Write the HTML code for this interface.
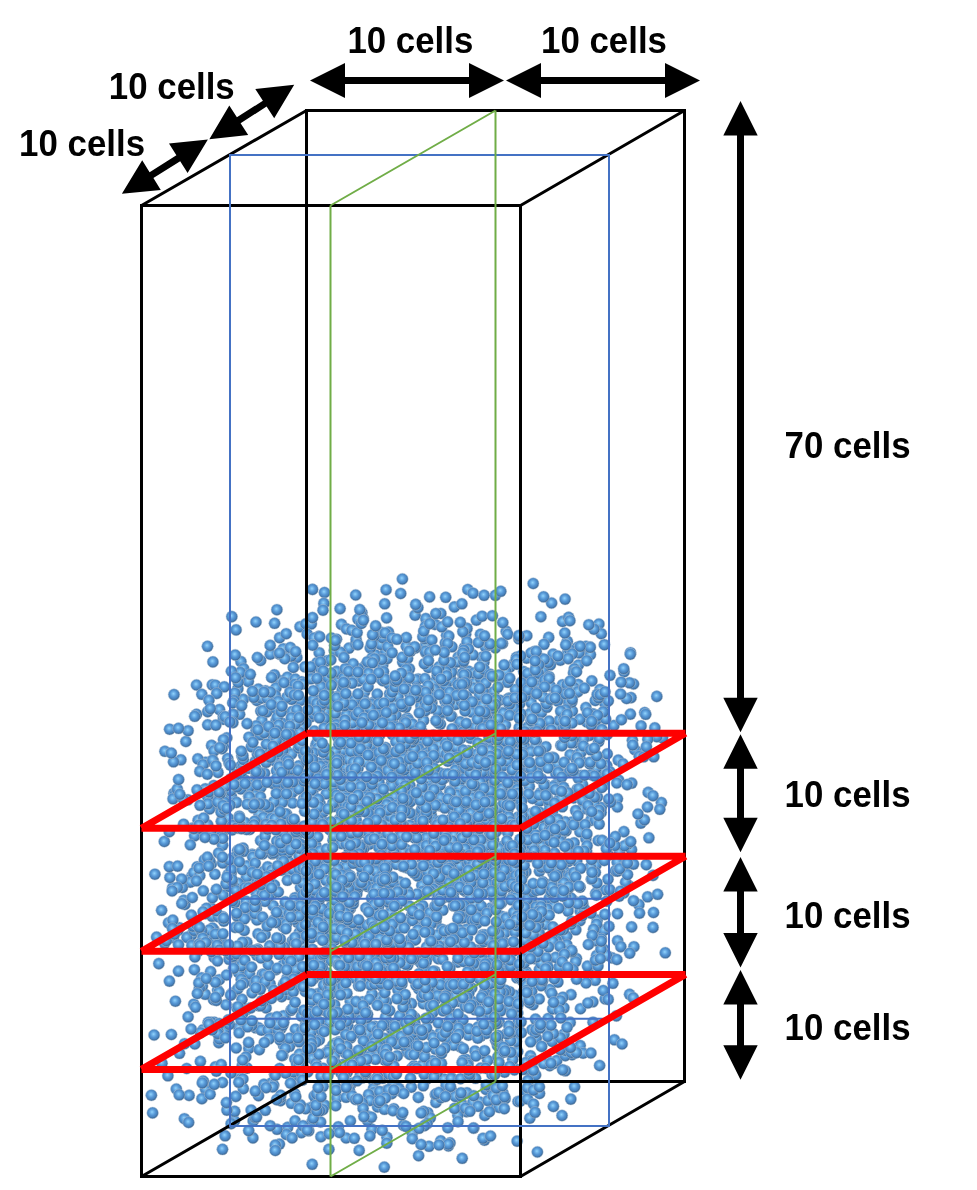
<!DOCTYPE html>
<html><head><meta charset="utf-8"><style>
html,body{margin:0;padding:0;background:#fff;width:977px;height:1190px;overflow:hidden}
svg{display:block}
text{font-family:"Liberation Sans",sans-serif;font-weight:bold;font-size:37px;fill:#000}
.tx{will-change:transform;opacity:0.999}
</style></head><body>
<svg width="977" height="1190" viewBox="0 0 977 1190">
<defs>
<radialGradient id="g" cx="0.47" cy="0.45" r="0.62" fx="0.45" fy="0.42">
<stop offset="0" stop-color="#92d5fb"/>
<stop offset="0.22" stop-color="#72b4ea"/>
<stop offset="0.45" stop-color="#5596d4"/>
<stop offset="0.66" stop-color="#4a84bf"/>
<stop offset="0.8" stop-color="#3d6c9c"/>
<stop offset="0.92" stop-color="#2f4f70"/>
<stop offset="1" stop-color="#2a4560"/>
</radialGradient>
</defs>
<g fill="url(#g)" stroke="#b0c6da" stroke-width="0.5">
<circle cx="330.2" cy="1006.5" r="5.8"/>
<circle cx="359.7" cy="1015.6" r="5.8"/>
<circle cx="362.1" cy="1016.3" r="5.8"/>
<circle cx="386.5" cy="1002.0" r="5.8"/>
<circle cx="360.4" cy="1063.2" r="5.8"/>
<circle cx="346.7" cy="944.3" r="5.8"/>
<circle cx="391.6" cy="920.0" r="5.8"/>
<circle cx="364.9" cy="1023.4" r="5.8"/>
<circle cx="309.9" cy="793.0" r="5.8"/>
<circle cx="367.5" cy="886.4" r="5.8"/>
<circle cx="310.8" cy="898.7" r="5.8"/>
<circle cx="354.2" cy="1053.5" r="5.8"/>
<circle cx="384.8" cy="1060.1" r="5.8"/>
<circle cx="302.2" cy="1070.4" r="5.8"/>
<circle cx="335.8" cy="906.7" r="5.8"/>
<circle cx="384.6" cy="875.5" r="5.8"/>
<circle cx="374.6" cy="914.7" r="5.8"/>
<circle cx="419.8" cy="975.8" r="5.8"/>
<circle cx="317.6" cy="993.7" r="5.8"/>
<circle cx="340.6" cy="1072.3" r="5.8"/>
<circle cx="323.5" cy="976.3" r="5.8"/>
<circle cx="307.1" cy="796.1" r="5.8"/>
<circle cx="372.8" cy="838.2" r="5.8"/>
<circle cx="333.3" cy="878.2" r="5.8"/>
<circle cx="323.4" cy="916.4" r="5.8"/>
<circle cx="410.6" cy="939.0" r="5.8"/>
<circle cx="351.5" cy="1083.3" r="5.8"/>
<circle cx="395.1" cy="850.8" r="5.8"/>
<circle cx="338.9" cy="914.2" r="5.8"/>
<circle cx="296.6" cy="845.5" r="5.8"/>
<circle cx="330.2" cy="858.8" r="5.8"/>
<circle cx="434.5" cy="915.3" r="5.8"/>
<circle cx="313.1" cy="1013.3" r="5.8"/>
<circle cx="347.7" cy="1025.7" r="5.8"/>
<circle cx="295.8" cy="942.8" r="5.8"/>
<circle cx="313.3" cy="782.1" r="5.8"/>
<circle cx="422.7" cy="927.7" r="5.8"/>
<circle cx="517.7" cy="1051.6" r="5.8"/>
<circle cx="283.0" cy="952.1" r="5.8"/>
<circle cx="300.6" cy="975.5" r="5.8"/>
<circle cx="314.9" cy="800.2" r="5.8"/>
<circle cx="424.8" cy="1056.1" r="5.8"/>
<circle cx="299.3" cy="932.6" r="5.8"/>
<circle cx="347.6" cy="789.4" r="5.8"/>
<circle cx="298.7" cy="765.9" r="5.8"/>
<circle cx="413.7" cy="940.4" r="5.8"/>
<circle cx="333.9" cy="806.5" r="5.8"/>
<circle cx="373.9" cy="918.9" r="5.8"/>
<circle cx="396.9" cy="941.9" r="5.8"/>
<circle cx="461.1" cy="917.3" r="5.8"/>
<circle cx="313.4" cy="972.0" r="5.8"/>
<circle cx="433.2" cy="858.4" r="5.8"/>
<circle cx="283.6" cy="1045.5" r="5.8"/>
<circle cx="301.4" cy="945.3" r="5.8"/>
<circle cx="380.4" cy="896.9" r="5.8"/>
<circle cx="300.6" cy="700.3" r="5.8"/>
<circle cx="384.9" cy="861.7" r="5.8"/>
<circle cx="347.6" cy="818.6" r="5.8"/>
<circle cx="303.0" cy="977.4" r="5.8"/>
<circle cx="373.8" cy="1033.8" r="5.8"/>
<circle cx="279.9" cy="1039.8" r="5.8"/>
<circle cx="304.0" cy="862.6" r="5.8"/>
<circle cx="335.1" cy="839.8" r="5.8"/>
<circle cx="309.4" cy="892.2" r="5.8"/>
<circle cx="380.6" cy="869.9" r="5.8"/>
<circle cx="330.4" cy="704.8" r="5.8"/>
<circle cx="430.8" cy="881.9" r="5.8"/>
<circle cx="313.5" cy="923.9" r="5.8"/>
<circle cx="424.8" cy="995.3" r="5.8"/>
<circle cx="397.2" cy="818.4" r="5.8"/>
<circle cx="270.1" cy="983.8" r="5.8"/>
<circle cx="436.0" cy="917.6" r="5.8"/>
<circle cx="273.8" cy="990.3" r="5.8"/>
<circle cx="416.3" cy="850.8" r="5.8"/>
<circle cx="450.1" cy="877.7" r="5.8"/>
<circle cx="349.1" cy="882.3" r="5.8"/>
<circle cx="468.4" cy="859.1" r="5.8"/>
<circle cx="290.4" cy="874.2" r="5.8"/>
<circle cx="401.9" cy="794.6" r="5.8"/>
<circle cx="375.1" cy="810.6" r="5.8"/>
<circle cx="362.9" cy="973.9" r="5.8"/>
<circle cx="358.2" cy="938.2" r="5.8"/>
<circle cx="370.8" cy="883.2" r="5.8"/>
<circle cx="342.3" cy="960.2" r="5.8"/>
<circle cx="289.4" cy="994.5" r="5.8"/>
<circle cx="376.1" cy="729.1" r="5.8"/>
<circle cx="391.5" cy="888.0" r="5.8"/>
<circle cx="321.3" cy="819.0" r="5.8"/>
<circle cx="516.3" cy="1041.4" r="5.8"/>
<circle cx="276.0" cy="969.6" r="5.8"/>
<circle cx="393.0" cy="1083.4" r="5.8"/>
<circle cx="375.5" cy="825.2" r="5.8"/>
<circle cx="297.9" cy="776.3" r="5.8"/>
<circle cx="335.5" cy="825.0" r="5.8"/>
<circle cx="288.4" cy="904.3" r="5.8"/>
<circle cx="549.8" cy="989.5" r="5.8"/>
<circle cx="442.9" cy="910.1" r="5.8"/>
<circle cx="355.7" cy="786.8" r="5.8"/>
<circle cx="326.7" cy="759.7" r="5.8"/>
<circle cx="492.1" cy="891.9" r="5.8"/>
<circle cx="459.0" cy="869.8" r="5.8"/>
<circle cx="341.2" cy="1048.8" r="5.8"/>
<circle cx="501.1" cy="891.7" r="5.8"/>
<circle cx="317.9" cy="817.8" r="5.8"/>
<circle cx="339.2" cy="770.8" r="5.8"/>
<circle cx="458.7" cy="918.9" r="5.8"/>
<circle cx="306.0" cy="1022.2" r="5.8"/>
<circle cx="482.0" cy="1018.4" r="5.8"/>
<circle cx="324.0" cy="924.7" r="5.8"/>
<circle cx="435.9" cy="921.4" r="5.8"/>
<circle cx="456.6" cy="995.6" r="5.8"/>
<circle cx="297.5" cy="922.3" r="5.8"/>
<circle cx="357.8" cy="889.2" r="5.8"/>
<circle cx="356.7" cy="894.1" r="5.8"/>
<circle cx="405.1" cy="1035.3" r="5.8"/>
<circle cx="345.2" cy="833.7" r="5.8"/>
<circle cx="484.4" cy="891.0" r="5.8"/>
<circle cx="330.0" cy="954.9" r="5.8"/>
<circle cx="465.5" cy="891.5" r="5.8"/>
<circle cx="504.6" cy="933.0" r="5.8"/>
<circle cx="333.3" cy="766.8" r="5.8"/>
<circle cx="378.9" cy="865.3" r="5.8"/>
<circle cx="339.8" cy="778.1" r="5.8"/>
<circle cx="437.4" cy="899.4" r="5.8"/>
<circle cx="347.8" cy="791.8" r="5.8"/>
<circle cx="407.3" cy="718.0" r="5.8"/>
<circle cx="526.2" cy="971.7" r="5.8"/>
<circle cx="450.4" cy="848.6" r="5.8"/>
<circle cx="337.7" cy="737.3" r="5.8"/>
<circle cx="303.9" cy="946.1" r="5.8"/>
<circle cx="434.1" cy="830.2" r="5.8"/>
<circle cx="292.6" cy="869.3" r="5.8"/>
<circle cx="432.8" cy="842.0" r="5.8"/>
<circle cx="465.3" cy="929.9" r="5.8"/>
<circle cx="436.4" cy="757.6" r="5.8"/>
<circle cx="378.9" cy="1098.7" r="5.8"/>
<circle cx="292.3" cy="941.0" r="5.8"/>
<circle cx="372.2" cy="745.1" r="5.8"/>
<circle cx="289.8" cy="773.0" r="5.8"/>
<circle cx="305.3" cy="1017.0" r="5.8"/>
<circle cx="379.7" cy="1027.6" r="5.8"/>
<circle cx="309.0" cy="867.2" r="5.8"/>
<circle cx="464.8" cy="940.8" r="5.8"/>
<circle cx="451.4" cy="1077.8" r="5.8"/>
<circle cx="369.3" cy="844.2" r="5.8"/>
<circle cx="338.9" cy="679.5" r="5.8"/>
<circle cx="345.9" cy="927.5" r="5.8"/>
<circle cx="324.9" cy="1105.4" r="5.8"/>
<circle cx="358.1" cy="850.2" r="5.8"/>
<circle cx="405.8" cy="811.0" r="5.8"/>
<circle cx="422.1" cy="739.9" r="5.8"/>
<circle cx="347.3" cy="1072.2" r="5.8"/>
<circle cx="273.1" cy="905.7" r="5.8"/>
<circle cx="397.3" cy="939.1" r="5.8"/>
<circle cx="473.9" cy="812.1" r="5.8"/>
<circle cx="290.2" cy="846.0" r="5.8"/>
<circle cx="465.9" cy="785.0" r="5.8"/>
<circle cx="410.1" cy="825.2" r="5.8"/>
<circle cx="393.1" cy="723.4" r="5.8"/>
<circle cx="445.7" cy="739.2" r="5.8"/>
<circle cx="285.6" cy="749.4" r="5.8"/>
<circle cx="411.3" cy="916.4" r="5.8"/>
<circle cx="379.9" cy="997.8" r="5.8"/>
<circle cx="343.7" cy="904.6" r="5.8"/>
<circle cx="372.7" cy="1099.9" r="5.8"/>
<circle cx="311.9" cy="872.7" r="5.8"/>
<circle cx="541.5" cy="918.3" r="5.8"/>
<circle cx="364.7" cy="799.5" r="5.8"/>
<circle cx="460.8" cy="904.8" r="5.8"/>
<circle cx="428.0" cy="930.4" r="5.8"/>
<circle cx="281.5" cy="920.1" r="5.8"/>
<circle cx="503.2" cy="956.0" r="5.8"/>
<circle cx="303.7" cy="755.2" r="5.8"/>
<circle cx="380.4" cy="820.9" r="5.8"/>
<circle cx="413.1" cy="814.5" r="5.8"/>
<circle cx="379.9" cy="955.9" r="5.8"/>
<circle cx="477.9" cy="798.5" r="5.8"/>
<circle cx="397.0" cy="1022.0" r="5.8"/>
<circle cx="471.9" cy="836.8" r="5.8"/>
<circle cx="276.7" cy="792.1" r="5.8"/>
<circle cx="398.6" cy="861.6" r="5.8"/>
<circle cx="408.8" cy="754.4" r="5.8"/>
<circle cx="285.9" cy="796.8" r="5.8"/>
<circle cx="287.0" cy="739.3" r="5.8"/>
<circle cx="373.6" cy="1081.3" r="5.8"/>
<circle cx="342.8" cy="721.6" r="5.8"/>
<circle cx="386.4" cy="726.2" r="5.8"/>
<circle cx="353.2" cy="776.6" r="5.8"/>
<circle cx="439.3" cy="745.0" r="5.8"/>
<circle cx="328.6" cy="782.4" r="5.8"/>
<circle cx="490.8" cy="1020.8" r="5.8"/>
<circle cx="349.5" cy="706.8" r="5.8"/>
<circle cx="399.7" cy="919.5" r="5.8"/>
<circle cx="339.3" cy="795.9" r="5.8"/>
<circle cx="490.9" cy="973.4" r="5.8"/>
<circle cx="554.7" cy="997.9" r="5.8"/>
<circle cx="417.5" cy="735.1" r="5.8"/>
<circle cx="519.1" cy="931.4" r="5.8"/>
<circle cx="378.9" cy="847.5" r="5.8"/>
<circle cx="313.7" cy="1053.3" r="5.8"/>
<circle cx="387.8" cy="767.2" r="5.8"/>
<circle cx="310.4" cy="773.5" r="5.8"/>
<circle cx="497.5" cy="962.1" r="5.8"/>
<circle cx="396.0" cy="751.9" r="5.8"/>
<circle cx="525.7" cy="914.3" r="5.8"/>
<circle cx="274.9" cy="848.6" r="5.8"/>
<circle cx="444.0" cy="1079.0" r="5.8"/>
<circle cx="550.1" cy="936.3" r="5.8"/>
<circle cx="531.6" cy="835.4" r="5.8"/>
<circle cx="421.6" cy="809.4" r="5.8"/>
<circle cx="486.0" cy="1089.4" r="5.8"/>
<circle cx="419.1" cy="930.2" r="5.8"/>
<circle cx="428.4" cy="667.5" r="5.8"/>
<circle cx="384.6" cy="761.8" r="5.8"/>
<circle cx="517.1" cy="921.0" r="5.8"/>
<circle cx="512.6" cy="896.8" r="5.8"/>
<circle cx="398.0" cy="732.3" r="5.8"/>
<circle cx="380.4" cy="773.9" r="5.8"/>
<circle cx="248.8" cy="1048.4" r="5.8"/>
<circle cx="349.8" cy="890.0" r="5.8"/>
<circle cx="375.8" cy="1036.3" r="5.8"/>
<circle cx="372.0" cy="993.9" r="5.8"/>
<circle cx="473.9" cy="810.0" r="5.8"/>
<circle cx="264.8" cy="849.3" r="5.8"/>
<circle cx="492.1" cy="752.1" r="5.8"/>
<circle cx="476.4" cy="768.3" r="5.8"/>
<circle cx="515.3" cy="918.4" r="5.8"/>
<circle cx="280.6" cy="943.6" r="5.8"/>
<circle cx="549.4" cy="941.5" r="5.8"/>
<circle cx="331.4" cy="932.8" r="5.8"/>
<circle cx="313.6" cy="841.9" r="5.8"/>
<circle cx="535.5" cy="958.8" r="5.8"/>
<circle cx="431.3" cy="815.5" r="5.8"/>
<circle cx="283.0" cy="926.4" r="5.8"/>
<circle cx="455.2" cy="777.2" r="5.8"/>
<circle cx="461.6" cy="775.7" r="5.8"/>
<circle cx="443.3" cy="941.7" r="5.8"/>
<circle cx="319.2" cy="680.3" r="5.8"/>
<circle cx="425.0" cy="861.3" r="5.8"/>
<circle cx="467.7" cy="848.9" r="5.8"/>
<circle cx="406.3" cy="680.8" r="5.8"/>
<circle cx="400.3" cy="689.8" r="5.8"/>
<circle cx="449.8" cy="750.1" r="5.8"/>
<circle cx="427.1" cy="752.5" r="5.8"/>
<circle cx="376.1" cy="628.3" r="5.8"/>
<circle cx="367.1" cy="713.1" r="5.8"/>
<circle cx="454.1" cy="771.9" r="5.8"/>
<circle cx="362.5" cy="1077.9" r="5.8"/>
<circle cx="289.1" cy="957.5" r="5.8"/>
<circle cx="456.6" cy="703.8" r="5.8"/>
<circle cx="424.9" cy="894.1" r="5.8"/>
<circle cx="401.9" cy="811.8" r="5.8"/>
<circle cx="292.3" cy="970.8" r="5.8"/>
<circle cx="494.2" cy="852.5" r="5.8"/>
<circle cx="426.9" cy="841.5" r="5.8"/>
<circle cx="478.9" cy="870.0" r="5.8"/>
<circle cx="375.3" cy="837.0" r="5.8"/>
<circle cx="423.4" cy="1003.6" r="5.8"/>
<circle cx="399.5" cy="835.3" r="5.8"/>
<circle cx="536.3" cy="1038.0" r="5.8"/>
<circle cx="408.4" cy="786.0" r="5.8"/>
<circle cx="549.3" cy="898.2" r="5.8"/>
<circle cx="279.3" cy="756.3" r="5.8"/>
<circle cx="278.3" cy="796.1" r="5.8"/>
<circle cx="535.5" cy="956.9" r="5.8"/>
<circle cx="510.5" cy="1040.7" r="5.8"/>
<circle cx="473.8" cy="813.0" r="5.8"/>
<circle cx="423.1" cy="756.2" r="5.8"/>
<circle cx="469.9" cy="804.6" r="5.8"/>
<circle cx="447.8" cy="761.2" r="5.8"/>
<circle cx="463.6" cy="939.6" r="5.8"/>
<circle cx="378.2" cy="964.9" r="5.8"/>
<circle cx="234.5" cy="1120.8" r="5.8"/>
<circle cx="406.8" cy="949.8" r="5.8"/>
<circle cx="367.5" cy="1033.5" r="5.8"/>
<circle cx="307.1" cy="949.5" r="5.8"/>
<circle cx="342.4" cy="794.8" r="5.8"/>
<circle cx="315.8" cy="745.4" r="5.8"/>
<circle cx="596.5" cy="929.5" r="5.8"/>
<circle cx="340.8" cy="802.1" r="5.8"/>
<circle cx="362.4" cy="873.4" r="5.8"/>
<circle cx="307.2" cy="934.4" r="5.8"/>
<circle cx="339.3" cy="819.2" r="5.8"/>
<circle cx="498.6" cy="731.7" r="5.8"/>
<circle cx="435.5" cy="821.8" r="5.8"/>
<circle cx="471.9" cy="1001.4" r="5.8"/>
<circle cx="360.6" cy="794.3" r="5.8"/>
<circle cx="476.1" cy="950.4" r="5.8"/>
<circle cx="416.1" cy="829.8" r="5.8"/>
<circle cx="501.7" cy="828.5" r="5.8"/>
<circle cx="310.7" cy="996.1" r="5.8"/>
<circle cx="438.2" cy="718.4" r="5.8"/>
<circle cx="548.1" cy="1018.5" r="5.8"/>
<circle cx="350.2" cy="1017.6" r="5.8"/>
<circle cx="317.8" cy="861.6" r="5.8"/>
<circle cx="617.6" cy="940.7" r="5.8"/>
<circle cx="258.0" cy="933.8" r="5.8"/>
<circle cx="475.4" cy="682.5" r="5.8"/>
<circle cx="435.2" cy="751.1" r="5.8"/>
<circle cx="482.1" cy="979.5" r="5.8"/>
<circle cx="514.5" cy="1068.4" r="5.8"/>
<circle cx="335.1" cy="1043.5" r="5.8"/>
<circle cx="518.9" cy="970.2" r="5.8"/>
<circle cx="280.4" cy="1071.4" r="5.8"/>
<circle cx="262.3" cy="974.4" r="5.8"/>
<circle cx="504.6" cy="804.5" r="5.8"/>
<circle cx="438.1" cy="952.0" r="5.8"/>
<circle cx="304.2" cy="912.4" r="5.8"/>
<circle cx="517.6" cy="924.9" r="5.8"/>
<circle cx="341.3" cy="898.0" r="5.8"/>
<circle cx="342.1" cy="829.1" r="5.8"/>
<circle cx="458.5" cy="805.5" r="5.8"/>
<circle cx="442.8" cy="977.7" r="5.8"/>
<circle cx="557.9" cy="982.1" r="5.8"/>
<circle cx="375.2" cy="817.3" r="5.8"/>
<circle cx="279.6" cy="847.6" r="5.8"/>
<circle cx="472.2" cy="805.4" r="5.8"/>
<circle cx="323.7" cy="811.6" r="5.8"/>
<circle cx="434.5" cy="990.9" r="5.8"/>
<circle cx="334.3" cy="1056.1" r="5.8"/>
<circle cx="280.6" cy="1100.6" r="5.8"/>
<circle cx="273.7" cy="920.0" r="5.8"/>
<circle cx="467.2" cy="981.4" r="5.8"/>
<circle cx="445.7" cy="743.5" r="5.8"/>
<circle cx="539.4" cy="969.5" r="5.8"/>
<circle cx="316.9" cy="1099.1" r="5.8"/>
<circle cx="568.4" cy="861.4" r="5.8"/>
<circle cx="498.6" cy="807.8" r="5.8"/>
<circle cx="280.1" cy="680.6" r="5.8"/>
<circle cx="446.2" cy="822.0" r="5.8"/>
<circle cx="482.1" cy="801.7" r="5.8"/>
<circle cx="432.8" cy="986.8" r="5.8"/>
<circle cx="352.9" cy="708.6" r="5.8"/>
<circle cx="327.0" cy="862.9" r="5.8"/>
<circle cx="399.1" cy="769.1" r="5.8"/>
<circle cx="282.2" cy="841.7" r="5.8"/>
<circle cx="430.6" cy="990.1" r="5.8"/>
<circle cx="374.1" cy="883.3" r="5.8"/>
<circle cx="414.1" cy="729.3" r="5.8"/>
<circle cx="412.6" cy="796.8" r="5.8"/>
<circle cx="345.0" cy="724.6" r="5.8"/>
<circle cx="387.3" cy="944.8" r="5.8"/>
<circle cx="422.7" cy="804.9" r="5.8"/>
<circle cx="423.3" cy="822.2" r="5.8"/>
<circle cx="342.5" cy="719.9" r="5.8"/>
<circle cx="261.2" cy="852.0" r="5.8"/>
<circle cx="461.5" cy="659.6" r="5.8"/>
<circle cx="291.7" cy="1072.4" r="5.8"/>
<circle cx="506.6" cy="759.0" r="5.8"/>
<circle cx="434.3" cy="998.1" r="5.8"/>
<circle cx="338.8" cy="773.1" r="5.8"/>
<circle cx="559.5" cy="798.9" r="5.8"/>
<circle cx="551.9" cy="826.4" r="5.8"/>
<circle cx="482.0" cy="958.1" r="5.8"/>
<circle cx="266.1" cy="1007.9" r="5.8"/>
<circle cx="426.3" cy="1079.3" r="5.8"/>
<circle cx="283.7" cy="783.4" r="5.8"/>
<circle cx="471.1" cy="874.8" r="5.8"/>
<circle cx="511.9" cy="765.6" r="5.8"/>
<circle cx="419.5" cy="895.3" r="5.8"/>
<circle cx="416.6" cy="920.8" r="5.8"/>
<circle cx="317.3" cy="865.0" r="5.8"/>
<circle cx="462.3" cy="793.4" r="5.8"/>
<circle cx="519.2" cy="727.7" r="5.8"/>
<circle cx="540.6" cy="842.0" r="5.8"/>
<circle cx="576.4" cy="958.5" r="5.8"/>
<circle cx="503.6" cy="969.0" r="5.8"/>
<circle cx="347.1" cy="798.0" r="5.8"/>
<circle cx="345.0" cy="865.0" r="5.8"/>
<circle cx="421.8" cy="885.3" r="5.8"/>
<circle cx="532.9" cy="922.4" r="5.8"/>
<circle cx="264.4" cy="974.1" r="5.8"/>
<circle cx="493.7" cy="897.1" r="5.8"/>
<circle cx="489.0" cy="769.9" r="5.8"/>
<circle cx="322.6" cy="990.9" r="5.8"/>
<circle cx="304.5" cy="846.8" r="5.8"/>
<circle cx="330.7" cy="943.5" r="5.8"/>
<circle cx="612.1" cy="957.9" r="5.8"/>
<circle cx="339.3" cy="834.2" r="5.8"/>
<circle cx="522.1" cy="747.9" r="5.8"/>
<circle cx="400.6" cy="702.9" r="5.8"/>
<circle cx="246.9" cy="1009.3" r="5.8"/>
<circle cx="350.3" cy="908.5" r="5.8"/>
<circle cx="450.9" cy="679.4" r="5.8"/>
<circle cx="386.0" cy="797.4" r="5.8"/>
<circle cx="580.2" cy="1045.6" r="5.8"/>
<circle cx="387.9" cy="971.9" r="5.8"/>
<circle cx="378.6" cy="906.4" r="5.8"/>
<circle cx="373.5" cy="1088.5" r="5.8"/>
<circle cx="461.7" cy="1021.1" r="5.8"/>
<circle cx="431.3" cy="844.7" r="5.8"/>
<circle cx="315.4" cy="1103.9" r="5.8"/>
<circle cx="484.2" cy="821.6" r="5.8"/>
<circle cx="493.5" cy="785.2" r="5.8"/>
<circle cx="481.2" cy="804.3" r="5.8"/>
<circle cx="430.2" cy="941.3" r="5.8"/>
<circle cx="274.8" cy="921.5" r="5.8"/>
<circle cx="563.9" cy="1007.8" r="5.8"/>
<circle cx="325.7" cy="711.7" r="5.8"/>
<circle cx="443.0" cy="712.8" r="5.8"/>
<circle cx="526.6" cy="852.8" r="5.8"/>
<circle cx="450.2" cy="663.2" r="5.8"/>
<circle cx="380.0" cy="972.3" r="5.8"/>
<circle cx="539.5" cy="871.2" r="5.8"/>
<circle cx="358.6" cy="1054.9" r="5.8"/>
<circle cx="318.0" cy="1024.1" r="5.8"/>
<circle cx="502.2" cy="681.9" r="5.8"/>
<circle cx="509.2" cy="790.3" r="5.8"/>
<circle cx="441.4" cy="851.5" r="5.8"/>
<circle cx="348.9" cy="817.8" r="5.8"/>
<circle cx="312.2" cy="905.0" r="5.8"/>
<circle cx="504.6" cy="1072.1" r="5.8"/>
<circle cx="461.9" cy="814.8" r="5.8"/>
<circle cx="294.4" cy="790.6" r="5.8"/>
<circle cx="541.1" cy="985.7" r="5.8"/>
<circle cx="317.0" cy="662.7" r="5.8"/>
<circle cx="552.9" cy="927.6" r="5.8"/>
<circle cx="244.2" cy="930.5" r="5.8"/>
<circle cx="573.7" cy="798.0" r="5.8"/>
<circle cx="564.0" cy="1034.1" r="5.8"/>
<circle cx="464.4" cy="647.6" r="5.8"/>
<circle cx="382.8" cy="987.0" r="5.8"/>
<circle cx="392.4" cy="1031.4" r="5.8"/>
<circle cx="468.8" cy="671.3" r="5.8"/>
<circle cx="575.6" cy="961.7" r="5.8"/>
<circle cx="460.1" cy="701.4" r="5.8"/>
<circle cx="407.1" cy="1051.8" r="5.8"/>
<circle cx="502.1" cy="916.5" r="5.8"/>
<circle cx="363.9" cy="848.3" r="5.8"/>
<circle cx="291.5" cy="754.0" r="5.8"/>
<circle cx="431.9" cy="1013.6" r="5.8"/>
<circle cx="331.4" cy="906.3" r="5.8"/>
<circle cx="372.6" cy="796.6" r="5.8"/>
<circle cx="417.7" cy="957.9" r="5.8"/>
<circle cx="525.8" cy="871.7" r="5.8"/>
<circle cx="312.0" cy="1058.5" r="5.8"/>
<circle cx="298.2" cy="896.8" r="5.8"/>
<circle cx="484.6" cy="842.5" r="5.8"/>
<circle cx="521.5" cy="682.2" r="5.8"/>
<circle cx="501.4" cy="903.0" r="5.8"/>
<circle cx="485.8" cy="821.1" r="5.8"/>
<circle cx="303.2" cy="1012.4" r="5.8"/>
<circle cx="260.0" cy="893.8" r="5.8"/>
<circle cx="536.2" cy="741.3" r="5.8"/>
<circle cx="395.4" cy="896.5" r="5.8"/>
<circle cx="340.1" cy="608.6" r="5.8"/>
<circle cx="287.4" cy="677.2" r="5.8"/>
<circle cx="311.0" cy="716.6" r="5.8"/>
<circle cx="598.2" cy="890.0" r="5.8"/>
<circle cx="290.4" cy="690.4" r="5.8"/>
<circle cx="489.9" cy="759.0" r="5.8"/>
<circle cx="473.7" cy="688.1" r="5.8"/>
<circle cx="375.9" cy="713.4" r="5.8"/>
<circle cx="388.9" cy="884.0" r="5.8"/>
<circle cx="502.4" cy="712.5" r="5.8"/>
<circle cx="539.4" cy="801.1" r="5.8"/>
<circle cx="523.9" cy="843.3" r="5.8"/>
<circle cx="348.9" cy="848.3" r="5.8"/>
<circle cx="437.4" cy="883.7" r="5.8"/>
<circle cx="346.4" cy="714.6" r="5.8"/>
<circle cx="633.9" cy="946.7" r="5.8"/>
<circle cx="352.5" cy="731.8" r="5.8"/>
<circle cx="400.8" cy="923.2" r="5.8"/>
<circle cx="338.2" cy="768.9" r="5.8"/>
<circle cx="345.8" cy="839.7" r="5.8"/>
<circle cx="464.5" cy="915.4" r="5.8"/>
<circle cx="530.9" cy="925.9" r="5.8"/>
<circle cx="617.2" cy="862.2" r="5.8"/>
<circle cx="647.6" cy="896.8" r="5.8"/>
<circle cx="392.8" cy="1030.8" r="5.8"/>
<circle cx="266.7" cy="810.9" r="5.8"/>
<circle cx="354.7" cy="703.3" r="5.8"/>
<circle cx="249.4" cy="973.8" r="5.8"/>
<circle cx="401.6" cy="762.5" r="5.8"/>
<circle cx="366.6" cy="744.6" r="5.8"/>
<circle cx="350.8" cy="950.9" r="5.8"/>
<circle cx="457.8" cy="962.1" r="5.8"/>
<circle cx="523.8" cy="746.0" r="5.8"/>
<circle cx="428.6" cy="843.1" r="5.8"/>
<circle cx="314.2" cy="1096.1" r="5.8"/>
<circle cx="418.7" cy="989.0" r="5.8"/>
<circle cx="356.2" cy="820.0" r="5.8"/>
<circle cx="449.0" cy="840.4" r="5.8"/>
<circle cx="543.3" cy="851.3" r="5.8"/>
<circle cx="603.9" cy="857.7" r="5.8"/>
<circle cx="445.7" cy="646.6" r="5.8"/>
<circle cx="398.3" cy="704.5" r="5.8"/>
<circle cx="486.2" cy="804.0" r="5.8"/>
<circle cx="553.0" cy="873.1" r="5.8"/>
<circle cx="581.5" cy="809.4" r="5.8"/>
<circle cx="401.8" cy="753.0" r="5.8"/>
<circle cx="377.1" cy="772.0" r="5.8"/>
<circle cx="479.8" cy="1036.4" r="5.8"/>
<circle cx="505.1" cy="1098.7" r="5.8"/>
<circle cx="449.3" cy="969.6" r="5.8"/>
<circle cx="520.8" cy="732.4" r="5.8"/>
<circle cx="349.0" cy="909.6" r="5.8"/>
<circle cx="499.2" cy="1021.9" r="5.8"/>
<circle cx="496.6" cy="715.8" r="5.8"/>
<circle cx="559.4" cy="884.1" r="5.8"/>
<circle cx="262.2" cy="890.4" r="5.8"/>
<circle cx="480.0" cy="967.0" r="5.8"/>
<circle cx="552.4" cy="811.8" r="5.8"/>
<circle cx="532.5" cy="798.4" r="5.8"/>
<circle cx="397.2" cy="729.8" r="5.8"/>
<circle cx="473.6" cy="786.9" r="5.8"/>
<circle cx="444.3" cy="758.1" r="5.8"/>
<circle cx="508.2" cy="852.0" r="5.8"/>
<circle cx="331.7" cy="921.3" r="5.8"/>
<circle cx="599.8" cy="955.6" r="5.8"/>
<circle cx="294.4" cy="952.2" r="5.8"/>
<circle cx="400.2" cy="1091.0" r="5.8"/>
<circle cx="266.3" cy="952.8" r="5.8"/>
<circle cx="256.3" cy="908.5" r="5.8"/>
<circle cx="253.9" cy="983.3" r="5.8"/>
<circle cx="472.2" cy="833.1" r="5.8"/>
<circle cx="414.3" cy="956.2" r="5.8"/>
<circle cx="310.5" cy="1107.7" r="5.8"/>
<circle cx="296.2" cy="962.5" r="5.8"/>
<circle cx="510.5" cy="712.8" r="5.8"/>
<circle cx="317.9" cy="808.0" r="5.8"/>
<circle cx="404.5" cy="719.7" r="5.8"/>
<circle cx="513.7" cy="663.9" r="5.8"/>
<circle cx="252.0" cy="903.7" r="5.8"/>
<circle cx="346.3" cy="767.6" r="5.8"/>
<circle cx="484.0" cy="843.7" r="5.8"/>
<circle cx="429.2" cy="956.0" r="5.8"/>
<circle cx="470.9" cy="768.5" r="5.8"/>
<circle cx="431.4" cy="1073.8" r="5.8"/>
<circle cx="301.5" cy="1070.0" r="5.8"/>
<circle cx="435.0" cy="985.1" r="5.8"/>
<circle cx="462.5" cy="680.3" r="5.8"/>
<circle cx="549.2" cy="803.6" r="5.8"/>
<circle cx="560.5" cy="837.5" r="5.8"/>
<circle cx="595.8" cy="972.5" r="5.8"/>
<circle cx="598.2" cy="840.5" r="5.8"/>
<circle cx="360.9" cy="866.8" r="5.8"/>
<circle cx="375.8" cy="763.0" r="5.8"/>
<circle cx="492.6" cy="946.3" r="5.8"/>
<circle cx="384.1" cy="820.0" r="5.8"/>
<circle cx="582.5" cy="784.6" r="5.8"/>
<circle cx="525.0" cy="954.5" r="5.8"/>
<circle cx="267.9" cy="754.9" r="5.8"/>
<circle cx="511.2" cy="999.2" r="5.8"/>
<circle cx="466.7" cy="801.0" r="5.8"/>
<circle cx="347.1" cy="1064.6" r="5.8"/>
<circle cx="424.8" cy="922.0" r="5.8"/>
<circle cx="300.2" cy="876.9" r="5.8"/>
<circle cx="353.7" cy="1015.8" r="5.8"/>
<circle cx="438.5" cy="945.6" r="5.8"/>
<circle cx="566.7" cy="936.2" r="5.8"/>
<circle cx="264.5" cy="773.2" r="5.8"/>
<circle cx="385.6" cy="1017.2" r="5.8"/>
<circle cx="562.5" cy="684.8" r="5.8"/>
<circle cx="511.8" cy="880.4" r="5.8"/>
<circle cx="527.3" cy="1069.9" r="5.8"/>
<circle cx="282.0" cy="856.2" r="5.8"/>
<circle cx="362.9" cy="845.4" r="5.8"/>
<circle cx="323.7" cy="985.1" r="5.8"/>
<circle cx="543.1" cy="924.8" r="5.8"/>
<circle cx="455.2" cy="704.4" r="5.8"/>
<circle cx="478.7" cy="809.7" r="5.8"/>
<circle cx="315.8" cy="845.7" r="5.8"/>
<circle cx="564.5" cy="871.5" r="5.8"/>
<circle cx="291.4" cy="1103.3" r="5.8"/>
<circle cx="382.1" cy="718.4" r="5.8"/>
<circle cx="653.0" cy="875.4" r="5.8"/>
<circle cx="467.0" cy="929.3" r="5.8"/>
<circle cx="626.4" cy="863.1" r="5.8"/>
<circle cx="316.7" cy="743.3" r="5.8"/>
<circle cx="361.3" cy="1049.9" r="5.8"/>
<circle cx="465.7" cy="763.7" r="5.8"/>
<circle cx="399.8" cy="861.8" r="5.8"/>
<circle cx="375.8" cy="834.1" r="5.8"/>
<circle cx="573.7" cy="900.8" r="5.8"/>
<circle cx="287.4" cy="880.3" r="5.8"/>
<circle cx="554.1" cy="906.4" r="5.8"/>
<circle cx="310.1" cy="704.8" r="5.8"/>
<circle cx="327.5" cy="922.5" r="5.8"/>
<circle cx="517.8" cy="695.6" r="5.8"/>
<circle cx="541.4" cy="672.9" r="5.8"/>
<circle cx="472.9" cy="736.7" r="5.8"/>
<circle cx="374.9" cy="1026.4" r="5.8"/>
<circle cx="327.6" cy="731.7" r="5.8"/>
<circle cx="603.4" cy="949.0" r="5.8"/>
<circle cx="300.1" cy="714.7" r="5.8"/>
<circle cx="312.5" cy="949.4" r="5.8"/>
<circle cx="629.6" cy="994.3" r="5.8"/>
<circle cx="368.6" cy="1116.4" r="5.8"/>
<circle cx="493.5" cy="831.9" r="5.8"/>
<circle cx="490.1" cy="698.1" r="5.8"/>
<circle cx="559.0" cy="801.9" r="5.8"/>
<circle cx="352.3" cy="768.8" r="5.8"/>
<circle cx="407.6" cy="965.2" r="5.8"/>
<circle cx="379.4" cy="735.5" r="5.8"/>
<circle cx="382.7" cy="1078.3" r="5.8"/>
<circle cx="488.8" cy="874.8" r="5.8"/>
<circle cx="283.4" cy="909.4" r="5.8"/>
<circle cx="317.7" cy="836.9" r="5.8"/>
<circle cx="286.6" cy="814.1" r="5.8"/>
<circle cx="488.9" cy="741.8" r="5.8"/>
<circle cx="308.1" cy="917.3" r="5.8"/>
<circle cx="377.1" cy="919.3" r="5.8"/>
<circle cx="510.0" cy="667.0" r="5.8"/>
<circle cx="305.3" cy="991.4" r="5.8"/>
<circle cx="331.6" cy="1023.5" r="5.8"/>
<circle cx="454.9" cy="782.6" r="5.8"/>
<circle cx="281.7" cy="705.9" r="5.8"/>
<circle cx="340.5" cy="819.9" r="5.8"/>
<circle cx="616.4" cy="1015.9" r="5.8"/>
<circle cx="439.8" cy="828.9" r="5.8"/>
<circle cx="326.2" cy="894.6" r="5.8"/>
<circle cx="270.4" cy="1036.4" r="5.8"/>
<circle cx="242.6" cy="1013.5" r="5.8"/>
<circle cx="523.4" cy="991.9" r="5.8"/>
<circle cx="471.4" cy="831.7" r="5.8"/>
<circle cx="340.7" cy="674.2" r="5.8"/>
<circle cx="467.5" cy="704.6" r="5.8"/>
<circle cx="325.2" cy="936.9" r="5.8"/>
<circle cx="349.0" cy="648.1" r="5.8"/>
<circle cx="289.5" cy="1046.3" r="5.8"/>
<circle cx="324.0" cy="1010.1" r="5.8"/>
<circle cx="266.5" cy="709.4" r="5.8"/>
<circle cx="354.6" cy="707.0" r="5.8"/>
<circle cx="257.0" cy="880.1" r="5.8"/>
<circle cx="527.9" cy="900.6" r="5.8"/>
<circle cx="425.8" cy="618.6" r="5.8"/>
<circle cx="350.7" cy="1037.8" r="5.8"/>
<circle cx="484.8" cy="992.9" r="5.8"/>
<circle cx="384.1" cy="1038.4" r="5.8"/>
<circle cx="375.4" cy="1079.0" r="5.8"/>
<circle cx="404.9" cy="781.1" r="5.8"/>
<circle cx="563.9" cy="860.4" r="5.8"/>
<circle cx="453.5" cy="864.4" r="5.8"/>
<circle cx="274.1" cy="760.5" r="5.8"/>
<circle cx="382.0" cy="678.4" r="5.8"/>
<circle cx="470.8" cy="950.9" r="5.8"/>
<circle cx="318.0" cy="779.3" r="5.8"/>
<circle cx="556.2" cy="784.3" r="5.8"/>
<circle cx="327.9" cy="675.5" r="5.8"/>
<circle cx="489.3" cy="733.6" r="5.8"/>
<circle cx="375.7" cy="655.0" r="5.8"/>
<circle cx="310.9" cy="896.6" r="5.8"/>
<circle cx="440.8" cy="683.0" r="5.8"/>
<circle cx="375.3" cy="861.8" r="5.8"/>
<circle cx="435.9" cy="1102.4" r="5.8"/>
<circle cx="334.1" cy="934.7" r="5.8"/>
<circle cx="638.9" cy="904.6" r="5.8"/>
<circle cx="602.1" cy="840.4" r="5.8"/>
<circle cx="445.1" cy="701.2" r="5.8"/>
<circle cx="508.0" cy="796.1" r="5.8"/>
<circle cx="464.5" cy="903.8" r="5.8"/>
<circle cx="458.5" cy="1025.4" r="5.8"/>
<circle cx="428.8" cy="983.0" r="5.8"/>
<circle cx="405.8" cy="964.3" r="5.8"/>
<circle cx="406.2" cy="954.9" r="5.8"/>
<circle cx="439.8" cy="865.4" r="5.8"/>
<circle cx="412.9" cy="832.7" r="5.8"/>
<circle cx="339.8" cy="819.6" r="5.8"/>
<circle cx="358.9" cy="929.2" r="5.8"/>
<circle cx="301.6" cy="1016.2" r="5.8"/>
<circle cx="588.8" cy="973.9" r="5.8"/>
<circle cx="312.8" cy="700.7" r="5.8"/>
<circle cx="418.2" cy="679.0" r="5.8"/>
<circle cx="467.3" cy="995.4" r="5.8"/>
<circle cx="265.8" cy="832.3" r="5.8"/>
<circle cx="449.7" cy="791.3" r="5.8"/>
<circle cx="338.9" cy="884.2" r="5.8"/>
<circle cx="507.0" cy="886.8" r="5.8"/>
<circle cx="572.1" cy="1054.7" r="5.8"/>
<circle cx="255.1" cy="802.7" r="5.8"/>
<circle cx="540.7" cy="792.7" r="5.8"/>
<circle cx="532.2" cy="938.6" r="5.8"/>
<circle cx="438.3" cy="958.7" r="5.8"/>
<circle cx="547.8" cy="1060.6" r="5.8"/>
<circle cx="262.7" cy="727.8" r="5.8"/>
<circle cx="447.7" cy="662.7" r="5.8"/>
<circle cx="371.0" cy="858.0" r="5.8"/>
<circle cx="458.7" cy="724.8" r="5.8"/>
<circle cx="498.2" cy="1045.1" r="5.8"/>
<circle cx="476.4" cy="620.1" r="5.8"/>
<circle cx="423.3" cy="1085.8" r="5.8"/>
<circle cx="542.9" cy="726.0" r="5.8"/>
<circle cx="272.3" cy="853.8" r="5.8"/>
<circle cx="434.9" cy="971.3" r="5.8"/>
<circle cx="513.8" cy="792.1" r="5.8"/>
<circle cx="384.6" cy="850.6" r="5.8"/>
<circle cx="492.2" cy="1020.1" r="5.8"/>
<circle cx="392.1" cy="1029.0" r="5.8"/>
<circle cx="582.9" cy="825.9" r="5.8"/>
<circle cx="514.6" cy="995.3" r="5.8"/>
<circle cx="389.6" cy="693.8" r="5.8"/>
<circle cx="421.9" cy="997.1" r="5.8"/>
<circle cx="287.1" cy="978.1" r="5.8"/>
<circle cx="243.3" cy="1088.6" r="5.8"/>
<circle cx="585.9" cy="838.7" r="5.8"/>
<circle cx="482.0" cy="636.8" r="5.8"/>
<circle cx="314.2" cy="902.4" r="5.8"/>
<circle cx="233.2" cy="959.1" r="5.8"/>
<circle cx="290.1" cy="917.3" r="5.8"/>
<circle cx="404.9" cy="896.1" r="5.8"/>
<circle cx="304.1" cy="860.9" r="5.8"/>
<circle cx="348.5" cy="966.8" r="5.8"/>
<circle cx="604.0" cy="953.1" r="5.8"/>
<circle cx="603.8" cy="930.4" r="5.8"/>
<circle cx="572.9" cy="969.4" r="5.8"/>
<circle cx="307.3" cy="864.2" r="5.8"/>
<circle cx="333.3" cy="722.6" r="5.8"/>
<circle cx="449.8" cy="935.2" r="5.8"/>
<circle cx="306.1" cy="722.8" r="5.8"/>
<circle cx="351.0" cy="704.6" r="5.8"/>
<circle cx="406.3" cy="646.3" r="5.8"/>
<circle cx="537.0" cy="925.6" r="5.8"/>
<circle cx="475.7" cy="801.6" r="5.8"/>
<circle cx="591.4" cy="879.2" r="5.8"/>
<circle cx="342.2" cy="690.0" r="5.8"/>
<circle cx="634.8" cy="749.7" r="5.8"/>
<circle cx="530.9" cy="820.9" r="5.8"/>
<circle cx="361.8" cy="925.6" r="5.8"/>
<circle cx="570.2" cy="754.7" r="5.8"/>
<circle cx="281.7" cy="996.6" r="5.8"/>
<circle cx="409.0" cy="790.8" r="5.8"/>
<circle cx="305.6" cy="1108.7" r="5.8"/>
<circle cx="542.9" cy="670.4" r="5.8"/>
<circle cx="500.3" cy="827.3" r="5.8"/>
<circle cx="416.5" cy="1035.4" r="5.8"/>
<circle cx="247.9" cy="914.0" r="5.8"/>
<circle cx="311.2" cy="869.5" r="5.8"/>
<circle cx="264.9" cy="693.7" r="5.8"/>
<circle cx="399.8" cy="922.4" r="5.8"/>
<circle cx="665.3" cy="952.8" r="5.8"/>
<circle cx="370.1" cy="880.6" r="5.8"/>
<circle cx="460.1" cy="1046.7" r="5.8"/>
<circle cx="430.5" cy="864.0" r="5.8"/>
<circle cx="495.4" cy="647.8" r="5.8"/>
<circle cx="397.2" cy="1055.9" r="5.8"/>
<circle cx="349.4" cy="772.6" r="5.8"/>
<circle cx="357.3" cy="1051.6" r="5.8"/>
<circle cx="284.9" cy="1017.1" r="5.8"/>
<circle cx="653.0" cy="927.4" r="5.8"/>
<circle cx="547.7" cy="959.8" r="5.8"/>
<circle cx="509.4" cy="991.7" r="5.8"/>
<circle cx="606.7" cy="765.6" r="5.8"/>
<circle cx="525.5" cy="816.3" r="5.8"/>
<circle cx="350.3" cy="1001.2" r="5.8"/>
<circle cx="425.6" cy="645.3" r="5.8"/>
<circle cx="504.2" cy="942.7" r="5.8"/>
<circle cx="596.6" cy="955.6" r="5.8"/>
<circle cx="343.9" cy="774.6" r="5.8"/>
<circle cx="459.0" cy="692.6" r="5.8"/>
<circle cx="290.5" cy="970.6" r="5.8"/>
<circle cx="317.1" cy="785.9" r="5.8"/>
<circle cx="370.4" cy="937.3" r="5.8"/>
<circle cx="466.6" cy="1111.6" r="5.8"/>
<circle cx="369.1" cy="884.5" r="5.8"/>
<circle cx="422.3" cy="891.5" r="5.8"/>
<circle cx="453.5" cy="905.8" r="5.8"/>
<circle cx="561.4" cy="712.9" r="5.8"/>
<circle cx="243.3" cy="1022.0" r="5.8"/>
<circle cx="541.6" cy="756.1" r="5.8"/>
<circle cx="581.2" cy="775.6" r="5.8"/>
<circle cx="523.1" cy="875.1" r="5.8"/>
<circle cx="529.3" cy="786.4" r="5.8"/>
<circle cx="531.6" cy="991.4" r="5.8"/>
<circle cx="512.6" cy="1031.8" r="5.8"/>
<circle cx="381.9" cy="756.3" r="5.8"/>
<circle cx="436.9" cy="855.0" r="5.8"/>
<circle cx="363.2" cy="975.8" r="5.8"/>
<circle cx="551.6" cy="603.0" r="5.8"/>
<circle cx="560.5" cy="873.5" r="5.8"/>
<circle cx="631.5" cy="849.7" r="5.8"/>
<circle cx="447.9" cy="834.6" r="5.8"/>
<circle cx="606.6" cy="955.3" r="5.8"/>
<circle cx="449.8" cy="673.9" r="5.8"/>
<circle cx="284.8" cy="789.6" r="5.8"/>
<circle cx="601.3" cy="807.6" r="5.8"/>
<circle cx="620.8" cy="946.6" r="5.8"/>
<circle cx="512.7" cy="1059.5" r="5.8"/>
<circle cx="564.8" cy="953.7" r="5.8"/>
<circle cx="399.4" cy="881.7" r="5.8"/>
<circle cx="567.6" cy="652.7" r="5.8"/>
<circle cx="486.4" cy="789.0" r="5.8"/>
<circle cx="447.9" cy="977.6" r="5.8"/>
<circle cx="436.8" cy="835.1" r="5.8"/>
<circle cx="598.6" cy="741.7" r="5.8"/>
<circle cx="256.9" cy="700.5" r="5.8"/>
<circle cx="571.0" cy="994.6" r="5.8"/>
<circle cx="467.2" cy="909.3" r="5.8"/>
<circle cx="406.9" cy="745.4" r="5.8"/>
<circle cx="370.1" cy="968.4" r="5.8"/>
<circle cx="585.9" cy="707.5" r="5.8"/>
<circle cx="385.1" cy="774.3" r="5.8"/>
<circle cx="524.5" cy="848.8" r="5.8"/>
<circle cx="411.4" cy="1003.6" r="5.8"/>
<circle cx="550.4" cy="857.7" r="5.8"/>
<circle cx="391.7" cy="779.8" r="5.8"/>
<circle cx="292.5" cy="845.1" r="5.8"/>
<circle cx="414.8" cy="916.8" r="5.8"/>
<circle cx="599.6" cy="1065.5" r="5.8"/>
<circle cx="370.3" cy="648.0" r="5.8"/>
<circle cx="312.9" cy="899.7" r="5.8"/>
<circle cx="546.2" cy="829.0" r="5.8"/>
<circle cx="335.2" cy="940.0" r="5.8"/>
<circle cx="469.1" cy="893.1" r="5.8"/>
<circle cx="382.9" cy="822.2" r="5.8"/>
<circle cx="272.9" cy="893.2" r="5.8"/>
<circle cx="427.5" cy="708.8" r="5.8"/>
<circle cx="336.7" cy="671.4" r="5.8"/>
<circle cx="397.9" cy="989.8" r="5.8"/>
<circle cx="419.8" cy="820.5" r="5.8"/>
<circle cx="384.0" cy="1074.3" r="5.8"/>
<circle cx="285.3" cy="1048.5" r="5.8"/>
<circle cx="368.8" cy="824.0" r="5.8"/>
<circle cx="499.7" cy="998.1" r="5.8"/>
<circle cx="281.7" cy="857.6" r="5.8"/>
<circle cx="238.8" cy="1027.6" r="5.8"/>
<circle cx="457.4" cy="994.6" r="5.8"/>
<circle cx="303.6" cy="885.9" r="5.8"/>
<circle cx="373.4" cy="720.5" r="5.8"/>
<circle cx="415.1" cy="615.2" r="5.8"/>
<circle cx="390.3" cy="683.9" r="5.8"/>
<circle cx="382.7" cy="665.1" r="5.8"/>
<circle cx="517.9" cy="782.5" r="5.8"/>
<circle cx="540.2" cy="690.7" r="5.8"/>
<circle cx="292.9" cy="979.7" r="5.8"/>
<circle cx="451.5" cy="669.3" r="5.8"/>
<circle cx="318.8" cy="1093.1" r="5.8"/>
<circle cx="379.7" cy="879.8" r="5.8"/>
<circle cx="323.8" cy="764.3" r="5.8"/>
<circle cx="615.4" cy="870.8" r="5.8"/>
<circle cx="600.9" cy="949.2" r="5.8"/>
<circle cx="255.1" cy="761.6" r="5.8"/>
<circle cx="229.7" cy="954.6" r="5.8"/>
<circle cx="365.8" cy="665.0" r="5.8"/>
<circle cx="440.8" cy="841.0" r="5.8"/>
<circle cx="440.5" cy="1032.4" r="5.8"/>
<circle cx="427.9" cy="798.3" r="5.8"/>
<circle cx="312.6" cy="791.8" r="5.8"/>
<circle cx="400.1" cy="845.6" r="5.8"/>
<circle cx="539.5" cy="778.7" r="5.8"/>
<circle cx="453.5" cy="729.8" r="5.8"/>
<circle cx="361.7" cy="958.3" r="5.8"/>
<circle cx="458.1" cy="780.2" r="5.8"/>
<circle cx="554.5" cy="897.5" r="5.8"/>
<circle cx="551.2" cy="892.6" r="5.8"/>
<circle cx="467.5" cy="727.3" r="5.8"/>
<circle cx="539.6" cy="934.2" r="5.8"/>
<circle cx="505.5" cy="990.4" r="5.8"/>
<circle cx="339.6" cy="980.8" r="5.8"/>
<circle cx="557.4" cy="764.0" r="5.8"/>
<circle cx="526.7" cy="1091.7" r="5.8"/>
<circle cx="437.3" cy="1072.2" r="5.8"/>
<circle cx="422.4" cy="827.9" r="5.8"/>
<circle cx="353.7" cy="761.2" r="5.8"/>
<circle cx="535.8" cy="886.2" r="5.8"/>
<circle cx="539.0" cy="932.9" r="5.8"/>
<circle cx="541.1" cy="903.6" r="5.8"/>
<circle cx="315.9" cy="1063.5" r="5.8"/>
<circle cx="591.8" cy="680.9" r="5.8"/>
<circle cx="505.7" cy="864.1" r="5.8"/>
<circle cx="420.1" cy="927.2" r="5.8"/>
<circle cx="549.7" cy="1065.6" r="5.8"/>
<circle cx="372.5" cy="702.9" r="5.8"/>
<circle cx="619.4" cy="852.3" r="5.8"/>
<circle cx="283.0" cy="745.4" r="5.8"/>
<circle cx="557.6" cy="823.8" r="5.8"/>
<circle cx="579.9" cy="831.8" r="5.8"/>
<circle cx="279.7" cy="803.6" r="5.8"/>
<circle cx="274.4" cy="674.9" r="5.8"/>
<circle cx="328.5" cy="982.7" r="5.8"/>
<circle cx="274.6" cy="693.9" r="5.8"/>
<circle cx="370.2" cy="906.0" r="5.8"/>
<circle cx="443.3" cy="947.0" r="5.8"/>
<circle cx="387.3" cy="1023.6" r="5.8"/>
<circle cx="476.2" cy="950.4" r="5.8"/>
<circle cx="485.5" cy="772.2" r="5.8"/>
<circle cx="319.4" cy="784.9" r="5.8"/>
<circle cx="252.1" cy="854.3" r="5.8"/>
<circle cx="324.1" cy="766.2" r="5.8"/>
<circle cx="459.6" cy="989.3" r="5.8"/>
<circle cx="480.6" cy="746.5" r="5.8"/>
<circle cx="639.5" cy="913.1" r="5.8"/>
<circle cx="470.6" cy="754.6" r="5.8"/>
<circle cx="271.1" cy="1018.2" r="5.8"/>
<circle cx="381.0" cy="793.3" r="5.8"/>
<circle cx="438.3" cy="1022.8" r="5.8"/>
<circle cx="560.3" cy="841.7" r="5.8"/>
<circle cx="444.0" cy="930.4" r="5.8"/>
<circle cx="517.0" cy="851.0" r="5.8"/>
<circle cx="581.9" cy="799.9" r="5.8"/>
<circle cx="627.9" cy="843.9" r="5.8"/>
<circle cx="485.4" cy="646.8" r="5.8"/>
<circle cx="482.1" cy="616.2" r="5.8"/>
<circle cx="574.6" cy="742.7" r="5.8"/>
<circle cx="383.5" cy="865.5" r="5.8"/>
<circle cx="245.8" cy="1057.0" r="5.8"/>
<circle cx="280.3" cy="825.9" r="5.8"/>
<circle cx="436.9" cy="890.5" r="5.8"/>
<circle cx="337.3" cy="720.6" r="5.8"/>
<circle cx="323.0" cy="1022.9" r="5.8"/>
<circle cx="342.8" cy="843.5" r="5.8"/>
<circle cx="252.5" cy="1022.3" r="5.8"/>
<circle cx="371.6" cy="764.0" r="5.8"/>
<circle cx="325.4" cy="922.5" r="5.8"/>
<circle cx="365.2" cy="933.9" r="5.8"/>
<circle cx="272.9" cy="783.5" r="5.8"/>
<circle cx="546.6" cy="794.8" r="5.8"/>
<circle cx="541.7" cy="845.8" r="5.8"/>
<circle cx="559.1" cy="857.7" r="5.8"/>
<circle cx="474.4" cy="790.3" r="5.8"/>
<circle cx="351.4" cy="756.4" r="5.8"/>
<circle cx="326.9" cy="775.7" r="5.8"/>
<circle cx="393.6" cy="899.1" r="5.8"/>
<circle cx="434.0" cy="784.7" r="5.8"/>
<circle cx="260.8" cy="711.1" r="5.8"/>
<circle cx="393.4" cy="917.2" r="5.8"/>
<circle cx="474.5" cy="1009.7" r="5.8"/>
<circle cx="310.9" cy="933.9" r="5.8"/>
<circle cx="370.6" cy="985.0" r="5.8"/>
<circle cx="631.6" cy="926.9" r="5.8"/>
<circle cx="521.9" cy="863.9" r="5.8"/>
<circle cx="345.6" cy="915.2" r="5.8"/>
<circle cx="403.4" cy="1045.1" r="5.8"/>
<circle cx="331.2" cy="960.7" r="5.8"/>
<circle cx="466.2" cy="878.5" r="5.8"/>
<circle cx="538.8" cy="794.9" r="5.8"/>
<circle cx="601.4" cy="939.0" r="5.8"/>
<circle cx="259.3" cy="1049.6" r="5.8"/>
<circle cx="489.0" cy="737.4" r="5.8"/>
<circle cx="320.7" cy="706.8" r="5.8"/>
<circle cx="424.1" cy="1074.1" r="5.8"/>
<circle cx="295.5" cy="1029.2" r="5.8"/>
<circle cx="249.3" cy="973.6" r="5.8"/>
<circle cx="361.9" cy="1008.0" r="5.8"/>
<circle cx="522.2" cy="683.5" r="5.8"/>
<circle cx="312.1" cy="1121.7" r="5.8"/>
<circle cx="630.4" cy="714.1" r="5.8"/>
<circle cx="518.0" cy="1022.6" r="5.8"/>
<circle cx="318.2" cy="913.6" r="5.8"/>
<circle cx="304.9" cy="666.8" r="5.8"/>
<circle cx="479.4" cy="821.6" r="5.8"/>
<circle cx="485.3" cy="941.0" r="5.8"/>
<circle cx="458.2" cy="657.1" r="5.8"/>
<circle cx="600.6" cy="729.4" r="5.8"/>
<circle cx="437.6" cy="892.1" r="5.8"/>
<circle cx="477.8" cy="901.7" r="5.8"/>
<circle cx="291.6" cy="793.1" r="5.8"/>
<circle cx="563.6" cy="797.5" r="5.8"/>
<circle cx="298.5" cy="748.0" r="5.8"/>
<circle cx="297.1" cy="910.1" r="5.8"/>
<circle cx="441.8" cy="929.4" r="5.8"/>
<circle cx="452.7" cy="879.0" r="5.8"/>
<circle cx="446.4" cy="707.0" r="5.8"/>
<circle cx="449.2" cy="1011.8" r="5.8"/>
<circle cx="277.1" cy="782.8" r="5.8"/>
<circle cx="549.2" cy="676.7" r="5.8"/>
<circle cx="443.0" cy="854.3" r="5.8"/>
<circle cx="378.7" cy="922.5" r="5.8"/>
<circle cx="335.5" cy="960.5" r="5.8"/>
<circle cx="613.8" cy="725.6" r="5.8"/>
<circle cx="424.9" cy="638.6" r="5.8"/>
<circle cx="653.5" cy="912.5" r="5.8"/>
<circle cx="341.3" cy="823.8" r="5.8"/>
<circle cx="252.4" cy="855.1" r="5.8"/>
<circle cx="482.9" cy="781.9" r="5.8"/>
<circle cx="517.3" cy="944.7" r="5.8"/>
<circle cx="315.6" cy="699.7" r="5.8"/>
<circle cx="278.9" cy="793.8" r="5.8"/>
<circle cx="644.7" cy="712.6" r="5.8"/>
<circle cx="484.4" cy="776.9" r="5.8"/>
<circle cx="388.8" cy="683.8" r="5.8"/>
<circle cx="633.5" cy="684.0" r="5.8"/>
<circle cx="439.7" cy="772.9" r="5.8"/>
<circle cx="371.9" cy="737.6" r="5.8"/>
<circle cx="336.9" cy="1098.0" r="5.8"/>
<circle cx="341.5" cy="624.4" r="5.8"/>
<circle cx="530.0" cy="813.8" r="5.8"/>
<circle cx="281.1" cy="1017.3" r="5.8"/>
<circle cx="454.6" cy="833.7" r="5.8"/>
<circle cx="508.9" cy="1025.8" r="5.8"/>
<circle cx="537.3" cy="678.6" r="5.8"/>
<circle cx="342.3" cy="1069.5" r="5.8"/>
<circle cx="300.0" cy="626.7" r="5.8"/>
<circle cx="364.5" cy="691.9" r="5.8"/>
<circle cx="362.5" cy="1019.2" r="5.8"/>
<circle cx="556.3" cy="940.3" r="5.8"/>
<circle cx="246.5" cy="877.3" r="5.8"/>
<circle cx="407.3" cy="689.0" r="5.8"/>
<circle cx="350.7" cy="1018.2" r="5.8"/>
<circle cx="633.5" cy="864.1" r="5.8"/>
<circle cx="329.7" cy="829.6" r="5.8"/>
<circle cx="428.1" cy="842.5" r="5.8"/>
<circle cx="514.4" cy="1069.9" r="5.8"/>
<circle cx="379.3" cy="952.1" r="5.8"/>
<circle cx="383.6" cy="999.8" r="5.8"/>
<circle cx="618.6" cy="780.0" r="5.8"/>
<circle cx="346.9" cy="698.9" r="5.8"/>
<circle cx="592.5" cy="723.0" r="5.8"/>
<circle cx="496.5" cy="825.2" r="5.8"/>
<circle cx="271.6" cy="1082.9" r="5.8"/>
<circle cx="499.0" cy="775.2" r="5.8"/>
<circle cx="333.6" cy="929.7" r="5.8"/>
<circle cx="255.6" cy="1027.8" r="5.8"/>
<circle cx="662.5" cy="737.8" r="5.8"/>
<circle cx="458.4" cy="906.3" r="5.8"/>
<circle cx="385.5" cy="747.6" r="5.8"/>
<circle cx="294.8" cy="897.8" r="5.8"/>
<circle cx="654.8" cy="727.8" r="5.8"/>
<circle cx="427.7" cy="1065.8" r="5.8"/>
<circle cx="374.9" cy="952.6" r="5.8"/>
<circle cx="519.8" cy="703.6" r="5.8"/>
<circle cx="414.9" cy="1017.7" r="5.8"/>
<circle cx="523.7" cy="671.6" r="5.8"/>
<circle cx="280.3" cy="1097.5" r="5.8"/>
<circle cx="586.0" cy="646.3" r="5.8"/>
<circle cx="644.9" cy="750.8" r="5.8"/>
<circle cx="242.0" cy="999.3" r="5.8"/>
<circle cx="391.5" cy="908.0" r="5.8"/>
<circle cx="330.9" cy="879.9" r="5.8"/>
<circle cx="657.6" cy="894.3" r="5.8"/>
<circle cx="385.6" cy="965.3" r="5.8"/>
<circle cx="327.3" cy="972.9" r="5.8"/>
<circle cx="243.1" cy="959.5" r="5.8"/>
<circle cx="570.2" cy="1022.4" r="5.8"/>
<circle cx="301.4" cy="1132.6" r="5.8"/>
<circle cx="562.6" cy="621.4" r="5.8"/>
<circle cx="347.1" cy="938.2" r="5.8"/>
<circle cx="607.2" cy="753.9" r="5.8"/>
<circle cx="259.0" cy="814.1" r="5.8"/>
<circle cx="449.7" cy="819.8" r="5.8"/>
<circle cx="355.4" cy="934.4" r="5.8"/>
<circle cx="482.5" cy="893.7" r="5.8"/>
<circle cx="541.7" cy="757.1" r="5.8"/>
<circle cx="375.5" cy="858.0" r="5.8"/>
<circle cx="397.5" cy="983.3" r="5.8"/>
<circle cx="476.5" cy="843.2" r="5.8"/>
<circle cx="372.8" cy="872.7" r="5.8"/>
<circle cx="422.8" cy="636.7" r="5.8"/>
<circle cx="387.8" cy="965.5" r="5.8"/>
<circle cx="299.4" cy="745.6" r="5.8"/>
<circle cx="589.6" cy="735.4" r="5.8"/>
<circle cx="545.9" cy="746.7" r="5.8"/>
<circle cx="253.2" cy="1120.9" r="5.8"/>
<circle cx="661.4" cy="802.6" r="5.8"/>
<circle cx="408.4" cy="734.3" r="5.8"/>
<circle cx="369.7" cy="973.6" r="5.8"/>
<circle cx="325.8" cy="1052.8" r="5.8"/>
<circle cx="248.0" cy="679.7" r="5.8"/>
<circle cx="310.4" cy="1012.2" r="5.8"/>
<circle cx="548.7" cy="637.4" r="5.8"/>
<circle cx="378.5" cy="1054.2" r="5.8"/>
<circle cx="659.8" cy="809.3" r="5.8"/>
<circle cx="457.8" cy="1115.3" r="5.8"/>
<circle cx="381.0" cy="974.1" r="5.8"/>
<circle cx="376.7" cy="699.5" r="5.8"/>
<circle cx="487.4" cy="973.1" r="5.8"/>
<circle cx="286.4" cy="794.2" r="5.8"/>
<circle cx="365.9" cy="728.5" r="5.8"/>
<circle cx="319.3" cy="1039.9" r="5.8"/>
<circle cx="294.6" cy="983.2" r="5.8"/>
<circle cx="288.1" cy="825.6" r="5.8"/>
<circle cx="537.8" cy="768.1" r="5.8"/>
<circle cx="570.9" cy="885.4" r="5.8"/>
<circle cx="439.4" cy="821.1" r="5.8"/>
<circle cx="381.4" cy="760.6" r="5.8"/>
<circle cx="294.1" cy="900.3" r="5.8"/>
<circle cx="629.7" cy="953.2" r="5.8"/>
<circle cx="316.2" cy="896.6" r="5.8"/>
<circle cx="628.7" cy="885.6" r="5.8"/>
<circle cx="555.3" cy="1008.1" r="5.8"/>
<circle cx="567.4" cy="740.3" r="5.8"/>
<circle cx="243.0" cy="848.1" r="5.8"/>
<circle cx="577.6" cy="647.2" r="5.8"/>
<circle cx="231.1" cy="1123.6" r="5.8"/>
<circle cx="468.5" cy="1035.2" r="5.8"/>
<circle cx="361.4" cy="779.8" r="5.8"/>
<circle cx="415.5" cy="939.7" r="5.8"/>
<circle cx="466.2" cy="1059.5" r="5.8"/>
<circle cx="617.4" cy="798.8" r="5.8"/>
<circle cx="336.6" cy="937.3" r="5.8"/>
<circle cx="389.0" cy="859.8" r="5.8"/>
<circle cx="358.5" cy="1029.4" r="5.8"/>
<circle cx="441.4" cy="1063.4" r="5.8"/>
<circle cx="335.2" cy="713.1" r="5.8"/>
<circle cx="554.4" cy="978.7" r="5.8"/>
<circle cx="514.9" cy="741.7" r="5.8"/>
<circle cx="293.7" cy="727.2" r="5.8"/>
<circle cx="552.4" cy="757.2" r="5.8"/>
<circle cx="306.3" cy="1070.9" r="5.8"/>
<circle cx="555.5" cy="727.1" r="5.8"/>
<circle cx="423.9" cy="993.9" r="5.8"/>
<circle cx="385.7" cy="651.6" r="5.8"/>
<circle cx="646.3" cy="864.7" r="5.8"/>
<circle cx="268.1" cy="976.4" r="5.8"/>
<circle cx="474.1" cy="820.0" r="5.8"/>
<circle cx="499.3" cy="1068.8" r="5.8"/>
<circle cx="297.1" cy="835.1" r="5.8"/>
<circle cx="489.8" cy="767.8" r="5.8"/>
<circle cx="605.2" cy="998.9" r="5.8"/>
<circle cx="609.2" cy="800.9" r="5.8"/>
<circle cx="560.3" cy="660.2" r="5.8"/>
<circle cx="251.5" cy="887.0" r="5.8"/>
<circle cx="222.7" cy="916.7" r="5.8"/>
<circle cx="515.9" cy="700.0" r="5.8"/>
<circle cx="575.6" cy="692.6" r="5.8"/>
<circle cx="633.5" cy="900.7" r="5.8"/>
<circle cx="376.2" cy="908.5" r="5.8"/>
<circle cx="326.3" cy="793.8" r="5.8"/>
<circle cx="464.4" cy="853.7" r="5.8"/>
<circle cx="246.8" cy="942.4" r="5.8"/>
<circle cx="286.8" cy="912.0" r="5.8"/>
<circle cx="229.0" cy="959.3" r="5.8"/>
<circle cx="419.2" cy="697.3" r="5.8"/>
<circle cx="534.9" cy="949.8" r="5.8"/>
<circle cx="356.3" cy="796.9" r="5.8"/>
<circle cx="483.7" cy="694.0" r="5.8"/>
<circle cx="405.8" cy="849.4" r="5.8"/>
<circle cx="205.6" cy="1089.3" r="5.8"/>
<circle cx="241.0" cy="766.0" r="5.8"/>
<circle cx="556.6" cy="875.3" r="5.8"/>
<circle cx="535.5" cy="1085.4" r="5.8"/>
<circle cx="458.4" cy="1001.2" r="5.8"/>
<circle cx="223.0" cy="895.1" r="5.8"/>
<circle cx="304.6" cy="1071.0" r="5.8"/>
<circle cx="388.6" cy="753.3" r="5.8"/>
<circle cx="452.4" cy="1028.9" r="5.8"/>
<circle cx="203.4" cy="1082.0" r="5.8"/>
<circle cx="337.2" cy="875.0" r="5.8"/>
<circle cx="344.3" cy="885.5" r="5.8"/>
<circle cx="456.0" cy="692.3" r="5.8"/>
<circle cx="524.3" cy="981.7" r="5.8"/>
<circle cx="218.8" cy="1042.6" r="5.8"/>
<circle cx="482.5" cy="818.1" r="5.8"/>
<circle cx="468.3" cy="750.9" r="5.8"/>
<circle cx="455.5" cy="876.0" r="5.8"/>
<circle cx="403.2" cy="852.1" r="5.8"/>
<circle cx="582.6" cy="800.1" r="5.8"/>
<circle cx="641.1" cy="725.9" r="5.8"/>
<circle cx="538.0" cy="906.3" r="5.8"/>
<circle cx="509.3" cy="1007.1" r="5.8"/>
<circle cx="405.4" cy="867.4" r="5.8"/>
<circle cx="448.5" cy="987.7" r="5.8"/>
<circle cx="554.3" cy="931.6" r="5.8"/>
<circle cx="301.1" cy="911.1" r="5.8"/>
<circle cx="567.1" cy="1027.2" r="5.8"/>
<circle cx="374.3" cy="897.5" r="5.8"/>
<circle cx="412.6" cy="1032.6" r="5.8"/>
<circle cx="214.2" cy="957.5" r="5.8"/>
<circle cx="493.9" cy="691.7" r="5.8"/>
<circle cx="398.8" cy="1088.4" r="5.8"/>
<circle cx="454.4" cy="792.9" r="5.8"/>
<circle cx="320.2" cy="850.8" r="5.8"/>
<circle cx="640.9" cy="823.1" r="5.8"/>
<circle cx="645.7" cy="714.3" r="5.8"/>
<circle cx="431.5" cy="976.7" r="5.8"/>
<circle cx="300.3" cy="1104.8" r="5.8"/>
<circle cx="438.8" cy="946.0" r="5.8"/>
<circle cx="257.4" cy="754.1" r="5.8"/>
<circle cx="534.2" cy="651.6" r="5.8"/>
<circle cx="409.8" cy="813.0" r="5.8"/>
<circle cx="338.6" cy="751.5" r="5.8"/>
<circle cx="456.4" cy="930.3" r="5.8"/>
<circle cx="421.7" cy="916.3" r="5.8"/>
<circle cx="648.2" cy="792.4" r="5.8"/>
<circle cx="514.9" cy="932.0" r="5.8"/>
<circle cx="389.3" cy="851.5" r="5.8"/>
<circle cx="284.3" cy="947.5" r="5.8"/>
<circle cx="453.0" cy="1014.9" r="5.8"/>
<circle cx="446.8" cy="881.8" r="5.8"/>
<circle cx="565.3" cy="1070.8" r="5.8"/>
<circle cx="546.2" cy="1027.3" r="5.8"/>
<circle cx="369.8" cy="953.6" r="5.8"/>
<circle cx="551.6" cy="993.2" r="5.8"/>
<circle cx="349.6" cy="673.8" r="5.8"/>
<circle cx="388.9" cy="767.6" r="5.8"/>
<circle cx="324.6" cy="937.8" r="5.8"/>
<circle cx="398.3" cy="976.0" r="5.8"/>
<circle cx="343.9" cy="1029.5" r="5.8"/>
<circle cx="373.8" cy="1092.6" r="5.8"/>
<circle cx="478.7" cy="968.5" r="5.8"/>
<circle cx="509.7" cy="805.2" r="5.8"/>
<circle cx="391.7" cy="1093.6" r="5.8"/>
<circle cx="632.4" cy="740.3" r="5.8"/>
<circle cx="516.1" cy="773.5" r="5.8"/>
<circle cx="390.9" cy="785.0" r="5.8"/>
<circle cx="462.6" cy="663.0" r="5.8"/>
<circle cx="402.7" cy="662.1" r="5.8"/>
<circle cx="370.4" cy="763.4" r="5.8"/>
<circle cx="377.2" cy="764.3" r="5.8"/>
<circle cx="237.5" cy="850.8" r="5.8"/>
<circle cx="214.4" cy="1022.3" r="5.8"/>
<circle cx="280.1" cy="945.8" r="5.8"/>
<circle cx="335.8" cy="879.4" r="5.8"/>
<circle cx="317.2" cy="762.5" r="5.8"/>
<circle cx="219.4" cy="1039.0" r="5.8"/>
<circle cx="487.4" cy="965.8" r="5.8"/>
<circle cx="318.1" cy="919.4" r="5.8"/>
<circle cx="459.0" cy="929.6" r="5.8"/>
<circle cx="380.7" cy="644.4" r="5.8"/>
<circle cx="578.4" cy="665.0" r="5.8"/>
<circle cx="323.0" cy="1068.2" r="5.8"/>
<circle cx="580.2" cy="911.1" r="5.8"/>
<circle cx="481.4" cy="892.4" r="5.8"/>
<circle cx="371.9" cy="1129.3" r="5.8"/>
<circle cx="617.4" cy="807.0" r="5.8"/>
<circle cx="370.4" cy="718.6" r="5.8"/>
<circle cx="575.7" cy="810.6" r="5.8"/>
<circle cx="605.9" cy="890.0" r="5.8"/>
<circle cx="457.4" cy="986.2" r="5.8"/>
<circle cx="309.2" cy="857.1" r="5.8"/>
<circle cx="647.5" cy="807.0" r="5.8"/>
<circle cx="201.9" cy="1098.7" r="5.8"/>
<circle cx="365.7" cy="1068.5" r="5.8"/>
<circle cx="590.6" cy="811.6" r="5.8"/>
<circle cx="478.0" cy="1027.1" r="5.8"/>
<circle cx="446.1" cy="1085.4" r="5.8"/>
<circle cx="656.8" cy="736.7" r="5.8"/>
<circle cx="462.5" cy="673.3" r="5.8"/>
<circle cx="625.6" cy="882.2" r="5.8"/>
<circle cx="412.6" cy="743.5" r="5.8"/>
<circle cx="276.6" cy="770.8" r="5.8"/>
<circle cx="487.1" cy="842.7" r="5.8"/>
<circle cx="239.0" cy="824.2" r="5.8"/>
<circle cx="339.7" cy="759.9" r="5.8"/>
<circle cx="273.8" cy="852.8" r="5.8"/>
<circle cx="543.6" cy="596.8" r="5.8"/>
<circle cx="311.2" cy="757.8" r="5.8"/>
<circle cx="483.2" cy="690.8" r="5.8"/>
<circle cx="488.1" cy="884.0" r="5.8"/>
<circle cx="532.0" cy="1029.7" r="5.8"/>
<circle cx="401.7" cy="749.2" r="5.8"/>
<circle cx="328.4" cy="1022.7" r="5.8"/>
<circle cx="590.8" cy="820.4" r="5.8"/>
<circle cx="329.8" cy="704.2" r="5.8"/>
<circle cx="238.3" cy="972.3" r="5.8"/>
<circle cx="370.9" cy="880.1" r="5.8"/>
<circle cx="373.8" cy="1038.7" r="5.8"/>
<circle cx="476.6" cy="845.8" r="5.8"/>
<circle cx="217.5" cy="960.9" r="5.8"/>
<circle cx="432.1" cy="762.3" r="5.8"/>
<circle cx="399.2" cy="772.5" r="5.8"/>
<circle cx="352.9" cy="787.8" r="5.8"/>
<circle cx="392.8" cy="881.8" r="5.8"/>
<circle cx="459.8" cy="787.8" r="5.8"/>
<circle cx="351.0" cy="877.7" r="5.8"/>
<circle cx="326.2" cy="894.0" r="5.8"/>
<circle cx="463.4" cy="1060.2" r="5.8"/>
<circle cx="466.6" cy="871.8" r="5.8"/>
<circle cx="349.4" cy="1090.4" r="5.8"/>
<circle cx="506.0" cy="671.7" r="5.8"/>
<circle cx="550.4" cy="664.8" r="5.8"/>
<circle cx="498.8" cy="864.1" r="5.8"/>
<circle cx="430.7" cy="786.9" r="5.8"/>
<circle cx="344.1" cy="1013.4" r="5.8"/>
<circle cx="321.8" cy="716.4" r="5.8"/>
<circle cx="571.0" cy="898.0" r="5.8"/>
<circle cx="298.9" cy="788.9" r="5.8"/>
<circle cx="559.1" cy="967.0" r="5.8"/>
<circle cx="350.6" cy="835.1" r="5.8"/>
<circle cx="593.0" cy="1022.2" r="5.8"/>
<circle cx="363.3" cy="618.7" r="5.8"/>
<circle cx="538.4" cy="836.2" r="5.8"/>
<circle cx="501.9" cy="720.2" r="5.8"/>
<circle cx="553.1" cy="654.1" r="5.8"/>
<circle cx="340.3" cy="826.9" r="5.8"/>
<circle cx="260.0" cy="918.7" r="5.8"/>
<circle cx="396.0" cy="707.1" r="5.8"/>
<circle cx="326.0" cy="680.4" r="5.8"/>
<circle cx="389.8" cy="766.1" r="5.8"/>
<circle cx="512.2" cy="759.6" r="5.8"/>
<circle cx="518.9" cy="638.8" r="5.8"/>
<circle cx="510.7" cy="1052.2" r="5.8"/>
<circle cx="242.4" cy="963.3" r="5.8"/>
<circle cx="395.8" cy="714.8" r="5.8"/>
<circle cx="481.5" cy="685.9" r="5.8"/>
<circle cx="570.8" cy="1099.1" r="5.8"/>
<circle cx="307.5" cy="825.1" r="5.8"/>
<circle cx="498.2" cy="740.8" r="5.8"/>
<circle cx="442.4" cy="826.8" r="5.8"/>
<circle cx="339.5" cy="736.4" r="5.8"/>
<circle cx="495.2" cy="785.9" r="5.8"/>
<circle cx="361.9" cy="849.1" r="5.8"/>
<circle cx="524.7" cy="766.4" r="5.8"/>
<circle cx="480.7" cy="821.4" r="5.8"/>
<circle cx="551.3" cy="698.1" r="5.8"/>
<circle cx="291.7" cy="699.3" r="5.8"/>
<circle cx="653.0" cy="795.7" r="5.8"/>
<circle cx="385.9" cy="1090.7" r="5.8"/>
<circle cx="553.8" cy="757.8" r="5.8"/>
<circle cx="403.7" cy="825.8" r="5.8"/>
<circle cx="223.7" cy="1031.5" r="5.8"/>
<circle cx="282.3" cy="723.3" r="5.8"/>
<circle cx="465.0" cy="771.9" r="5.8"/>
<circle cx="451.3" cy="843.6" r="5.8"/>
<circle cx="536.8" cy="819.1" r="5.8"/>
<circle cx="446.3" cy="707.5" r="5.8"/>
<circle cx="322.2" cy="923.6" r="5.8"/>
<circle cx="581.1" cy="760.9" r="5.8"/>
<circle cx="388.0" cy="770.6" r="5.8"/>
<circle cx="584.4" cy="908.9" r="5.8"/>
<circle cx="345.8" cy="942.7" r="5.8"/>
<circle cx="555.7" cy="957.4" r="5.8"/>
<circle cx="395.8" cy="730.7" r="5.8"/>
<circle cx="348.3" cy="806.3" r="5.8"/>
<circle cx="434.9" cy="624.4" r="5.8"/>
<circle cx="446.5" cy="861.4" r="5.8"/>
<circle cx="554.5" cy="853.0" r="5.8"/>
<circle cx="524.4" cy="746.3" r="5.8"/>
<circle cx="568.2" cy="734.1" r="5.8"/>
<circle cx="572.0" cy="822.1" r="5.8"/>
<circle cx="590.2" cy="647.0" r="5.8"/>
<circle cx="574.1" cy="842.8" r="5.8"/>
<circle cx="484.5" cy="870.5" r="5.8"/>
<circle cx="550.1" cy="685.9" r="5.8"/>
<circle cx="268.4" cy="964.5" r="5.8"/>
<circle cx="552.3" cy="804.7" r="5.8"/>
<circle cx="544.7" cy="784.4" r="5.8"/>
<circle cx="264.1" cy="871.2" r="5.8"/>
<circle cx="391.3" cy="711.5" r="5.8"/>
<circle cx="427.7" cy="1112.7" r="5.8"/>
<circle cx="485.7" cy="706.5" r="5.8"/>
<circle cx="267.6" cy="866.9" r="5.8"/>
<circle cx="279.6" cy="1068.5" r="5.8"/>
<circle cx="400.7" cy="683.5" r="5.8"/>
<circle cx="531.5" cy="898.3" r="5.8"/>
<circle cx="239.1" cy="1032.8" r="5.8"/>
<circle cx="371.9" cy="1026.8" r="5.8"/>
<circle cx="417.1" cy="894.0" r="5.8"/>
<circle cx="352.8" cy="668.1" r="5.8"/>
<circle cx="251.4" cy="746.7" r="5.8"/>
<circle cx="338.3" cy="1126.8" r="5.8"/>
<circle cx="358.1" cy="668.5" r="5.8"/>
<circle cx="385.0" cy="712.9" r="5.8"/>
<circle cx="435.4" cy="1094.5" r="5.8"/>
<circle cx="425.1" cy="1064.3" r="5.8"/>
<circle cx="357.4" cy="887.5" r="5.8"/>
<circle cx="653.8" cy="756.8" r="5.8"/>
<circle cx="288.2" cy="987.5" r="5.8"/>
<circle cx="480.5" cy="952.1" r="5.8"/>
<circle cx="336.7" cy="927.8" r="5.8"/>
<circle cx="408.2" cy="1045.8" r="5.8"/>
<circle cx="501.6" cy="967.5" r="5.8"/>
<circle cx="518.1" cy="817.1" r="5.8"/>
<circle cx="261.8" cy="720.5" r="5.8"/>
<circle cx="258.6" cy="1027.8" r="5.8"/>
<circle cx="489.4" cy="772.6" r="5.8"/>
<circle cx="430.3" cy="1117.8" r="5.8"/>
<circle cx="250.7" cy="1007.9" r="5.8"/>
<circle cx="508.5" cy="698.4" r="5.8"/>
<circle cx="595.2" cy="980.3" r="5.8"/>
<circle cx="299.5" cy="1054.1" r="5.8"/>
<circle cx="479.7" cy="795.2" r="5.8"/>
<circle cx="531.2" cy="929.4" r="5.8"/>
<circle cx="423.6" cy="1111.4" r="5.8"/>
<circle cx="487.1" cy="969.9" r="5.8"/>
<circle cx="468.9" cy="1028.8" r="5.8"/>
<circle cx="590.4" cy="654.7" r="5.8"/>
<circle cx="557.4" cy="801.1" r="5.8"/>
<circle cx="361.2" cy="739.5" r="5.8"/>
<circle cx="304.0" cy="830.4" r="5.8"/>
<circle cx="486.7" cy="718.3" r="5.8"/>
<circle cx="478.7" cy="785.6" r="5.8"/>
<circle cx="603.7" cy="785.2" r="5.8"/>
<circle cx="424.4" cy="663.7" r="5.8"/>
<circle cx="287.6" cy="1127.4" r="5.8"/>
<circle cx="466.6" cy="1006.3" r="5.8"/>
<circle cx="498.6" cy="731.0" r="5.8"/>
<circle cx="389.6" cy="1010.6" r="5.8"/>
<circle cx="467.4" cy="937.4" r="5.8"/>
<circle cx="418.7" cy="853.3" r="5.8"/>
<circle cx="237.9" cy="688.7" r="5.8"/>
<circle cx="265.1" cy="934.5" r="5.8"/>
<circle cx="463.5" cy="704.3" r="5.8"/>
<circle cx="252.2" cy="914.8" r="5.8"/>
<circle cx="467.0" cy="1092.8" r="5.8"/>
<circle cx="349.5" cy="907.5" r="5.8"/>
<circle cx="311.4" cy="937.8" r="5.8"/>
<circle cx="357.1" cy="712.5" r="5.8"/>
<circle cx="256.6" cy="890.1" r="5.8"/>
<circle cx="482.8" cy="934.7" r="5.8"/>
<circle cx="312.5" cy="929.7" r="5.8"/>
<circle cx="387.5" cy="821.9" r="5.8"/>
<circle cx="285.5" cy="923.7" r="5.8"/>
<circle cx="256.9" cy="920.0" r="5.8"/>
<circle cx="406.5" cy="1007.2" r="5.8"/>
<circle cx="354.6" cy="679.1" r="5.8"/>
<circle cx="452.7" cy="665.1" r="5.8"/>
<circle cx="235.8" cy="1096.4" r="5.8"/>
<circle cx="566.8" cy="944.7" r="5.8"/>
<circle cx="342.9" cy="730.0" r="5.8"/>
<circle cx="435.3" cy="999.6" r="5.8"/>
<circle cx="479.7" cy="1102.0" r="5.8"/>
<circle cx="256.3" cy="980.8" r="5.8"/>
<circle cx="254.1" cy="909.6" r="5.8"/>
<circle cx="356.9" cy="1001.8" r="5.8"/>
<circle cx="627.5" cy="874.5" r="5.8"/>
<circle cx="633.3" cy="997.8" r="5.8"/>
<circle cx="515.5" cy="689.5" r="5.8"/>
<circle cx="330.4" cy="754.6" r="5.8"/>
<circle cx="499.2" cy="902.0" r="5.8"/>
<circle cx="552.7" cy="1008.9" r="5.8"/>
<circle cx="648.9" cy="837.8" r="5.8"/>
<circle cx="515.2" cy="898.3" r="5.8"/>
<circle cx="283.6" cy="1015.8" r="5.8"/>
<circle cx="320.6" cy="1122.0" r="5.8"/>
<circle cx="500.0" cy="874.9" r="5.8"/>
<circle cx="501.6" cy="924.3" r="5.8"/>
<circle cx="392.1" cy="942.9" r="5.8"/>
<circle cx="514.2" cy="708.1" r="5.8"/>
<circle cx="605.1" cy="703.5" r="5.8"/>
<circle cx="591.8" cy="858.4" r="5.8"/>
<circle cx="295.3" cy="1081.4" r="5.8"/>
<circle cx="367.7" cy="1120.6" r="5.8"/>
<circle cx="334.3" cy="650.6" r="5.8"/>
<circle cx="373.6" cy="732.0" r="5.8"/>
<circle cx="335.2" cy="885.7" r="5.8"/>
<circle cx="453.0" cy="821.4" r="5.8"/>
<circle cx="346.9" cy="1085.7" r="5.8"/>
<circle cx="298.9" cy="732.0" r="5.8"/>
<circle cx="614.4" cy="1039.8" r="5.8"/>
<circle cx="400.4" cy="956.4" r="5.8"/>
<circle cx="336.5" cy="639.2" r="5.8"/>
<circle cx="535.6" cy="1074.9" r="5.8"/>
<circle cx="436.8" cy="793.7" r="5.8"/>
<circle cx="535.6" cy="747.1" r="5.8"/>
<circle cx="426.2" cy="961.4" r="5.8"/>
<circle cx="258.5" cy="751.8" r="5.8"/>
<circle cx="500.9" cy="846.9" r="5.8"/>
<circle cx="517.5" cy="779.7" r="5.8"/>
<circle cx="586.1" cy="983.0" r="5.8"/>
<circle cx="311.6" cy="843.4" r="5.8"/>
<circle cx="497.5" cy="1045.7" r="5.8"/>
<circle cx="571.6" cy="885.3" r="5.8"/>
<circle cx="365.9" cy="833.4" r="5.8"/>
<circle cx="346.6" cy="1046.4" r="5.8"/>
<circle cx="573.0" cy="684.0" r="5.8"/>
<circle cx="562.0" cy="1115.5" r="5.8"/>
<circle cx="506.2" cy="917.5" r="5.8"/>
<circle cx="483.7" cy="941.6" r="5.8"/>
<circle cx="311.0" cy="819.1" r="5.8"/>
<circle cx="390.3" cy="913.2" r="5.8"/>
<circle cx="256.5" cy="820.6" r="5.8"/>
<circle cx="371.0" cy="733.5" r="5.8"/>
<circle cx="416.5" cy="795.4" r="5.8"/>
<circle cx="392.8" cy="877.1" r="5.8"/>
<circle cx="629.5" cy="682.8" r="5.8"/>
<circle cx="262.6" cy="854.0" r="5.8"/>
<circle cx="503.7" cy="992.9" r="5.8"/>
<circle cx="228.5" cy="784.8" r="5.8"/>
<circle cx="265.5" cy="690.8" r="5.8"/>
<circle cx="227.3" cy="880.6" r="5.8"/>
<circle cx="508.8" cy="746.1" r="5.8"/>
<circle cx="372.1" cy="939.2" r="5.8"/>
<circle cx="222.4" cy="1082.5" r="5.8"/>
<circle cx="261.4" cy="1030.1" r="5.8"/>
<circle cx="314.3" cy="857.2" r="5.8"/>
<circle cx="568.6" cy="617.3" r="5.8"/>
<circle cx="524.7" cy="830.5" r="5.8"/>
<circle cx="241.3" cy="965.9" r="5.8"/>
<circle cx="312.4" cy="914.6" r="5.8"/>
<circle cx="302.8" cy="1065.6" r="5.8"/>
<circle cx="326.7" cy="923.6" r="5.8"/>
<circle cx="289.0" cy="862.0" r="5.8"/>
<circle cx="386.2" cy="1025.0" r="5.8"/>
<circle cx="405.7" cy="707.2" r="5.8"/>
<circle cx="406.3" cy="637.5" r="5.8"/>
<circle cx="241.2" cy="979.3" r="5.8"/>
<circle cx="617.5" cy="913.7" r="5.8"/>
<circle cx="520.4" cy="823.4" r="5.8"/>
<circle cx="484.5" cy="805.3" r="5.8"/>
<circle cx="575.6" cy="739.4" r="5.8"/>
<circle cx="256.6" cy="894.3" r="5.8"/>
<circle cx="354.7" cy="733.4" r="5.8"/>
<circle cx="560.6" cy="796.0" r="5.8"/>
<circle cx="282.7" cy="1055.4" r="5.8"/>
<circle cx="409.6" cy="1026.2" r="5.8"/>
<circle cx="402.3" cy="756.3" r="5.8"/>
<circle cx="656.8" cy="696.4" r="5.8"/>
<circle cx="432.0" cy="890.6" r="5.8"/>
<circle cx="597.4" cy="796.9" r="5.8"/>
<circle cx="215.4" cy="1066.8" r="5.8"/>
<circle cx="286.7" cy="760.7" r="5.8"/>
<circle cx="291.0" cy="1010.3" r="5.8"/>
<circle cx="238.5" cy="828.3" r="5.8"/>
<circle cx="631.7" cy="783.1" r="5.8"/>
<circle cx="258.4" cy="689.1" r="5.8"/>
<circle cx="299.0" cy="855.7" r="5.8"/>
<circle cx="315.1" cy="774.8" r="5.8"/>
<circle cx="262.6" cy="804.8" r="5.8"/>
<circle cx="544.0" cy="827.8" r="5.8"/>
<circle cx="570.9" cy="874.0" r="5.8"/>
<circle cx="317.8" cy="748.2" r="5.8"/>
<circle cx="303.1" cy="862.6" r="5.8"/>
<circle cx="243.5" cy="851.3" r="5.8"/>
<circle cx="247.1" cy="865.9" r="5.8"/>
<circle cx="495.4" cy="595.3" r="5.8"/>
<circle cx="266.8" cy="711.9" r="5.8"/>
<circle cx="234.7" cy="1111.3" r="5.8"/>
<circle cx="319.9" cy="925.5" r="5.8"/>
<circle cx="263.2" cy="1001.9" r="5.8"/>
<circle cx="566.0" cy="830.9" r="5.8"/>
<circle cx="485.0" cy="934.9" r="5.8"/>
<circle cx="377.9" cy="722.0" r="5.8"/>
<circle cx="541.0" cy="817.3" r="5.8"/>
<circle cx="477.3" cy="754.0" r="5.8"/>
<circle cx="552.7" cy="941.4" r="5.8"/>
<circle cx="370.3" cy="1056.1" r="5.8"/>
<circle cx="555.8" cy="773.5" r="5.8"/>
<circle cx="349.3" cy="677.4" r="5.8"/>
<circle cx="474.0" cy="672.9" r="5.8"/>
<circle cx="595.3" cy="820.0" r="5.8"/>
<circle cx="342.7" cy="982.8" r="5.8"/>
<circle cx="388.7" cy="976.5" r="5.8"/>
<circle cx="430.5" cy="1034.8" r="5.8"/>
<circle cx="273.3" cy="738.5" r="5.8"/>
<circle cx="380.0" cy="938.7" r="5.8"/>
<circle cx="608.3" cy="700.8" r="5.8"/>
<circle cx="407.5" cy="658.5" r="5.8"/>
<circle cx="477.6" cy="865.8" r="5.8"/>
<circle cx="266.2" cy="762.3" r="5.8"/>
<circle cx="296.5" cy="769.3" r="5.8"/>
<circle cx="418.8" cy="749.1" r="5.8"/>
<circle cx="461.9" cy="1104.3" r="5.8"/>
<circle cx="211.1" cy="1022.2" r="5.8"/>
<circle cx="392.7" cy="956.7" r="5.8"/>
<circle cx="348.5" cy="878.1" r="5.8"/>
<circle cx="475.1" cy="830.9" r="5.8"/>
<circle cx="292.6" cy="769.3" r="5.8"/>
<circle cx="321.9" cy="908.6" r="5.8"/>
<circle cx="211.0" cy="907.9" r="5.8"/>
<circle cx="240.9" cy="661.6" r="5.8"/>
<circle cx="509.2" cy="801.0" r="5.8"/>
<circle cx="322.6" cy="826.4" r="5.8"/>
<circle cx="510.1" cy="698.4" r="5.8"/>
<circle cx="553.8" cy="1063.4" r="5.8"/>
<circle cx="574.3" cy="668.9" r="5.8"/>
<circle cx="617.5" cy="871.1" r="5.8"/>
<circle cx="459.3" cy="771.0" r="5.8"/>
<circle cx="320.2" cy="874.2" r="5.8"/>
<circle cx="233.6" cy="968.3" r="5.8"/>
<circle cx="644.4" cy="819.8" r="5.8"/>
<circle cx="594.8" cy="714.6" r="5.8"/>
<circle cx="632.7" cy="745.0" r="5.8"/>
<circle cx="624.5" cy="845.8" r="5.8"/>
<circle cx="229.2" cy="945.5" r="5.8"/>
<circle cx="523.6" cy="914.4" r="5.8"/>
<circle cx="318.3" cy="819.8" r="5.8"/>
<circle cx="595.1" cy="940.6" r="5.8"/>
<circle cx="316.5" cy="888.4" r="5.8"/>
<circle cx="518.8" cy="768.3" r="5.8"/>
<circle cx="329.9" cy="703.7" r="5.8"/>
<circle cx="647.8" cy="739.2" r="5.8"/>
<circle cx="357.2" cy="786.3" r="5.8"/>
<circle cx="332.5" cy="786.7" r="5.8"/>
<circle cx="459.8" cy="865.5" r="5.8"/>
<circle cx="469.6" cy="918.3" r="5.8"/>
<circle cx="361.7" cy="827.0" r="5.8"/>
<circle cx="423.3" cy="699.9" r="5.8"/>
<circle cx="236.2" cy="1048.0" r="5.8"/>
<circle cx="533.0" cy="1004.6" r="5.8"/>
<circle cx="461.5" cy="701.4" r="5.8"/>
<circle cx="281.2" cy="1028.1" r="5.8"/>
<circle cx="270.3" cy="654.2" r="5.8"/>
<circle cx="476.0" cy="705.2" r="5.8"/>
<circle cx="261.3" cy="698.2" r="5.8"/>
<circle cx="601.1" cy="812.5" r="5.8"/>
<circle cx="408.9" cy="1040.7" r="5.8"/>
<circle cx="623.8" cy="892.9" r="5.8"/>
<circle cx="212.4" cy="897.7" r="5.8"/>
<circle cx="570.4" cy="1051.6" r="5.8"/>
<circle cx="495.6" cy="1040.3" r="5.8"/>
<circle cx="583.1" cy="1053.2" r="5.8"/>
<circle cx="455.7" cy="858.7" r="5.8"/>
<circle cx="305.1" cy="1038.0" r="5.8"/>
<circle cx="421.2" cy="1112.9" r="5.8"/>
<circle cx="341.8" cy="1022.7" r="5.8"/>
<circle cx="500.8" cy="591.3" r="5.8"/>
<circle cx="609.0" cy="926.4" r="5.8"/>
<circle cx="395.3" cy="684.5" r="5.8"/>
<circle cx="357.2" cy="812.1" r="5.8"/>
<circle cx="425.8" cy="652.6" r="5.8"/>
<circle cx="384.5" cy="749.0" r="5.8"/>
<circle cx="280.0" cy="765.1" r="5.8"/>
<circle cx="458.6" cy="981.9" r="5.8"/>
<circle cx="286.3" cy="1134.4" r="5.8"/>
<circle cx="502.4" cy="972.7" r="5.8"/>
<circle cx="311.5" cy="774.8" r="5.8"/>
<circle cx="433.3" cy="889.1" r="5.8"/>
<circle cx="449.7" cy="1020.4" r="5.8"/>
<circle cx="521.2" cy="740.6" r="5.8"/>
<circle cx="319.9" cy="999.7" r="5.8"/>
<circle cx="549.7" cy="829.2" r="5.8"/>
<circle cx="397.1" cy="788.4" r="5.8"/>
<circle cx="520.0" cy="804.3" r="5.8"/>
<circle cx="553.2" cy="786.6" r="5.8"/>
<circle cx="601.2" cy="941.1" r="5.8"/>
<circle cx="294.8" cy="1059.0" r="5.8"/>
<circle cx="446.6" cy="635.2" r="5.8"/>
<circle cx="563.4" cy="1047.6" r="5.8"/>
<circle cx="435.9" cy="918.7" r="5.8"/>
<circle cx="305.8" cy="623.9" r="5.8"/>
<circle cx="359.8" cy="923.1" r="5.8"/>
<circle cx="288.0" cy="769.6" r="5.8"/>
<circle cx="540.3" cy="761.3" r="5.8"/>
<circle cx="560.8" cy="745.3" r="5.8"/>
<circle cx="546.3" cy="703.2" r="5.8"/>
<circle cx="283.2" cy="648.8" r="5.8"/>
<circle cx="232.8" cy="956.3" r="5.8"/>
<circle cx="541.1" cy="963.4" r="5.8"/>
<circle cx="186.7" cy="1068.5" r="5.8"/>
<circle cx="496.6" cy="787.8" r="5.8"/>
<circle cx="279.4" cy="1144.1" r="5.8"/>
<circle cx="411.3" cy="1087.2" r="5.8"/>
<circle cx="426.1" cy="753.2" r="5.8"/>
<circle cx="578.3" cy="684.5" r="5.8"/>
<circle cx="624.1" cy="671.7" r="5.8"/>
<circle cx="223.3" cy="746.3" r="5.8"/>
<circle cx="466.6" cy="674.2" r="5.8"/>
<circle cx="432.8" cy="1012.2" r="5.8"/>
<circle cx="619.2" cy="896.2" r="5.8"/>
<circle cx="335.5" cy="1086.7" r="5.8"/>
<circle cx="466.4" cy="683.1" r="5.8"/>
<circle cx="357.9" cy="885.3" r="5.8"/>
<circle cx="259.0" cy="799.4" r="5.8"/>
<circle cx="446.1" cy="747.9" r="5.8"/>
<circle cx="517.5" cy="946.6" r="5.8"/>
<circle cx="422.3" cy="874.5" r="5.8"/>
<circle cx="539.2" cy="999.0" r="5.8"/>
<circle cx="329.8" cy="1005.4" r="5.8"/>
<circle cx="326.0" cy="1008.9" r="5.8"/>
<circle cx="238.4" cy="883.4" r="5.8"/>
<circle cx="526.6" cy="658.1" r="5.8"/>
<circle cx="261.0" cy="787.2" r="5.8"/>
<circle cx="457.7" cy="765.0" r="5.8"/>
<circle cx="426.5" cy="837.7" r="5.8"/>
<circle cx="348.2" cy="668.0" r="5.8"/>
<circle cx="444.5" cy="778.0" r="5.8"/>
<circle cx="203.3" cy="890.8" r="5.8"/>
<circle cx="333.5" cy="891.9" r="5.8"/>
<circle cx="210.1" cy="1094.2" r="5.8"/>
<circle cx="478.3" cy="863.2" r="5.8"/>
<circle cx="275.1" cy="824.2" r="5.8"/>
<circle cx="292.6" cy="803.0" r="5.8"/>
<circle cx="437.2" cy="935.0" r="5.8"/>
<circle cx="279.6" cy="654.2" r="5.8"/>
<circle cx="425.2" cy="797.0" r="5.8"/>
<circle cx="340.4" cy="652.3" r="5.8"/>
<circle cx="446.4" cy="1038.6" r="5.8"/>
<circle cx="255.0" cy="913.4" r="5.8"/>
<circle cx="528.3" cy="726.6" r="5.8"/>
<circle cx="361.9" cy="612.6" r="5.8"/>
<circle cx="276.0" cy="687.9" r="5.8"/>
<circle cx="502.9" cy="959.4" r="5.8"/>
<circle cx="487.5" cy="991.6" r="5.8"/>
<circle cx="445.9" cy="996.1" r="5.8"/>
<circle cx="382.8" cy="976.9" r="5.8"/>
<circle cx="236.1" cy="629.9" r="5.8"/>
<circle cx="361.1" cy="614.4" r="5.8"/>
<circle cx="230.1" cy="954.7" r="5.8"/>
<circle cx="457.8" cy="951.3" r="5.8"/>
<circle cx="487.7" cy="1060.5" r="5.8"/>
<circle cx="417.4" cy="875.9" r="5.8"/>
<circle cx="501.9" cy="788.9" r="5.8"/>
<circle cx="539.0" cy="861.4" r="5.8"/>
<circle cx="336.0" cy="1090.3" r="5.8"/>
<circle cx="276.0" cy="720.8" r="5.8"/>
<circle cx="387.9" cy="901.9" r="5.8"/>
<circle cx="293.8" cy="941.4" r="5.8"/>
<circle cx="408.7" cy="868.5" r="5.8"/>
<circle cx="481.9" cy="657.4" r="5.8"/>
<circle cx="230.7" cy="885.3" r="5.8"/>
<circle cx="409.9" cy="1054.4" r="5.8"/>
<circle cx="305.3" cy="854.0" r="5.8"/>
<circle cx="345.3" cy="1052.9" r="5.8"/>
<circle cx="271.8" cy="870.2" r="5.8"/>
<circle cx="508.3" cy="1033.5" r="5.8"/>
<circle cx="471.7" cy="988.0" r="5.8"/>
<circle cx="353.3" cy="903.8" r="5.8"/>
<circle cx="467.3" cy="821.3" r="5.8"/>
<circle cx="446.3" cy="841.0" r="5.8"/>
<circle cx="275.1" cy="1028.7" r="5.8"/>
<circle cx="275.6" cy="739.6" r="5.8"/>
<circle cx="286.9" cy="697.4" r="5.8"/>
<circle cx="544.0" cy="867.3" r="5.8"/>
<circle cx="248.0" cy="785.6" r="5.8"/>
<circle cx="422.2" cy="859.0" r="5.8"/>
<circle cx="232.2" cy="993.0" r="5.8"/>
<circle cx="429.3" cy="1018.1" r="5.8"/>
<circle cx="289.6" cy="828.0" r="5.8"/>
<circle cx="273.4" cy="815.3" r="5.8"/>
<circle cx="582.7" cy="903.8" r="5.8"/>
<circle cx="371.6" cy="898.2" r="5.8"/>
<circle cx="592.8" cy="713.9" r="5.8"/>
<circle cx="267.2" cy="698.1" r="5.8"/>
<circle cx="371.8" cy="875.5" r="5.8"/>
<circle cx="608.4" cy="855.1" r="5.8"/>
<circle cx="225.5" cy="950.6" r="5.8"/>
<circle cx="291.9" cy="918.1" r="5.8"/>
<circle cx="403.7" cy="1093.5" r="5.8"/>
<circle cx="630.5" cy="652.7" r="5.8"/>
<circle cx="436.8" cy="988.4" r="5.8"/>
<circle cx="552.1" cy="1041.4" r="5.8"/>
<circle cx="410.4" cy="1016.8" r="5.8"/>
<circle cx="465.6" cy="634.2" r="5.8"/>
<circle cx="342.8" cy="750.2" r="5.8"/>
<circle cx="360.6" cy="1033.6" r="5.8"/>
<circle cx="270.4" cy="1018.5" r="5.8"/>
<circle cx="278.3" cy="749.5" r="5.8"/>
<circle cx="391.1" cy="968.9" r="5.8"/>
<circle cx="256.8" cy="955.3" r="5.8"/>
<circle cx="622.1" cy="1044.0" r="5.8"/>
<circle cx="390.1" cy="960.2" r="5.8"/>
<circle cx="211.3" cy="951.7" r="5.8"/>
<circle cx="456.3" cy="1018.8" r="5.8"/>
<circle cx="336.4" cy="724.6" r="5.8"/>
<circle cx="559.4" cy="720.3" r="5.8"/>
<circle cx="484.8" cy="1115.4" r="5.8"/>
<circle cx="357.8" cy="978.2" r="5.8"/>
<circle cx="428.6" cy="695.0" r="5.8"/>
<circle cx="308.7" cy="1130.8" r="5.8"/>
<circle cx="545.0" cy="850.4" r="5.8"/>
<circle cx="580.1" cy="887.2" r="5.8"/>
<circle cx="399.7" cy="1015.9" r="5.8"/>
<circle cx="432.5" cy="1060.7" r="5.8"/>
<circle cx="531.0" cy="720.6" r="5.8"/>
<circle cx="639.2" cy="756.3" r="5.8"/>
<circle cx="526.5" cy="924.4" r="5.8"/>
<circle cx="257.9" cy="949.1" r="5.8"/>
<circle cx="513.2" cy="795.8" r="5.8"/>
<circle cx="529.8" cy="944.4" r="5.8"/>
<circle cx="583.5" cy="739.0" r="5.8"/>
<circle cx="500.7" cy="1011.0" r="5.8"/>
<circle cx="493.4" cy="959.7" r="5.8"/>
<circle cx="472.4" cy="762.9" r="5.8"/>
<circle cx="540.9" cy="616.7" r="5.8"/>
<circle cx="329.4" cy="1049.3" r="5.8"/>
<circle cx="254.5" cy="794.9" r="5.8"/>
<circle cx="346.2" cy="866.8" r="5.8"/>
<circle cx="446.3" cy="863.7" r="5.8"/>
<circle cx="437.9" cy="680.1" r="5.8"/>
<circle cx="255.1" cy="1117.5" r="5.8"/>
<circle cx="282.4" cy="802.1" r="5.8"/>
<circle cx="596.0" cy="864.9" r="5.8"/>
<circle cx="403.6" cy="1125.4" r="5.8"/>
<circle cx="472.9" cy="1102.3" r="5.8"/>
<circle cx="235.0" cy="827.6" r="5.8"/>
<circle cx="580.0" cy="920.7" r="5.8"/>
<circle cx="391.9" cy="785.8" r="5.8"/>
<circle cx="362.5" cy="1001.8" r="5.8"/>
<circle cx="587.5" cy="966.1" r="5.8"/>
<circle cx="299.3" cy="1108.5" r="5.8"/>
<circle cx="295.3" cy="679.1" r="5.8"/>
<circle cx="447.8" cy="1127.7" r="5.8"/>
<circle cx="340.5" cy="760.1" r="5.8"/>
<circle cx="256.1" cy="730.3" r="5.8"/>
<circle cx="516.8" cy="977.8" r="5.8"/>
<circle cx="396.2" cy="706.5" r="5.8"/>
<circle cx="387.1" cy="658.6" r="5.8"/>
<circle cx="317.2" cy="931.8" r="5.8"/>
<circle cx="298.6" cy="937.2" r="5.8"/>
<circle cx="301.3" cy="831.5" r="5.8"/>
<circle cx="489.3" cy="726.9" r="5.8"/>
<circle cx="465.6" cy="954.1" r="5.8"/>
<circle cx="368.7" cy="673.3" r="5.8"/>
<circle cx="214.2" cy="930.4" r="5.8"/>
<circle cx="369.9" cy="840.0" r="5.8"/>
<circle cx="330.6" cy="775.7" r="5.8"/>
<circle cx="543.0" cy="861.5" r="5.8"/>
<circle cx="411.9" cy="1068.0" r="5.8"/>
<circle cx="432.9" cy="683.1" r="5.8"/>
<circle cx="316.0" cy="770.5" r="5.8"/>
<circle cx="264.9" cy="981.7" r="5.8"/>
<circle cx="283.6" cy="868.0" r="5.8"/>
<circle cx="266.5" cy="744.1" r="5.8"/>
<circle cx="375.7" cy="834.5" r="5.8"/>
<circle cx="368.7" cy="958.0" r="5.8"/>
<circle cx="353.7" cy="945.9" r="5.8"/>
<circle cx="339.0" cy="1041.9" r="5.8"/>
<circle cx="395.5" cy="1033.7" r="5.8"/>
<circle cx="263.4" cy="817.5" r="5.8"/>
<circle cx="306.6" cy="899.2" r="5.8"/>
<circle cx="439.5" cy="805.7" r="5.8"/>
<circle cx="408.4" cy="856.6" r="5.8"/>
<circle cx="429.3" cy="807.9" r="5.8"/>
<circle cx="441.9" cy="751.4" r="5.8"/>
<circle cx="225.1" cy="1135.8" r="5.8"/>
<circle cx="231.8" cy="616.6" r="5.8"/>
<circle cx="619.6" cy="868.7" r="5.8"/>
<circle cx="429.0" cy="917.0" r="5.8"/>
<circle cx="531.0" cy="653.0" r="5.8"/>
<circle cx="380.1" cy="677.9" r="5.8"/>
<circle cx="471.1" cy="736.0" r="5.8"/>
<circle cx="292.5" cy="1008.6" r="5.8"/>
<circle cx="258.5" cy="1095.7" r="5.8"/>
<circle cx="209.6" cy="809.0" r="5.8"/>
<circle cx="441.7" cy="626.8" r="5.8"/>
<circle cx="521.9" cy="893.8" r="5.8"/>
<circle cx="592.8" cy="1001.8" r="5.8"/>
<circle cx="287.3" cy="819.2" r="5.8"/>
<circle cx="594.0" cy="803.8" r="5.8"/>
<circle cx="528.5" cy="794.0" r="5.8"/>
<circle cx="311.8" cy="1000.6" r="5.8"/>
<circle cx="365.4" cy="884.7" r="5.8"/>
<circle cx="408.5" cy="947.4" r="5.8"/>
<circle cx="398.6" cy="820.5" r="5.8"/>
<circle cx="497.8" cy="1056.9" r="5.8"/>
<circle cx="358.5" cy="811.5" r="5.8"/>
<circle cx="401.9" cy="984.1" r="5.8"/>
<circle cx="467.8" cy="589.5" r="5.8"/>
<circle cx="260.3" cy="989.3" r="5.8"/>
<circle cx="420.9" cy="705.8" r="5.8"/>
<circle cx="499.6" cy="848.5" r="5.8"/>
<circle cx="600.0" cy="689.5" r="5.8"/>
<circle cx="218.8" cy="797.4" r="5.8"/>
<circle cx="299.5" cy="1076.4" r="5.8"/>
<circle cx="276.9" cy="736.9" r="5.8"/>
<circle cx="433.9" cy="980.5" r="5.8"/>
<circle cx="294.8" cy="1093.7" r="5.8"/>
<circle cx="337.7" cy="868.8" r="5.8"/>
<circle cx="277.0" cy="1129.3" r="5.8"/>
<circle cx="243.1" cy="766.5" r="5.8"/>
<circle cx="485.8" cy="845.4" r="5.8"/>
<circle cx="303.5" cy="804.5" r="5.8"/>
<circle cx="451.4" cy="991.5" r="5.8"/>
<circle cx="427.9" cy="755.3" r="5.8"/>
<circle cx="208.8" cy="831.8" r="5.8"/>
<circle cx="385.8" cy="1009.2" r="5.8"/>
<circle cx="312.5" cy="589.4" r="5.8"/>
<circle cx="320.1" cy="803.6" r="5.8"/>
<circle cx="597.2" cy="920.1" r="5.8"/>
<circle cx="214.2" cy="1084.4" r="5.8"/>
<circle cx="565.8" cy="896.9" r="5.8"/>
<circle cx="456.3" cy="997.0" r="5.8"/>
<circle cx="321.2" cy="1004.8" r="5.8"/>
<circle cx="243.7" cy="983.1" r="5.8"/>
<circle cx="414.5" cy="748.9" r="5.8"/>
<circle cx="553.4" cy="1106.4" r="5.8"/>
<circle cx="499.3" cy="737.0" r="5.8"/>
<circle cx="463.9" cy="674.9" r="5.8"/>
<circle cx="234.6" cy="887.7" r="5.8"/>
<circle cx="243.2" cy="699.4" r="5.8"/>
<circle cx="277.6" cy="1033.7" r="5.8"/>
<circle cx="276.4" cy="740.1" r="5.8"/>
<circle cx="394.6" cy="796.7" r="5.8"/>
<circle cx="245.1" cy="780.2" r="5.8"/>
<circle cx="522.5" cy="980.9" r="5.8"/>
<circle cx="283.9" cy="835.4" r="5.8"/>
<circle cx="235.1" cy="927.4" r="5.8"/>
<circle cx="245.9" cy="783.3" r="5.8"/>
<circle cx="248.3" cy="681.5" r="5.8"/>
<circle cx="355.7" cy="837.5" r="5.8"/>
<circle cx="412.1" cy="1015.3" r="5.8"/>
<circle cx="394.2" cy="917.6" r="5.8"/>
<circle cx="292.7" cy="781.9" r="5.8"/>
<circle cx="260.1" cy="734.8" r="5.8"/>
<circle cx="365.2" cy="1009.9" r="5.8"/>
<circle cx="457.3" cy="661.8" r="5.8"/>
<circle cx="423.0" cy="958.0" r="5.8"/>
<circle cx="507.3" cy="960.1" r="5.8"/>
<circle cx="387.1" cy="941.6" r="5.8"/>
<circle cx="188.1" cy="1016.8" r="5.8"/>
<circle cx="343.6" cy="930.0" r="5.8"/>
<circle cx="300.5" cy="887.6" r="5.8"/>
<circle cx="547.5" cy="835.9" r="5.8"/>
<circle cx="431.8" cy="640.0" r="5.8"/>
<circle cx="342.2" cy="842.6" r="5.8"/>
<circle cx="196.8" cy="949.9" r="5.8"/>
<circle cx="336.1" cy="696.9" r="5.8"/>
<circle cx="414.5" cy="837.9" r="5.8"/>
<circle cx="358.1" cy="768.0" r="5.8"/>
<circle cx="407.1" cy="801.3" r="5.8"/>
<circle cx="252.9" cy="1137.9" r="5.8"/>
<circle cx="283.6" cy="984.3" r="5.8"/>
<circle cx="519.3" cy="775.9" r="5.8"/>
<circle cx="301.8" cy="1030.4" r="5.8"/>
<circle cx="612.9" cy="983.3" r="5.8"/>
<circle cx="412.3" cy="1133.1" r="5.8"/>
<circle cx="383.3" cy="677.0" r="5.8"/>
<circle cx="219.5" cy="709.6" r="5.8"/>
<circle cx="468.0" cy="1063.4" r="5.8"/>
<circle cx="618.3" cy="760.1" r="5.8"/>
<circle cx="213.3" cy="913.8" r="5.8"/>
<circle cx="398.8" cy="677.7" r="5.8"/>
<circle cx="212.0" cy="978.8" r="5.8"/>
<circle cx="328.5" cy="752.3" r="5.8"/>
<circle cx="285.2" cy="849.4" r="5.8"/>
<circle cx="352.6" cy="776.6" r="5.8"/>
<circle cx="489.5" cy="793.8" r="5.8"/>
<circle cx="222.0" cy="834.5" r="5.8"/>
<circle cx="354.9" cy="728.2" r="5.8"/>
<circle cx="374.2" cy="945.1" r="5.8"/>
<circle cx="563.2" cy="728.4" r="5.8"/>
<circle cx="573.8" cy="687.5" r="5.8"/>
<circle cx="391.2" cy="895.4" r="5.8"/>
<circle cx="226.1" cy="1004.7" r="5.8"/>
<circle cx="643.7" cy="756.8" r="5.8"/>
<circle cx="446.5" cy="753.8" r="5.8"/>
<circle cx="496.7" cy="1106.5" r="5.8"/>
<circle cx="291.1" cy="832.3" r="5.8"/>
<circle cx="381.1" cy="1102.0" r="5.8"/>
<circle cx="448.3" cy="644.6" r="5.8"/>
<circle cx="599.2" cy="824.1" r="5.8"/>
<circle cx="221.0" cy="939.1" r="5.8"/>
<circle cx="217.6" cy="990.1" r="5.8"/>
<circle cx="237.8" cy="1072.8" r="5.8"/>
<circle cx="520.1" cy="860.1" r="5.8"/>
<circle cx="418.5" cy="848.1" r="5.8"/>
<circle cx="334.6" cy="645.4" r="5.8"/>
<circle cx="422.7" cy="928.2" r="5.8"/>
<circle cx="606.8" cy="901.1" r="5.8"/>
<circle cx="372.0" cy="657.8" r="5.8"/>
<circle cx="240.6" cy="916.5" r="5.8"/>
<circle cx="396.8" cy="1044.0" r="5.8"/>
<circle cx="274.6" cy="1074.2" r="5.8"/>
<circle cx="526.8" cy="635.7" r="5.8"/>
<circle cx="488.8" cy="1010.9" r="5.8"/>
<circle cx="450.8" cy="680.3" r="5.8"/>
<circle cx="447.9" cy="673.3" r="5.8"/>
<circle cx="646.4" cy="746.7" r="5.8"/>
<circle cx="254.1" cy="784.2" r="5.8"/>
<circle cx="493.7" cy="957.3" r="5.8"/>
<circle cx="346.1" cy="1138.0" r="5.8"/>
<circle cx="476.1" cy="1006.4" r="5.8"/>
<circle cx="313.1" cy="892.9" r="5.8"/>
<circle cx="395.0" cy="857.1" r="5.8"/>
<circle cx="638.0" cy="814.0" r="5.8"/>
<circle cx="518.0" cy="1101.5" r="5.8"/>
<circle cx="377.0" cy="900.2" r="5.8"/>
<circle cx="496.9" cy="1023.6" r="5.8"/>
<circle cx="422.2" cy="732.4" r="5.8"/>
<circle cx="603.9" cy="770.3" r="5.8"/>
<circle cx="519.2" cy="735.5" r="5.8"/>
<circle cx="222.8" cy="918.5" r="5.8"/>
<circle cx="339.0" cy="989.2" r="5.8"/>
<circle cx="547.3" cy="729.7" r="5.8"/>
<circle cx="326.9" cy="660.9" r="5.8"/>
<circle cx="497.6" cy="713.9" r="5.8"/>
<circle cx="206.4" cy="908.3" r="5.8"/>
<circle cx="353.5" cy="799.2" r="5.8"/>
<circle cx="425.9" cy="923.2" r="5.8"/>
<circle cx="314.2" cy="797.2" r="5.8"/>
<circle cx="391.1" cy="717.9" r="5.8"/>
<circle cx="455.4" cy="770.3" r="5.8"/>
<circle cx="335.1" cy="1029.7" r="5.8"/>
<circle cx="240.4" cy="850.0" r="5.8"/>
<circle cx="225.4" cy="828.4" r="5.8"/>
<circle cx="434.8" cy="1038.2" r="5.8"/>
<circle cx="509.4" cy="704.4" r="5.8"/>
<circle cx="301.6" cy="727.1" r="5.8"/>
<circle cx="313.6" cy="700.2" r="5.8"/>
<circle cx="522.4" cy="748.3" r="5.8"/>
<circle cx="351.0" cy="784.5" r="5.8"/>
<circle cx="306.2" cy="774.3" r="5.8"/>
<circle cx="285.9" cy="784.6" r="5.8"/>
<circle cx="234.9" cy="693.1" r="5.8"/>
<circle cx="291.3" cy="918.3" r="5.8"/>
<circle cx="586.5" cy="850.9" r="5.8"/>
<circle cx="433.0" cy="1037.5" r="5.8"/>
<circle cx="560.0" cy="946.4" r="5.8"/>
<circle cx="541.7" cy="658.5" r="5.8"/>
<circle cx="556.9" cy="822.3" r="5.8"/>
<circle cx="480.8" cy="1068.0" r="5.8"/>
<circle cx="191.6" cy="934.9" r="5.8"/>
<circle cx="538.0" cy="686.4" r="5.8"/>
<circle cx="215.8" cy="838.4" r="5.8"/>
<circle cx="308.0" cy="876.1" r="5.8"/>
<circle cx="295.5" cy="977.4" r="5.8"/>
<circle cx="529.4" cy="1002.7" r="5.8"/>
<circle cx="464.6" cy="917.0" r="5.8"/>
<circle cx="440.1" cy="879.5" r="5.8"/>
<circle cx="609.6" cy="889.5" r="5.8"/>
<circle cx="490.7" cy="983.4" r="5.8"/>
<circle cx="575.8" cy="929.8" r="5.8"/>
<circle cx="480.3" cy="757.5" r="5.8"/>
<circle cx="579.1" cy="652.9" r="5.8"/>
<circle cx="450.8" cy="1018.5" r="5.8"/>
<circle cx="493.2" cy="769.0" r="5.8"/>
<circle cx="571.8" cy="951.8" r="5.8"/>
<circle cx="378.0" cy="758.3" r="5.8"/>
<circle cx="493.0" cy="942.6" r="5.8"/>
<circle cx="216.8" cy="938.7" r="5.8"/>
<circle cx="322.8" cy="1109.6" r="5.8"/>
<circle cx="573.2" cy="739.2" r="5.8"/>
<circle cx="212.0" cy="916.3" r="5.8"/>
<circle cx="203.2" cy="1081.0" r="5.8"/>
<circle cx="314.4" cy="731.1" r="5.8"/>
<circle cx="332.8" cy="1045.2" r="5.8"/>
<circle cx="516.4" cy="657.4" r="5.8"/>
<circle cx="369.9" cy="1135.9" r="5.8"/>
<circle cx="578.3" cy="778.1" r="5.8"/>
<circle cx="511.5" cy="738.6" r="5.8"/>
<circle cx="513.7" cy="897.8" r="5.8"/>
<circle cx="231.2" cy="872.8" r="5.8"/>
<circle cx="562.9" cy="997.2" r="5.8"/>
<circle cx="299.6" cy="939.7" r="5.8"/>
<circle cx="437.6" cy="995.6" r="5.8"/>
<circle cx="241.9" cy="755.6" r="5.8"/>
<circle cx="319.7" cy="705.7" r="5.8"/>
<circle cx="623.7" cy="668.7" r="5.8"/>
<circle cx="377.1" cy="772.3" r="5.8"/>
<circle cx="427.7" cy="781.6" r="5.8"/>
<circle cx="264.1" cy="732.7" r="5.8"/>
<circle cx="282.5" cy="912.4" r="5.8"/>
<circle cx="630.7" cy="841.6" r="5.8"/>
<circle cx="434.5" cy="689.5" r="5.8"/>
<circle cx="482.9" cy="705.3" r="5.8"/>
<circle cx="430.9" cy="923.8" r="5.8"/>
<circle cx="568.1" cy="888.6" r="5.8"/>
<circle cx="370.8" cy="974.6" r="5.8"/>
<circle cx="477.6" cy="1037.0" r="5.8"/>
<circle cx="338.4" cy="798.5" r="5.8"/>
<circle cx="520.6" cy="655.9" r="5.8"/>
<circle cx="431.9" cy="702.9" r="5.8"/>
<circle cx="306.9" cy="801.8" r="5.8"/>
<circle cx="491.2" cy="801.0" r="5.8"/>
<circle cx="299.1" cy="868.9" r="5.8"/>
<circle cx="299.7" cy="732.3" r="5.8"/>
<circle cx="241.9" cy="771.4" r="5.8"/>
<circle cx="353.1" cy="663.8" r="5.8"/>
<circle cx="556.7" cy="1060.6" r="5.8"/>
<circle cx="530.0" cy="734.6" r="5.8"/>
<circle cx="308.4" cy="863.9" r="5.8"/>
<circle cx="301.5" cy="844.5" r="5.8"/>
<circle cx="414.0" cy="1065.9" r="5.8"/>
<circle cx="231.5" cy="994.3" r="5.8"/>
<circle cx="186.9" cy="937.4" r="5.8"/>
<circle cx="442.1" cy="1036.2" r="5.8"/>
<circle cx="445.6" cy="978.3" r="5.8"/>
<circle cx="449.5" cy="670.9" r="5.8"/>
<circle cx="287.7" cy="853.0" r="5.8"/>
<circle cx="311.3" cy="623.9" r="5.8"/>
<circle cx="399.9" cy="962.6" r="5.8"/>
<circle cx="395.5" cy="923.1" r="5.8"/>
<circle cx="377.6" cy="1107.0" r="5.8"/>
<circle cx="341.2" cy="917.5" r="5.8"/>
<circle cx="240.1" cy="1079.3" r="5.8"/>
<circle cx="616.8" cy="959.5" r="5.8"/>
<circle cx="409.4" cy="668.8" r="5.8"/>
<circle cx="526.4" cy="696.5" r="5.8"/>
<circle cx="255.3" cy="1091.1" r="5.8"/>
<circle cx="295.0" cy="1120.9" r="5.8"/>
<circle cx="348.5" cy="759.2" r="5.8"/>
<circle cx="482.3" cy="771.9" r="5.8"/>
<circle cx="371.9" cy="804.9" r="5.8"/>
<circle cx="595.3" cy="872.4" r="5.8"/>
<circle cx="387.0" cy="955.8" r="5.8"/>
<circle cx="563.4" cy="829.7" r="5.8"/>
<circle cx="577.9" cy="691.6" r="5.8"/>
<circle cx="537.2" cy="772.6" r="5.8"/>
<circle cx="253.8" cy="697.4" r="5.8"/>
<circle cx="376.1" cy="871.3" r="5.8"/>
<circle cx="506.2" cy="631.4" r="5.8"/>
<circle cx="610.5" cy="802.1" r="5.8"/>
<circle cx="236.5" cy="953.9" r="5.8"/>
<circle cx="486.5" cy="1001.5" r="5.8"/>
<circle cx="421.8" cy="847.3" r="5.8"/>
<circle cx="205.3" cy="788.8" r="5.8"/>
<circle cx="248.9" cy="737.2" r="5.8"/>
<circle cx="353.3" cy="901.0" r="5.8"/>
<circle cx="567.3" cy="641.4" r="5.8"/>
<circle cx="395.6" cy="704.1" r="5.8"/>
<circle cx="490.8" cy="836.8" r="5.8"/>
<circle cx="351.0" cy="815.2" r="5.8"/>
<circle cx="558.3" cy="869.6" r="5.8"/>
<circle cx="273.7" cy="1085.1" r="5.8"/>
<circle cx="359.9" cy="698.7" r="5.8"/>
<circle cx="451.6" cy="716.2" r="5.8"/>
<circle cx="402.9" cy="975.8" r="5.8"/>
<circle cx="402.2" cy="737.6" r="5.8"/>
<circle cx="252.9" cy="857.2" r="5.8"/>
<circle cx="569.5" cy="876.9" r="5.8"/>
<circle cx="541.4" cy="712.4" r="5.8"/>
<circle cx="212.5" cy="928.0" r="5.8"/>
<circle cx="630.3" cy="654.2" r="5.8"/>
<circle cx="310.1" cy="670.1" r="5.8"/>
<circle cx="395.6" cy="845.9" r="5.8"/>
<circle cx="360.2" cy="1075.4" r="5.8"/>
<circle cx="608.0" cy="879.2" r="5.8"/>
<circle cx="429.1" cy="742.8" r="5.8"/>
<circle cx="408.8" cy="739.6" r="5.8"/>
<circle cx="346.2" cy="732.1" r="5.8"/>
<circle cx="352.3" cy="722.7" r="5.8"/>
<circle cx="596.6" cy="924.2" r="5.8"/>
<circle cx="299.5" cy="843.8" r="5.8"/>
<circle cx="429.9" cy="857.3" r="5.8"/>
<circle cx="319.2" cy="652.7" r="5.8"/>
<circle cx="358.4" cy="680.9" r="5.8"/>
<circle cx="430.1" cy="809.2" r="5.8"/>
<circle cx="431.7" cy="757.5" r="5.8"/>
<circle cx="530.7" cy="751.6" r="5.8"/>
<circle cx="590.2" cy="647.3" r="5.8"/>
<circle cx="591.0" cy="913.1" r="5.8"/>
<circle cx="242.9" cy="1079.0" r="5.8"/>
<circle cx="490.1" cy="1015.1" r="5.8"/>
<circle cx="561.3" cy="798.7" r="5.8"/>
<circle cx="586.7" cy="722.0" r="5.8"/>
<circle cx="446.8" cy="692.5" r="5.8"/>
<circle cx="521.5" cy="777.2" r="5.8"/>
<circle cx="527.2" cy="899.2" r="5.8"/>
<circle cx="355.9" cy="632.2" r="5.8"/>
<circle cx="461.5" cy="778.8" r="5.8"/>
<circle cx="428.6" cy="687.7" r="5.8"/>
<circle cx="371.5" cy="704.3" r="5.8"/>
<circle cx="527.9" cy="1080.5" r="5.8"/>
<circle cx="579.9" cy="719.3" r="5.8"/>
<circle cx="323.8" cy="928.9" r="5.8"/>
<circle cx="365.8" cy="761.7" r="5.8"/>
<circle cx="595.3" cy="700.5" r="5.8"/>
<circle cx="194.1" cy="930.5" r="5.8"/>
<circle cx="405.0" cy="724.2" r="5.8"/>
<circle cx="313.4" cy="858.7" r="5.8"/>
<circle cx="416.8" cy="837.7" r="5.8"/>
<circle cx="470.6" cy="738.2" r="5.8"/>
<circle cx="590.9" cy="1053.0" r="5.8"/>
<circle cx="218.0" cy="1030.8" r="5.8"/>
<circle cx="598.9" cy="810.1" r="5.8"/>
<circle cx="389.3" cy="822.2" r="5.8"/>
<circle cx="593.9" cy="764.2" r="5.8"/>
<circle cx="623.0" cy="763.8" r="5.8"/>
<circle cx="194.6" cy="835.8" r="5.8"/>
<circle cx="627.4" cy="863.1" r="5.8"/>
<circle cx="307.9" cy="1012.2" r="5.8"/>
<circle cx="473.5" cy="963.3" r="5.8"/>
<circle cx="605.1" cy="776.6" r="5.8"/>
<circle cx="505.8" cy="875.5" r="5.8"/>
<circle cx="473.8" cy="1005.7" r="5.8"/>
<circle cx="443.0" cy="824.8" r="5.8"/>
<circle cx="347.2" cy="832.9" r="5.8"/>
<circle cx="229.1" cy="886.5" r="5.8"/>
<circle cx="405.2" cy="802.5" r="5.8"/>
<circle cx="506.2" cy="918.1" r="5.8"/>
<circle cx="530.5" cy="1055.8" r="5.8"/>
<circle cx="378.0" cy="888.3" r="5.8"/>
<circle cx="237.7" cy="988.9" r="5.8"/>
<circle cx="476.4" cy="898.9" r="5.8"/>
<circle cx="595.9" cy="768.3" r="5.8"/>
<circle cx="285.6" cy="825.3" r="5.8"/>
<circle cx="556.8" cy="882.7" r="5.8"/>
<circle cx="252.8" cy="742.3" r="5.8"/>
<circle cx="434.5" cy="860.4" r="5.8"/>
<circle cx="462.7" cy="918.0" r="5.8"/>
<circle cx="360.7" cy="845.4" r="5.8"/>
<circle cx="342.6" cy="1064.6" r="5.8"/>
<circle cx="248.4" cy="887.3" r="5.8"/>
<circle cx="458.0" cy="854.5" r="5.8"/>
<circle cx="478.2" cy="795.7" r="5.8"/>
<circle cx="499.3" cy="1107.4" r="5.8"/>
<circle cx="303.0" cy="1058.6" r="5.8"/>
<circle cx="235.8" cy="890.5" r="5.8"/>
<circle cx="565.3" cy="1055.6" r="5.8"/>
<circle cx="338.6" cy="964.7" r="5.8"/>
<circle cx="376.0" cy="962.6" r="5.8"/>
<circle cx="359.0" cy="962.3" r="5.8"/>
<circle cx="506.7" cy="1033.7" r="5.8"/>
<circle cx="363.4" cy="786.4" r="5.8"/>
<circle cx="213.5" cy="999.6" r="5.8"/>
<circle cx="382.7" cy="637.6" r="5.8"/>
<circle cx="441.3" cy="842.6" r="5.8"/>
<circle cx="184.4" cy="1118.7" r="5.8"/>
<circle cx="450.2" cy="880.7" r="5.8"/>
<circle cx="262.1" cy="894.0" r="5.8"/>
<circle cx="275.2" cy="695.5" r="5.8"/>
<circle cx="431.4" cy="698.7" r="5.8"/>
<circle cx="595.6" cy="893.6" r="5.8"/>
<circle cx="335.1" cy="900.2" r="5.8"/>
<circle cx="468.1" cy="765.1" r="5.8"/>
<circle cx="540.2" cy="939.7" r="5.8"/>
<circle cx="352.5" cy="922.6" r="5.8"/>
<circle cx="357.0" cy="697.0" r="5.8"/>
<circle cx="456.5" cy="730.7" r="5.8"/>
<circle cx="314.9" cy="890.1" r="5.8"/>
<circle cx="191.7" cy="876.4" r="5.8"/>
<circle cx="545.4" cy="924.2" r="5.8"/>
<circle cx="507.7" cy="809.9" r="5.8"/>
<circle cx="451.9" cy="646.8" r="5.8"/>
<circle cx="546.9" cy="707.3" r="5.8"/>
<circle cx="425.3" cy="651.1" r="5.8"/>
<circle cx="492.7" cy="772.5" r="5.8"/>
<circle cx="596.1" cy="719.8" r="5.8"/>
<circle cx="400.2" cy="827.8" r="5.8"/>
<circle cx="409.8" cy="785.3" r="5.8"/>
<circle cx="379.0" cy="782.5" r="5.8"/>
<circle cx="408.6" cy="720.1" r="5.8"/>
<circle cx="367.2" cy="925.3" r="5.8"/>
<circle cx="383.9" cy="1024.3" r="5.8"/>
<circle cx="451.4" cy="672.2" r="5.8"/>
<circle cx="445.4" cy="642.8" r="5.8"/>
<circle cx="229.3" cy="1024.4" r="5.8"/>
<circle cx="620.4" cy="891.2" r="5.8"/>
<circle cx="597.4" cy="756.6" r="5.8"/>
<circle cx="409.7" cy="693.6" r="5.8"/>
<circle cx="451.7" cy="1090.7" r="5.8"/>
<circle cx="211.9" cy="760.7" r="5.8"/>
<circle cx="451.1" cy="1078.4" r="5.8"/>
<circle cx="327.3" cy="922.6" r="5.8"/>
<circle cx="598.9" cy="624.0" r="5.8"/>
<circle cx="356.2" cy="970.1" r="5.8"/>
<circle cx="283.0" cy="965.1" r="5.8"/>
<circle cx="334.6" cy="928.7" r="5.8"/>
<circle cx="571.1" cy="924.2" r="5.8"/>
<circle cx="219.0" cy="992.1" r="5.8"/>
<circle cx="616.8" cy="783.0" r="5.8"/>
<circle cx="474.3" cy="845.6" r="5.8"/>
<circle cx="207.7" cy="796.7" r="5.8"/>
<circle cx="348.5" cy="888.4" r="5.8"/>
<circle cx="593.6" cy="929.3" r="5.8"/>
<circle cx="407.5" cy="891.0" r="5.8"/>
<circle cx="226.0" cy="883.8" r="5.8"/>
<circle cx="564.1" cy="762.3" r="5.8"/>
<circle cx="291.4" cy="768.9" r="5.8"/>
<circle cx="470.8" cy="820.2" r="5.8"/>
<circle cx="503.5" cy="734.0" r="5.8"/>
<circle cx="400.7" cy="593.5" r="5.8"/>
<circle cx="427.1" cy="1123.6" r="5.8"/>
<circle cx="382.4" cy="632.5" r="5.8"/>
<circle cx="435.6" cy="1049.2" r="5.8"/>
<circle cx="541.4" cy="867.2" r="5.8"/>
<circle cx="189.0" cy="880.0" r="5.8"/>
<circle cx="374.3" cy="823.2" r="5.8"/>
<circle cx="493.5" cy="839.4" r="5.8"/>
<circle cx="167.9" cy="1075.8" r="5.8"/>
<circle cx="534.9" cy="739.5" r="5.8"/>
<circle cx="293.3" cy="1071.9" r="5.8"/>
<circle cx="433.8" cy="976.6" r="5.8"/>
<circle cx="303.6" cy="951.3" r="5.8"/>
<circle cx="489.4" cy="824.5" r="5.8"/>
<circle cx="248.6" cy="1042.4" r="5.8"/>
<circle cx="522.9" cy="1069.5" r="5.8"/>
<circle cx="499.6" cy="897.9" r="5.8"/>
<circle cx="631.0" cy="697.6" r="5.8"/>
<circle cx="448.8" cy="636.1" r="5.8"/>
<circle cx="523.8" cy="959.0" r="5.8"/>
<circle cx="504.0" cy="1052.1" r="5.8"/>
<circle cx="560.3" cy="1000.7" r="5.8"/>
<circle cx="435.8" cy="854.2" r="5.8"/>
<circle cx="463.5" cy="765.1" r="5.8"/>
<circle cx="338.8" cy="1043.2" r="5.8"/>
<circle cx="330.9" cy="1011.2" r="5.8"/>
<circle cx="329.5" cy="1071.4" r="5.8"/>
<circle cx="577.9" cy="754.4" r="5.8"/>
<circle cx="407.9" cy="860.1" r="5.8"/>
<circle cx="321.1" cy="1076.1" r="5.8"/>
<circle cx="605.6" cy="719.0" r="5.8"/>
<circle cx="461.1" cy="882.6" r="5.8"/>
<circle cx="280.2" cy="938.9" r="5.8"/>
<circle cx="433.2" cy="748.7" r="5.8"/>
<circle cx="621.1" cy="682.2" r="5.8"/>
<circle cx="504.3" cy="1108.7" r="5.8"/>
<circle cx="564.8" cy="889.8" r="5.8"/>
<circle cx="401.1" cy="1036.3" r="5.8"/>
<circle cx="414.8" cy="1023.5" r="5.8"/>
<circle cx="566.8" cy="655.2" r="5.8"/>
<circle cx="361.0" cy="792.1" r="5.8"/>
<circle cx="280.7" cy="1095.3" r="5.8"/>
<circle cx="484.6" cy="992.3" r="5.8"/>
<circle cx="513.8" cy="737.8" r="5.8"/>
<circle cx="463.0" cy="889.6" r="5.8"/>
<circle cx="495.8" cy="1021.7" r="5.8"/>
<circle cx="471.0" cy="813.2" r="5.8"/>
<circle cx="559.2" cy="1010.2" r="5.8"/>
<circle cx="458.1" cy="684.7" r="5.8"/>
<circle cx="345.7" cy="994.0" r="5.8"/>
<circle cx="411.6" cy="774.9" r="5.8"/>
<circle cx="242.4" cy="942.2" r="5.8"/>
<circle cx="327.7" cy="990.7" r="5.8"/>
<circle cx="337.4" cy="977.0" r="5.8"/>
<circle cx="261.4" cy="937.3" r="5.8"/>
<circle cx="193.8" cy="1004.2" r="5.8"/>
<circle cx="417.1" cy="1029.3" r="5.8"/>
<circle cx="321.1" cy="686.9" r="5.8"/>
<circle cx="591.5" cy="774.7" r="5.8"/>
<circle cx="564.8" cy="633.0" r="5.8"/>
<circle cx="388.7" cy="1073.8" r="5.8"/>
<circle cx="353.6" cy="746.2" r="5.8"/>
<circle cx="442.8" cy="864.0" r="5.8"/>
<circle cx="342.1" cy="832.0" r="5.8"/>
<circle cx="238.0" cy="916.8" r="5.8"/>
<circle cx="260.7" cy="884.0" r="5.8"/>
<circle cx="450.4" cy="662.7" r="5.8"/>
<circle cx="303.4" cy="849.3" r="5.8"/>
<circle cx="296.8" cy="657.4" r="5.8"/>
<circle cx="215.5" cy="939.5" r="5.8"/>
<circle cx="372.4" cy="819.7" r="5.8"/>
<circle cx="563.7" cy="882.8" r="5.8"/>
<circle cx="328.2" cy="677.6" r="5.8"/>
<circle cx="377.4" cy="776.2" r="5.8"/>
<circle cx="603.3" cy="990.5" r="5.8"/>
<circle cx="394.3" cy="900.9" r="5.8"/>
<circle cx="271.1" cy="875.2" r="5.8"/>
<circle cx="368.4" cy="813.7" r="5.8"/>
<circle cx="176.3" cy="1089.0" r="5.8"/>
<circle cx="197.1" cy="866.8" r="5.8"/>
<circle cx="386.1" cy="843.6" r="5.8"/>
<circle cx="277.3" cy="846.4" r="5.8"/>
<circle cx="268.1" cy="1029.9" r="5.8"/>
<circle cx="296.7" cy="710.1" r="5.8"/>
<circle cx="184.8" cy="904.4" r="5.8"/>
<circle cx="480.4" cy="678.1" r="5.8"/>
<circle cx="284.3" cy="770.5" r="5.8"/>
<circle cx="475.5" cy="1078.3" r="5.8"/>
<circle cx="259.4" cy="883.6" r="5.8"/>
<circle cx="281.3" cy="765.3" r="5.8"/>
<circle cx="493.0" cy="751.5" r="5.8"/>
<circle cx="425.4" cy="626.3" r="5.8"/>
<circle cx="479.7" cy="694.7" r="5.8"/>
<circle cx="335.9" cy="1012.9" r="5.8"/>
<circle cx="330.5" cy="755.2" r="5.8"/>
<circle cx="599.4" cy="738.6" r="5.8"/>
<circle cx="333.6" cy="873.1" r="5.8"/>
<circle cx="392.4" cy="734.6" r="5.8"/>
<circle cx="452.8" cy="896.7" r="5.8"/>
<circle cx="560.3" cy="1037.7" r="5.8"/>
<circle cx="539.8" cy="812.4" r="5.8"/>
<circle cx="285.2" cy="813.8" r="5.8"/>
<circle cx="326.0" cy="880.3" r="5.8"/>
<circle cx="442.7" cy="959.4" r="5.8"/>
<circle cx="207.7" cy="824.9" r="5.8"/>
<circle cx="441.5" cy="1053.4" r="5.8"/>
<circle cx="317.0" cy="972.0" r="5.8"/>
<circle cx="205.2" cy="994.3" r="5.8"/>
<circle cx="381.4" cy="876.1" r="5.8"/>
<circle cx="429.7" cy="890.5" r="5.8"/>
<circle cx="384.1" cy="750.5" r="5.8"/>
<circle cx="189.1" cy="1095.4" r="5.8"/>
<circle cx="269.1" cy="1038.8" r="5.8"/>
<circle cx="587.1" cy="845.7" r="5.8"/>
<circle cx="301.5" cy="926.8" r="5.8"/>
<circle cx="535.3" cy="834.7" r="5.8"/>
<circle cx="258.6" cy="1005.6" r="5.8"/>
<circle cx="306.1" cy="833.4" r="5.8"/>
<circle cx="396.0" cy="843.7" r="5.8"/>
<circle cx="315.3" cy="861.1" r="5.8"/>
<circle cx="285.8" cy="989.5" r="5.8"/>
<circle cx="590.4" cy="867.0" r="5.8"/>
<circle cx="313.3" cy="752.8" r="5.8"/>
<circle cx="485.1" cy="855.4" r="5.8"/>
<circle cx="251.7" cy="1025.5" r="5.8"/>
<circle cx="517.7" cy="1012.9" r="5.8"/>
<circle cx="295.0" cy="684.3" r="5.8"/>
<circle cx="256.4" cy="725.8" r="5.8"/>
<circle cx="283.0" cy="750.0" r="5.8"/>
<circle cx="319.6" cy="1110.8" r="5.8"/>
<circle cx="474.8" cy="887.8" r="5.8"/>
<circle cx="453.7" cy="1045.2" r="5.8"/>
<circle cx="420.4" cy="1030.3" r="5.8"/>
<circle cx="305.1" cy="1026.2" r="5.8"/>
<circle cx="301.7" cy="681.8" r="5.8"/>
<circle cx="536.1" cy="666.5" r="5.8"/>
<circle cx="426.5" cy="1027.8" r="5.8"/>
<circle cx="573.5" cy="672.9" r="5.8"/>
<circle cx="382.1" cy="979.4" r="5.8"/>
<circle cx="571.6" cy="950.4" r="5.8"/>
<circle cx="203.2" cy="1029.7" r="5.8"/>
<circle cx="171.4" cy="1034.5" r="5.8"/>
<circle cx="426.1" cy="818.4" r="5.8"/>
<circle cx="232.9" cy="949.6" r="5.8"/>
<circle cx="480.7" cy="1036.1" r="5.8"/>
<circle cx="208.2" cy="1022.3" r="5.8"/>
<circle cx="400.4" cy="782.0" r="5.8"/>
<circle cx="456.5" cy="976.8" r="5.8"/>
<circle cx="585.1" cy="824.6" r="5.8"/>
<circle cx="213.4" cy="761.2" r="5.8"/>
<circle cx="248.8" cy="787.4" r="5.8"/>
<circle cx="563.2" cy="774.3" r="5.8"/>
<circle cx="221.5" cy="821.6" r="5.8"/>
<circle cx="411.2" cy="1014.1" r="5.8"/>
<circle cx="319.7" cy="899.2" r="5.8"/>
<circle cx="422.7" cy="905.8" r="5.8"/>
<circle cx="547.1" cy="909.1" r="5.8"/>
<circle cx="334.6" cy="1004.8" r="5.8"/>
<circle cx="553.3" cy="1033.5" r="5.8"/>
<circle cx="598.5" cy="697.9" r="5.8"/>
<circle cx="329.0" cy="1004.6" r="5.8"/>
<circle cx="580.5" cy="1008.7" r="5.8"/>
<circle cx="499.8" cy="700.2" r="5.8"/>
<circle cx="532.4" cy="853.1" r="5.8"/>
<circle cx="221.2" cy="1064.5" r="5.8"/>
<circle cx="527.6" cy="673.3" r="5.8"/>
<circle cx="273.8" cy="801.7" r="5.8"/>
<circle cx="309.8" cy="980.1" r="5.8"/>
<circle cx="315.9" cy="1041.9" r="5.8"/>
<circle cx="306.8" cy="1017.7" r="5.8"/>
<circle cx="440.1" cy="873.8" r="5.8"/>
<circle cx="377.3" cy="694.0" r="5.8"/>
<circle cx="381.8" cy="659.4" r="5.8"/>
<circle cx="568.0" cy="907.5" r="5.8"/>
<circle cx="463.0" cy="1019.6" r="5.8"/>
<circle cx="268.7" cy="896.3" r="5.8"/>
<circle cx="463.7" cy="661.1" r="5.8"/>
<circle cx="571.2" cy="742.9" r="5.8"/>
<circle cx="444.6" cy="807.9" r="5.8"/>
<circle cx="459.3" cy="915.2" r="5.8"/>
<circle cx="500.5" cy="895.0" r="5.8"/>
<circle cx="388.4" cy="632.0" r="5.8"/>
<circle cx="207.5" cy="935.9" r="5.8"/>
<circle cx="488.2" cy="940.2" r="5.8"/>
<circle cx="198.1" cy="820.3" r="5.8"/>
<circle cx="402.3" cy="706.5" r="5.8"/>
<circle cx="601.9" cy="729.5" r="5.8"/>
<circle cx="565.8" cy="1050.4" r="5.8"/>
<circle cx="294.4" cy="820.9" r="5.8"/>
<circle cx="434.4" cy="768.5" r="5.8"/>
<circle cx="194.4" cy="969.7" r="5.8"/>
<circle cx="340.4" cy="775.3" r="5.8"/>
<circle cx="270.5" cy="825.2" r="5.8"/>
<circle cx="335.6" cy="759.8" r="5.8"/>
<circle cx="535.1" cy="1032.7" r="5.8"/>
<circle cx="455.3" cy="1096.4" r="5.8"/>
<circle cx="437.6" cy="799.7" r="5.8"/>
<circle cx="427.5" cy="891.4" r="5.8"/>
<circle cx="289.5" cy="1038.2" r="5.8"/>
<circle cx="426.0" cy="1018.3" r="5.8"/>
<circle cx="395.0" cy="1026.5" r="5.8"/>
<circle cx="469.3" cy="758.1" r="5.8"/>
<circle cx="467.5" cy="863.7" r="5.8"/>
<circle cx="520.1" cy="1101.2" r="5.8"/>
<circle cx="266.6" cy="954.9" r="5.8"/>
<circle cx="608.2" cy="999.4" r="5.8"/>
<circle cx="416.4" cy="854.0" r="5.8"/>
<circle cx="269.4" cy="976.0" r="5.8"/>
<circle cx="321.8" cy="923.8" r="5.8"/>
<circle cx="378.5" cy="879.8" r="5.8"/>
<circle cx="359.3" cy="802.4" r="5.8"/>
<circle cx="467.0" cy="641.8" r="5.8"/>
<circle cx="459.6" cy="759.7" r="5.8"/>
<circle cx="287.2" cy="961.0" r="5.8"/>
<circle cx="453.3" cy="811.6" r="5.8"/>
<circle cx="413.7" cy="959.2" r="5.8"/>
<circle cx="359.9" cy="846.4" r="5.8"/>
<circle cx="307.9" cy="752.6" r="5.8"/>
<circle cx="265.3" cy="1110.3" r="5.8"/>
<circle cx="254.7" cy="821.2" r="5.8"/>
<circle cx="374.9" cy="984.1" r="5.8"/>
<circle cx="562.6" cy="1069.8" r="5.8"/>
<circle cx="604.9" cy="914.4" r="5.8"/>
<circle cx="371.7" cy="838.9" r="5.8"/>
<circle cx="623.9" cy="831.6" r="5.8"/>
<circle cx="576.7" cy="860.9" r="5.8"/>
<circle cx="228.1" cy="874.5" r="5.8"/>
<circle cx="245.0" cy="822.6" r="5.8"/>
<circle cx="334.9" cy="728.0" r="5.8"/>
<circle cx="240.8" cy="789.0" r="5.8"/>
<circle cx="420.0" cy="961.9" r="5.8"/>
<circle cx="456.8" cy="795.2" r="5.8"/>
<circle cx="440.7" cy="1140.8" r="5.8"/>
<circle cx="384.4" cy="1109.3" r="5.8"/>
<circle cx="598.0" cy="965.9" r="5.8"/>
<circle cx="184.6" cy="1043.7" r="5.8"/>
<circle cx="267.1" cy="825.3" r="5.8"/>
<circle cx="576.5" cy="760.0" r="5.8"/>
<circle cx="207.8" cy="803.8" r="5.8"/>
<circle cx="458.1" cy="1014.0" r="5.8"/>
<circle cx="538.5" cy="924.5" r="5.8"/>
<circle cx="321.3" cy="717.5" r="5.8"/>
<circle cx="179.2" cy="1094.8" r="5.8"/>
<circle cx="393.8" cy="1108.7" r="5.8"/>
<circle cx="228.2" cy="818.0" r="5.8"/>
<circle cx="489.4" cy="644.9" r="5.8"/>
<circle cx="482.9" cy="718.5" r="5.8"/>
<circle cx="440.6" cy="797.8" r="5.8"/>
<circle cx="548.0" cy="768.0" r="5.8"/>
<circle cx="497.6" cy="1041.5" r="5.8"/>
<circle cx="363.6" cy="830.3" r="5.8"/>
<circle cx="627.1" cy="784.6" r="5.8"/>
<circle cx="423.3" cy="709.9" r="5.8"/>
<circle cx="367.1" cy="1017.5" r="5.8"/>
<circle cx="347.5" cy="919.8" r="5.8"/>
<circle cx="205.4" cy="835.1" r="5.8"/>
<circle cx="454.6" cy="1108.4" r="5.8"/>
<circle cx="321.2" cy="896.5" r="5.8"/>
<circle cx="293.2" cy="991.7" r="5.8"/>
<circle cx="373.9" cy="636.2" r="5.8"/>
<circle cx="237.2" cy="915.8" r="5.8"/>
<circle cx="268.8" cy="807.1" r="5.8"/>
<circle cx="201.6" cy="977.8" r="5.8"/>
<circle cx="201.2" cy="931.0" r="5.8"/>
<circle cx="422.8" cy="759.8" r="5.8"/>
<circle cx="211.3" cy="864.0" r="5.8"/>
<circle cx="335.2" cy="751.4" r="5.8"/>
<circle cx="286.4" cy="759.5" r="5.8"/>
<circle cx="601.7" cy="787.5" r="5.8"/>
<circle cx="187.9" cy="799.8" r="5.8"/>
<circle cx="371.2" cy="976.4" r="5.8"/>
<circle cx="592.2" cy="935.3" r="5.8"/>
<circle cx="202.4" cy="986.0" r="5.8"/>
<circle cx="277.0" cy="1016.8" r="5.8"/>
<circle cx="500.2" cy="991.8" r="5.8"/>
<circle cx="519.6" cy="977.7" r="5.8"/>
<circle cx="343.6" cy="800.6" r="5.8"/>
<circle cx="219.3" cy="979.7" r="5.8"/>
<circle cx="368.6" cy="1094.6" r="5.8"/>
<circle cx="353.4" cy="800.5" r="5.8"/>
<circle cx="350.4" cy="1120.9" r="5.8"/>
<circle cx="234.3" cy="858.5" r="5.8"/>
<circle cx="382.7" cy="680.6" r="5.8"/>
<circle cx="247.2" cy="1068.1" r="5.8"/>
<circle cx="477.8" cy="834.6" r="5.8"/>
<circle cx="415.7" cy="679.7" r="5.8"/>
<circle cx="237.6" cy="946.0" r="5.8"/>
<circle cx="587.9" cy="1003.0" r="5.8"/>
<circle cx="329.7" cy="1002.7" r="5.8"/>
<circle cx="452.2" cy="993.8" r="5.8"/>
<circle cx="256.8" cy="951.6" r="5.8"/>
<circle cx="209.3" cy="930.0" r="5.8"/>
<circle cx="596.9" cy="883.0" r="5.8"/>
<circle cx="586.9" cy="833.9" r="5.8"/>
<circle cx="201.5" cy="930.6" r="5.8"/>
<circle cx="471.2" cy="800.5" r="5.8"/>
<circle cx="402.3" cy="824.9" r="5.8"/>
<circle cx="503.7" cy="802.9" r="5.8"/>
<circle cx="384.0" cy="929.0" r="5.8"/>
<circle cx="258.1" cy="951.1" r="5.8"/>
<circle cx="370.6" cy="913.5" r="5.8"/>
<circle cx="291.8" cy="819.8" r="5.8"/>
<circle cx="334.4" cy="889.4" r="5.8"/>
<circle cx="409.3" cy="894.8" r="5.8"/>
<circle cx="609.9" cy="771.7" r="5.8"/>
<circle cx="517.8" cy="791.2" r="5.8"/>
<circle cx="190.4" cy="882.1" r="5.8"/>
<circle cx="406.2" cy="669.6" r="5.8"/>
<circle cx="350.1" cy="819.9" r="5.8"/>
<circle cx="530.1" cy="926.8" r="5.8"/>
<circle cx="243.3" cy="759.5" r="5.8"/>
<circle cx="569.5" cy="649.7" r="5.8"/>
<circle cx="276.4" cy="793.5" r="5.8"/>
<circle cx="318.4" cy="823.7" r="5.8"/>
<circle cx="508.7" cy="816.9" r="5.8"/>
<circle cx="344.6" cy="1073.2" r="5.8"/>
<circle cx="334.0" cy="781.8" r="5.8"/>
<circle cx="594.4" cy="776.0" r="5.8"/>
<circle cx="405.9" cy="1126.4" r="5.8"/>
<circle cx="175.4" cy="1001.2" r="5.8"/>
<circle cx="282.5" cy="850.8" r="5.8"/>
<circle cx="230.6" cy="995.1" r="5.8"/>
<circle cx="448.5" cy="748.2" r="5.8"/>
<circle cx="487.1" cy="810.3" r="5.8"/>
<circle cx="222.5" cy="1149.3" r="5.8"/>
<circle cx="242.3" cy="1065.4" r="5.8"/>
<circle cx="234.1" cy="700.5" r="5.8"/>
<circle cx="334.8" cy="1062.1" r="5.8"/>
<circle cx="476.1" cy="783.1" r="5.8"/>
<circle cx="223.4" cy="716.3" r="5.8"/>
<circle cx="238.2" cy="682.3" r="5.8"/>
<circle cx="480.1" cy="782.3" r="5.8"/>
<circle cx="465.9" cy="777.1" r="5.8"/>
<circle cx="299.3" cy="1041.8" r="5.8"/>
<circle cx="281.1" cy="923.1" r="5.8"/>
<circle cx="379.7" cy="1091.5" r="5.8"/>
<circle cx="231.4" cy="796.5" r="5.8"/>
<circle cx="202.8" cy="938.2" r="5.8"/>
<circle cx="571.4" cy="1052.6" r="5.8"/>
<circle cx="455.9" cy="814.2" r="5.8"/>
<circle cx="440.4" cy="724.1" r="5.8"/>
<circle cx="502.5" cy="643.5" r="5.8"/>
<circle cx="532.9" cy="891.8" r="5.8"/>
<circle cx="307.7" cy="1072.0" r="5.8"/>
<circle cx="469.7" cy="1076.7" r="5.8"/>
<circle cx="537.9" cy="838.4" r="5.8"/>
<circle cx="471.4" cy="712.0" r="5.8"/>
<circle cx="569.9" cy="620.7" r="5.8"/>
<circle cx="375.5" cy="1059.3" r="5.8"/>
<circle cx="261.0" cy="958.0" r="5.8"/>
<circle cx="328.0" cy="1052.2" r="5.8"/>
<circle cx="463.4" cy="1048.6" r="5.8"/>
<circle cx="526.5" cy="985.5" r="5.8"/>
<circle cx="320.0" cy="937.1" r="5.8"/>
<circle cx="219.1" cy="1023.6" r="5.8"/>
<circle cx="608.7" cy="799.0" r="5.8"/>
<circle cx="614.9" cy="845.5" r="5.8"/>
<circle cx="215.4" cy="934.0" r="5.8"/>
<circle cx="405.1" cy="1001.1" r="5.8"/>
<circle cx="293.9" cy="919.3" r="5.8"/>
<circle cx="239.3" cy="816.2" r="5.8"/>
<circle cx="295.7" cy="1096.7" r="5.8"/>
<circle cx="527.5" cy="1087.6" r="5.8"/>
<circle cx="315.2" cy="906.2" r="5.8"/>
<circle cx="283.5" cy="1022.4" r="5.8"/>
<circle cx="405.6" cy="1023.0" r="5.8"/>
<circle cx="572.3" cy="711.0" r="5.8"/>
<circle cx="260.4" cy="796.9" r="5.8"/>
<circle cx="485.7" cy="765.4" r="5.8"/>
<circle cx="196.5" cy="714.3" r="5.8"/>
<circle cx="179.5" cy="1053.3" r="5.8"/>
<circle cx="422.9" cy="825.1" r="5.8"/>
<circle cx="538.6" cy="723.8" r="5.8"/>
<circle cx="218.2" cy="830.3" r="5.8"/>
<circle cx="435.6" cy="841.2" r="5.8"/>
<circle cx="454.7" cy="831.3" r="5.8"/>
<circle cx="296.0" cy="831.7" r="5.8"/>
<circle cx="413.4" cy="1026.7" r="5.8"/>
<circle cx="505.4" cy="725.0" r="5.8"/>
<circle cx="217.9" cy="1033.6" r="5.8"/>
<circle cx="253.1" cy="807.8" r="5.8"/>
<circle cx="409.2" cy="677.5" r="5.8"/>
<circle cx="230.6" cy="859.0" r="5.8"/>
<circle cx="431.1" cy="923.5" r="5.8"/>
<circle cx="289.5" cy="916.4" r="5.8"/>
<circle cx="416.3" cy="688.6" r="5.8"/>
<circle cx="311.2" cy="993.7" r="5.8"/>
<circle cx="491.3" cy="700.2" r="5.8"/>
<circle cx="302.6" cy="883.0" r="5.8"/>
<circle cx="597.2" cy="694.4" r="5.8"/>
<circle cx="357.9" cy="619.1" r="5.8"/>
<circle cx="524.7" cy="972.8" r="5.8"/>
<circle cx="329.3" cy="913.4" r="5.8"/>
<circle cx="566.6" cy="1045.3" r="5.8"/>
<circle cx="525.1" cy="940.1" r="5.8"/>
<circle cx="626.6" cy="698.5" r="5.8"/>
<circle cx="264.9" cy="804.5" r="5.8"/>
<circle cx="356.2" cy="676.7" r="5.8"/>
<circle cx="386.6" cy="879.5" r="5.8"/>
<circle cx="218.3" cy="916.7" r="5.8"/>
<circle cx="553.5" cy="1002.3" r="5.8"/>
<circle cx="265.1" cy="901.3" r="5.8"/>
<circle cx="416.0" cy="985.2" r="5.8"/>
<circle cx="417.9" cy="607.6" r="5.8"/>
<circle cx="381.2" cy="970.8" r="5.8"/>
<circle cx="363.5" cy="679.2" r="5.8"/>
<circle cx="600.8" cy="763.6" r="5.8"/>
<circle cx="182.3" cy="887.5" r="5.8"/>
<circle cx="393.3" cy="1076.5" r="5.8"/>
<circle cx="516.4" cy="893.9" r="5.8"/>
<circle cx="438.2" cy="722.9" r="5.8"/>
<circle cx="595.5" cy="960.1" r="5.8"/>
<circle cx="353.7" cy="946.8" r="5.8"/>
<circle cx="592.0" cy="878.7" r="5.8"/>
<circle cx="355.9" cy="704.5" r="5.8"/>
<circle cx="563.4" cy="929.4" r="5.8"/>
<circle cx="243.6" cy="668.7" r="5.8"/>
<circle cx="498.7" cy="905.0" r="5.8"/>
<circle cx="516.8" cy="908.7" r="5.8"/>
<circle cx="324.5" cy="869.0" r="5.8"/>
<circle cx="429.9" cy="912.7" r="5.8"/>
<circle cx="440.3" cy="828.2" r="5.8"/>
<circle cx="308.7" cy="833.6" r="5.8"/>
<circle cx="517.4" cy="847.0" r="5.8"/>
<circle cx="478.3" cy="909.4" r="5.8"/>
<circle cx="344.0" cy="678.0" r="5.8"/>
<circle cx="388.1" cy="841.1" r="5.8"/>
<circle cx="429.0" cy="1063.6" r="5.8"/>
<circle cx="204.2" cy="831.7" r="5.8"/>
<circle cx="375.9" cy="858.9" r="5.8"/>
<circle cx="426.5" cy="845.5" r="5.8"/>
<circle cx="216.4" cy="1071.2" r="5.8"/>
<circle cx="205.2" cy="913.6" r="5.8"/>
<circle cx="477.8" cy="729.8" r="5.8"/>
<circle cx="316.9" cy="703.4" r="5.8"/>
<circle cx="346.3" cy="744.2" r="5.8"/>
<circle cx="402.2" cy="657.3" r="5.8"/>
<circle cx="502.8" cy="622.6" r="5.8"/>
<circle cx="260.1" cy="772.6" r="5.8"/>
<circle cx="343.4" cy="1077.5" r="5.8"/>
<circle cx="192.9" cy="926.2" r="5.8"/>
<circle cx="522.3" cy="921.8" r="5.8"/>
<circle cx="376.8" cy="713.1" r="5.8"/>
<circle cx="411.6" cy="740.1" r="5.8"/>
<circle cx="472.9" cy="654.8" r="5.8"/>
<circle cx="513.4" cy="848.1" r="5.8"/>
<circle cx="278.0" cy="1030.1" r="5.8"/>
<circle cx="324.5" cy="592.5" r="5.8"/>
<circle cx="200.0" cy="805.3" r="5.8"/>
<circle cx="533.2" cy="583.5" r="5.8"/>
<circle cx="338.9" cy="820.9" r="5.8"/>
<circle cx="345.3" cy="668.7" r="5.8"/>
<circle cx="199.4" cy="828.1" r="5.8"/>
<circle cx="244.7" cy="960.2" r="5.8"/>
<circle cx="514.7" cy="789.9" r="5.8"/>
<circle cx="540.5" cy="761.5" r="5.8"/>
<circle cx="350.8" cy="751.2" r="5.8"/>
<circle cx="264.4" cy="1042.5" r="5.8"/>
<circle cx="571.9" cy="735.6" r="5.8"/>
<circle cx="312.3" cy="822.5" r="5.8"/>
<circle cx="529.6" cy="768.4" r="5.8"/>
<circle cx="571.7" cy="702.1" r="5.8"/>
<circle cx="439.8" cy="804.8" r="5.8"/>
<circle cx="264.5" cy="895.2" r="5.8"/>
<circle cx="374.5" cy="1042.6" r="5.8"/>
<circle cx="360.7" cy="777.0" r="5.8"/>
<circle cx="212.2" cy="1030.0" r="5.8"/>
<circle cx="620.6" cy="694.0" r="5.8"/>
<circle cx="236.8" cy="1007.6" r="5.8"/>
<circle cx="286.5" cy="793.8" r="5.8"/>
<circle cx="392.1" cy="1058.3" r="5.8"/>
<circle cx="601.3" cy="633.7" r="5.8"/>
<circle cx="486.6" cy="820.7" r="5.8"/>
<circle cx="303.6" cy="799.1" r="5.8"/>
<circle cx="312.3" cy="973.9" r="5.8"/>
<circle cx="183.8" cy="900.4" r="5.8"/>
<circle cx="336.4" cy="795.2" r="5.8"/>
<circle cx="492.0" cy="1074.5" r="5.8"/>
<circle cx="292.2" cy="711.5" r="5.8"/>
<circle cx="398.0" cy="696.6" r="5.8"/>
<circle cx="366.9" cy="1059.2" r="5.8"/>
<circle cx="282.3" cy="847.2" r="5.8"/>
<circle cx="193.8" cy="872.7" r="5.8"/>
<circle cx="313.3" cy="1118.1" r="5.8"/>
<circle cx="451.7" cy="754.5" r="5.8"/>
<circle cx="395.8" cy="972.3" r="5.8"/>
<circle cx="406.4" cy="728.1" r="5.8"/>
<circle cx="437.4" cy="951.2" r="5.8"/>
<circle cx="439.2" cy="978.2" r="5.8"/>
<circle cx="252.1" cy="992.7" r="5.8"/>
<circle cx="491.7" cy="698.6" r="5.8"/>
<circle cx="200.5" cy="1032.7" r="5.8"/>
<circle cx="606.4" cy="848.6" r="5.8"/>
<circle cx="200.4" cy="1061.4" r="5.8"/>
<circle cx="172.6" cy="887.8" r="5.8"/>
<circle cx="464.8" cy="828.7" r="5.8"/>
<circle cx="486.3" cy="1033.4" r="5.8"/>
<circle cx="520.5" cy="847.8" r="5.8"/>
<circle cx="344.4" cy="966.6" r="5.8"/>
<circle cx="422.4" cy="1065.0" r="5.8"/>
<circle cx="442.6" cy="898.1" r="5.8"/>
<circle cx="301.5" cy="1073.1" r="5.8"/>
<circle cx="409.0" cy="789.5" r="5.8"/>
<circle cx="331.0" cy="1069.6" r="5.8"/>
<circle cx="329.8" cy="888.7" r="5.8"/>
<circle cx="436.0" cy="785.3" r="5.8"/>
<circle cx="329.0" cy="1022.4" r="5.8"/>
<circle cx="256.5" cy="1117.1" r="5.8"/>
<circle cx="303.2" cy="986.6" r="5.8"/>
<circle cx="449.4" cy="701.6" r="5.8"/>
<circle cx="533.5" cy="824.0" r="5.8"/>
<circle cx="296.8" cy="709.8" r="5.8"/>
<circle cx="453.3" cy="895.0" r="5.8"/>
<circle cx="263.9" cy="1084.4" r="5.8"/>
<circle cx="322.3" cy="967.1" r="5.8"/>
<circle cx="544.0" cy="857.2" r="5.8"/>
<circle cx="261.0" cy="884.6" r="5.8"/>
<circle cx="471.4" cy="798.1" r="5.8"/>
<circle cx="179.5" cy="927.7" r="5.8"/>
<circle cx="473.8" cy="1128.1" r="5.8"/>
<circle cx="474.9" cy="1051.0" r="5.8"/>
<circle cx="419.1" cy="908.6" r="5.8"/>
<circle cx="351.2" cy="768.6" r="5.8"/>
<circle cx="262.6" cy="917.1" r="5.8"/>
<circle cx="290.1" cy="985.2" r="5.8"/>
<circle cx="387.8" cy="646.7" r="5.8"/>
<circle cx="272.7" cy="1087.0" r="5.8"/>
<circle cx="470.5" cy="946.9" r="5.8"/>
<circle cx="318.3" cy="953.6" r="5.8"/>
<circle cx="216.4" cy="1000.4" r="5.8"/>
<circle cx="210.9" cy="831.7" r="5.8"/>
<circle cx="217.2" cy="945.2" r="5.8"/>
<circle cx="286.4" cy="924.1" r="5.8"/>
<circle cx="230.7" cy="790.6" r="5.8"/>
<circle cx="576.5" cy="671.7" r="5.8"/>
<circle cx="615.3" cy="836.6" r="5.8"/>
<circle cx="399.8" cy="942.1" r="5.8"/>
<circle cx="549.7" cy="808.9" r="5.8"/>
<circle cx="404.7" cy="721.6" r="5.8"/>
<circle cx="433.7" cy="852.0" r="5.8"/>
<circle cx="501.7" cy="764.9" r="5.8"/>
<circle cx="558.2" cy="772.4" r="5.8"/>
<circle cx="369.0" cy="775.8" r="5.8"/>
<circle cx="233.9" cy="857.8" r="5.8"/>
<circle cx="514.6" cy="868.5" r="5.8"/>
<circle cx="459.9" cy="801.8" r="5.8"/>
<circle cx="445.8" cy="685.4" r="5.8"/>
<circle cx="373.1" cy="890.2" r="5.8"/>
<circle cx="329.2" cy="755.0" r="5.8"/>
<circle cx="191.8" cy="945.4" r="5.8"/>
<circle cx="393.3" cy="926.0" r="5.8"/>
<circle cx="562.0" cy="745.6" r="5.8"/>
<circle cx="529.8" cy="1118.2" r="5.8"/>
<circle cx="568.5" cy="701.8" r="5.8"/>
<circle cx="268.3" cy="848.7" r="5.8"/>
<circle cx="385.2" cy="633.0" r="5.8"/>
<circle cx="348.6" cy="671.3" r="5.8"/>
<circle cx="272.4" cy="1022.9" r="5.8"/>
<circle cx="399.7" cy="888.7" r="5.8"/>
<circle cx="208.8" cy="791.9" r="5.8"/>
<circle cx="296.6" cy="1063.8" r="5.8"/>
<circle cx="607.4" cy="773.7" r="5.8"/>
<circle cx="247.6" cy="1026.8" r="5.8"/>
<circle cx="316.6" cy="1093.8" r="5.8"/>
<circle cx="310.3" cy="1011.3" r="5.8"/>
<circle cx="512.7" cy="775.9" r="5.8"/>
<circle cx="226.6" cy="975.0" r="5.8"/>
<circle cx="337.6" cy="1019.1" r="5.8"/>
<circle cx="346.9" cy="882.1" r="5.8"/>
<circle cx="567.2" cy="684.5" r="5.8"/>
<circle cx="523.4" cy="823.2" r="5.8"/>
<circle cx="322.8" cy="940.4" r="5.8"/>
<circle cx="621.4" cy="719.7" r="5.8"/>
<circle cx="477.5" cy="838.6" r="5.8"/>
<circle cx="473.7" cy="1095.7" r="5.8"/>
<circle cx="484.5" cy="1140.2" r="5.8"/>
<circle cx="610.0" cy="675.3" r="5.8"/>
<circle cx="346.5" cy="628.9" r="5.8"/>
<circle cx="240.2" cy="672.4" r="5.8"/>
<circle cx="448.2" cy="707.4" r="5.8"/>
<circle cx="434.0" cy="1076.8" r="5.8"/>
<circle cx="531.7" cy="1060.5" r="5.8"/>
<circle cx="572.3" cy="653.9" r="5.8"/>
<circle cx="371.3" cy="767.0" r="5.8"/>
<circle cx="279.3" cy="840.4" r="5.8"/>
<circle cx="279.6" cy="637.7" r="5.8"/>
<circle cx="341.3" cy="929.5" r="5.8"/>
<circle cx="551.5" cy="883.8" r="5.8"/>
<circle cx="475.5" cy="727.3" r="5.8"/>
<circle cx="255.9" cy="905.4" r="5.8"/>
<circle cx="271.1" cy="818.6" r="5.8"/>
<circle cx="458.4" cy="1028.2" r="5.8"/>
<circle cx="386.7" cy="940.0" r="5.8"/>
<circle cx="582.0" cy="916.0" r="5.8"/>
<circle cx="419.2" cy="696.5" r="5.8"/>
<circle cx="297.1" cy="829.2" r="5.8"/>
<circle cx="454.1" cy="817.9" r="5.8"/>
<circle cx="197.0" cy="924.9" r="5.8"/>
<circle cx="251.1" cy="1110.1" r="5.8"/>
<circle cx="191.4" cy="915.1" r="5.8"/>
<circle cx="293.3" cy="667.4" r="5.8"/>
<circle cx="384.8" cy="992.6" r="5.8"/>
<circle cx="327.7" cy="1076.2" r="5.8"/>
<circle cx="303.3" cy="683.8" r="5.8"/>
<circle cx="359.8" cy="777.3" r="5.8"/>
<circle cx="323.8" cy="603.4" r="5.8"/>
<circle cx="386.1" cy="589.7" r="5.8"/>
<circle cx="448.4" cy="1146.0" r="5.8"/>
<circle cx="564.4" cy="954.3" r="5.8"/>
<circle cx="488.9" cy="676.9" r="5.8"/>
<circle cx="199.8" cy="875.6" r="5.8"/>
<circle cx="445.8" cy="867.9" r="5.8"/>
<circle cx="431.0" cy="774.5" r="5.8"/>
<circle cx="454.4" cy="606.9" r="5.8"/>
<circle cx="366.5" cy="778.6" r="5.8"/>
<circle cx="401.3" cy="673.2" r="5.8"/>
<circle cx="386.9" cy="1137.3" r="5.8"/>
<circle cx="191.1" cy="1029.0" r="5.8"/>
<circle cx="275.4" cy="1075.0" r="5.8"/>
<circle cx="516.5" cy="846.1" r="5.8"/>
<circle cx="246.1" cy="901.4" r="5.8"/>
<circle cx="535.5" cy="1019.1" r="5.8"/>
<circle cx="173.4" cy="937.7" r="5.8"/>
<circle cx="444.8" cy="807.8" r="5.8"/>
<circle cx="596.3" cy="895.2" r="5.8"/>
<circle cx="303.8" cy="1010.3" r="5.8"/>
<circle cx="578.9" cy="852.1" r="5.8"/>
<circle cx="215.4" cy="982.2" r="5.8"/>
<circle cx="570.2" cy="681.1" r="5.8"/>
<circle cx="376.1" cy="913.5" r="5.8"/>
<circle cx="260.7" cy="1005.8" r="5.8"/>
<circle cx="220.8" cy="808.7" r="5.8"/>
<circle cx="164.6" cy="943.3" r="5.8"/>
<circle cx="600.3" cy="958.6" r="5.8"/>
<circle cx="449.7" cy="991.2" r="5.8"/>
<circle cx="401.8" cy="891.0" r="5.8"/>
<circle cx="357.1" cy="1080.8" r="5.8"/>
<circle cx="241.0" cy="1019.8" r="5.8"/>
<circle cx="503.4" cy="713.2" r="5.8"/>
<circle cx="493.0" cy="708.2" r="5.8"/>
<circle cx="495.7" cy="977.6" r="5.8"/>
<circle cx="298.0" cy="770.4" r="5.8"/>
<circle cx="481.7" cy="881.1" r="5.8"/>
<circle cx="465.5" cy="768.1" r="5.8"/>
<circle cx="355.9" cy="1008.9" r="5.8"/>
<circle cx="274.3" cy="885.0" r="5.8"/>
<circle cx="465.3" cy="1006.2" r="5.8"/>
<circle cx="152.6" cy="1112.9" r="5.8"/>
<circle cx="305.3" cy="750.9" r="5.8"/>
<circle cx="466.8" cy="838.7" r="5.8"/>
<circle cx="609.8" cy="843.0" r="5.8"/>
<circle cx="568.2" cy="658.6" r="5.8"/>
<circle cx="255.2" cy="863.1" r="5.8"/>
<circle cx="232.2" cy="881.1" r="5.8"/>
<circle cx="151.4" cy="1095.2" r="5.8"/>
<circle cx="236.5" cy="802.4" r="5.8"/>
<circle cx="381.7" cy="825.0" r="5.8"/>
<circle cx="227.5" cy="863.2" r="5.8"/>
<circle cx="453.8" cy="835.8" r="5.8"/>
<circle cx="340.5" cy="917.7" r="5.8"/>
<circle cx="573.9" cy="872.5" r="5.8"/>
<circle cx="391.4" cy="1041.7" r="5.8"/>
<circle cx="205.6" cy="762.2" r="5.8"/>
<circle cx="437.0" cy="865.7" r="5.8"/>
<circle cx="275.1" cy="818.9" r="5.8"/>
<circle cx="226.9" cy="1110.1" r="5.8"/>
<circle cx="507.8" cy="832.5" r="5.8"/>
<circle cx="236.7" cy="855.5" r="5.8"/>
<circle cx="197.8" cy="758.8" r="5.8"/>
<circle cx="572.1" cy="723.0" r="5.8"/>
<circle cx="577.2" cy="789.2" r="5.8"/>
<circle cx="568.0" cy="911.1" r="5.8"/>
<circle cx="256.2" cy="775.7" r="5.8"/>
<circle cx="342.7" cy="785.5" r="5.8"/>
<circle cx="360.5" cy="1060.9" r="5.8"/>
<circle cx="557.5" cy="701.0" r="5.8"/>
<circle cx="376.4" cy="974.2" r="5.8"/>
<circle cx="450.0" cy="1142.9" r="5.8"/>
<circle cx="419.9" cy="776.1" r="5.8"/>
<circle cx="503.4" cy="826.0" r="5.8"/>
<circle cx="437.4" cy="824.7" r="5.8"/>
<circle cx="225.2" cy="786.2" r="5.8"/>
<circle cx="397.5" cy="891.8" r="5.8"/>
<circle cx="222.6" cy="845.2" r="5.8"/>
<circle cx="449.2" cy="826.9" r="5.8"/>
<circle cx="354.3" cy="1138.3" r="5.8"/>
<circle cx="359.2" cy="853.8" r="5.8"/>
<circle cx="313.4" cy="978.9" r="5.8"/>
<circle cx="538.2" cy="673.1" r="5.8"/>
<circle cx="403.7" cy="758.7" r="5.8"/>
<circle cx="178.5" cy="971.1" r="5.8"/>
<circle cx="473.0" cy="593.2" r="5.8"/>
<circle cx="181.6" cy="879.0" r="5.8"/>
<circle cx="469.0" cy="860.6" r="5.8"/>
<circle cx="266.7" cy="876.6" r="5.8"/>
<circle cx="261.6" cy="1000.9" r="5.8"/>
<circle cx="542.6" cy="980.8" r="5.8"/>
<circle cx="433.6" cy="755.5" r="5.8"/>
<circle cx="572.2" cy="699.4" r="5.8"/>
<circle cx="335.9" cy="1064.0" r="5.8"/>
<circle cx="390.6" cy="816.3" r="5.8"/>
<circle cx="271.6" cy="677.4" r="5.8"/>
<circle cx="319.9" cy="714.6" r="5.8"/>
<circle cx="435.0" cy="906.1" r="5.8"/>
<circle cx="476.2" cy="770.5" r="5.8"/>
<circle cx="311.3" cy="1031.9" r="5.8"/>
<circle cx="424.4" cy="1056.8" r="5.8"/>
<circle cx="307.1" cy="634.0" r="5.8"/>
<circle cx="226.8" cy="737.8" r="5.8"/>
<circle cx="387.0" cy="867.6" r="5.8"/>
<circle cx="377.8" cy="1045.7" r="5.8"/>
<circle cx="386.8" cy="1143.2" r="5.8"/>
<circle cx="285.9" cy="1073.1" r="5.8"/>
<circle cx="389.2" cy="802.0" r="5.8"/>
<circle cx="540.2" cy="979.8" r="5.8"/>
<circle cx="342.9" cy="989.8" r="5.8"/>
<circle cx="351.9" cy="630.3" r="5.8"/>
<circle cx="550.4" cy="823.3" r="5.8"/>
<circle cx="311.2" cy="790.1" r="5.8"/>
<circle cx="367.5" cy="1014.3" r="5.8"/>
<circle cx="322.1" cy="703.5" r="5.8"/>
<circle cx="244.4" cy="918.8" r="5.8"/>
<circle cx="549.1" cy="721.1" r="5.8"/>
<circle cx="203.0" cy="764.7" r="5.8"/>
<circle cx="565.5" cy="709.7" r="5.8"/>
<circle cx="328.9" cy="1149.3" r="5.8"/>
<circle cx="569.2" cy="851.5" r="5.8"/>
<circle cx="195.5" cy="1007.1" r="5.8"/>
<circle cx="560.7" cy="711.1" r="5.8"/>
<circle cx="349.8" cy="1064.4" r="5.8"/>
<circle cx="311.1" cy="678.8" r="5.8"/>
<circle cx="254.2" cy="950.6" r="5.8"/>
<circle cx="291.3" cy="717.9" r="5.8"/>
<circle cx="199.4" cy="988.2" r="5.8"/>
<circle cx="427.6" cy="695.4" r="5.8"/>
<circle cx="376.9" cy="888.2" r="5.8"/>
<circle cx="209.7" cy="860.8" r="5.8"/>
<circle cx="177.3" cy="887.5" r="5.8"/>
<circle cx="365.8" cy="1073.2" r="5.8"/>
<circle cx="542.8" cy="881.9" r="5.8"/>
<circle cx="339.4" cy="1132.5" r="5.8"/>
<circle cx="331.2" cy="673.1" r="5.8"/>
<circle cx="208.9" cy="1024.1" r="5.8"/>
<circle cx="529.2" cy="912.6" r="5.8"/>
<circle cx="255.8" cy="987.9" r="5.8"/>
<circle cx="365.9" cy="788.0" r="5.8"/>
<circle cx="314.9" cy="883.7" r="5.8"/>
<circle cx="333.0" cy="840.3" r="5.8"/>
<circle cx="496.8" cy="752.8" r="5.8"/>
<circle cx="524.4" cy="907.4" r="5.8"/>
<circle cx="310.4" cy="1039.5" r="5.8"/>
<circle cx="371.5" cy="643.9" r="5.8"/>
<circle cx="281.1" cy="870.2" r="5.8"/>
<circle cx="598.5" cy="815.4" r="5.8"/>
<circle cx="234.7" cy="903.0" r="5.8"/>
<circle cx="486.9" cy="814.1" r="5.8"/>
<circle cx="202.3" cy="1082.9" r="5.8"/>
<circle cx="194.8" cy="1044.0" r="5.8"/>
<circle cx="196.5" cy="685.0" r="5.8"/>
<circle cx="406.8" cy="922.2" r="5.8"/>
<circle cx="546.0" cy="789.8" r="5.8"/>
<circle cx="448.9" cy="882.9" r="5.8"/>
<circle cx="404.7" cy="864.6" r="5.8"/>
<circle cx="227.7" cy="758.6" r="5.8"/>
<circle cx="544.0" cy="644.3" r="5.8"/>
<circle cx="341.4" cy="874.8" r="5.8"/>
<circle cx="231.3" cy="869.5" r="5.8"/>
<circle cx="369.9" cy="1100.5" r="5.8"/>
<circle cx="513.7" cy="912.5" r="5.8"/>
<circle cx="441.0" cy="1097.7" r="5.8"/>
<circle cx="245.2" cy="907.5" r="5.8"/>
<circle cx="154.1" cy="1035.0" r="5.8"/>
<circle cx="414.2" cy="1067.9" r="5.8"/>
<circle cx="318.1" cy="778.8" r="5.8"/>
<circle cx="562.2" cy="961.8" r="5.8"/>
<circle cx="282.8" cy="1025.2" r="5.8"/>
<circle cx="524.7" cy="780.6" r="5.8"/>
<circle cx="410.5" cy="651.2" r="5.8"/>
<circle cx="365.8" cy="752.4" r="5.8"/>
<circle cx="452.2" cy="798.7" r="5.8"/>
<circle cx="564.6" cy="737.5" r="5.8"/>
<circle cx="534.3" cy="849.3" r="5.8"/>
<circle cx="479.5" cy="979.0" r="5.8"/>
<circle cx="574.6" cy="1086.8" r="5.8"/>
<circle cx="455.6" cy="995.7" r="5.8"/>
<circle cx="369.4" cy="999.2" r="5.8"/>
<circle cx="505.9" cy="956.1" r="5.8"/>
<circle cx="222.8" cy="838.3" r="5.8"/>
<circle cx="306.2" cy="935.7" r="5.8"/>
<circle cx="199.2" cy="943.9" r="5.8"/>
<circle cx="177.8" cy="930.4" r="5.8"/>
<circle cx="230.0" cy="804.9" r="5.8"/>
<circle cx="199.9" cy="792.5" r="5.8"/>
<circle cx="377.2" cy="1030.5" r="5.8"/>
<circle cx="341.6" cy="834.1" r="5.8"/>
<circle cx="162.0" cy="1063.3" r="5.8"/>
<circle cx="158.8" cy="963.6" r="5.8"/>
<circle cx="305.4" cy="924.4" r="5.8"/>
<circle cx="534.2" cy="732.0" r="5.8"/>
<circle cx="173.9" cy="793.3" r="5.8"/>
<circle cx="369.3" cy="736.4" r="5.8"/>
<circle cx="358.6" cy="751.6" r="5.8"/>
<circle cx="192.6" cy="828.0" r="5.8"/>
<circle cx="359.8" cy="609.6" r="5.8"/>
<circle cx="413.5" cy="955.8" r="5.8"/>
<circle cx="462.0" cy="812.9" r="5.8"/>
<circle cx="468.8" cy="993.2" r="5.8"/>
<circle cx="358.8" cy="811.9" r="5.8"/>
<circle cx="580.6" cy="868.3" r="5.8"/>
<circle cx="299.3" cy="720.4" r="5.8"/>
<circle cx="188.6" cy="1122.4" r="5.8"/>
<circle cx="503.0" cy="1093.2" r="5.8"/>
<circle cx="223.8" cy="921.1" r="5.8"/>
<circle cx="425.4" cy="795.3" r="5.8"/>
<circle cx="586.7" cy="660.7" r="5.8"/>
<circle cx="477.7" cy="1038.1" r="5.8"/>
<circle cx="222.9" cy="933.7" r="5.8"/>
<circle cx="360.4" cy="748.9" r="5.8"/>
<circle cx="460.6" cy="1078.7" r="5.8"/>
<circle cx="441.5" cy="712.2" r="5.8"/>
<circle cx="214.0" cy="839.1" r="5.8"/>
<circle cx="344.8" cy="912.9" r="5.8"/>
<circle cx="528.2" cy="933.1" r="5.8"/>
<circle cx="536.0" cy="906.9" r="5.8"/>
<circle cx="275.3" cy="1145.1" r="5.8"/>
<circle cx="590.7" cy="793.4" r="5.8"/>
<circle cx="458.0" cy="1121.6" r="5.8"/>
<circle cx="544.8" cy="680.1" r="5.8"/>
<circle cx="497.8" cy="756.7" r="5.8"/>
<circle cx="421.1" cy="734.4" r="5.8"/>
<circle cx="565.2" cy="821.8" r="5.8"/>
<circle cx="334.7" cy="802.6" r="5.8"/>
<circle cx="551.3" cy="698.4" r="5.8"/>
<circle cx="504.2" cy="869.8" r="5.8"/>
<circle cx="219.5" cy="950.0" r="5.8"/>
<circle cx="355.1" cy="782.8" r="5.8"/>
<circle cx="237.1" cy="786.8" r="5.8"/>
<circle cx="543.0" cy="861.6" r="5.8"/>
<circle cx="340.7" cy="1048.7" r="5.8"/>
<circle cx="265.9" cy="824.4" r="5.8"/>
<circle cx="324.6" cy="700.2" r="5.8"/>
<circle cx="466.3" cy="697.3" r="5.8"/>
<circle cx="256.0" cy="622.0" r="5.8"/>
<circle cx="604.3" cy="860.5" r="5.8"/>
<circle cx="311.2" cy="981.1" r="5.8"/>
<circle cx="296.7" cy="962.4" r="5.8"/>
<circle cx="463.5" cy="828.5" r="5.8"/>
<circle cx="198.0" cy="951.3" r="5.8"/>
<circle cx="168.5" cy="922.8" r="5.8"/>
<circle cx="580.2" cy="646.3" r="5.8"/>
<circle cx="371.8" cy="922.0" r="5.8"/>
<circle cx="316.5" cy="1023.5" r="5.8"/>
<circle cx="576.4" cy="1052.6" r="5.8"/>
<circle cx="256.9" cy="950.2" r="5.8"/>
<circle cx="318.0" cy="922.3" r="5.8"/>
<circle cx="270.2" cy="1125.7" r="5.8"/>
<circle cx="451.0" cy="867.7" r="5.8"/>
<circle cx="470.3" cy="1070.1" r="5.8"/>
<circle cx="320.9" cy="1136.7" r="5.8"/>
<circle cx="311.6" cy="955.7" r="5.8"/>
<circle cx="429.6" cy="652.2" r="5.8"/>
<circle cx="423.6" cy="858.7" r="5.8"/>
<circle cx="460.1" cy="721.9" r="5.8"/>
<circle cx="555.7" cy="834.3" r="5.8"/>
<circle cx="513.4" cy="951.1" r="5.8"/>
<circle cx="442.9" cy="820.1" r="5.8"/>
<circle cx="220.7" cy="792.6" r="5.8"/>
<circle cx="343.9" cy="657.4" r="5.8"/>
<circle cx="323.4" cy="752.1" r="5.8"/>
<circle cx="350.0" cy="875.5" r="5.8"/>
<circle cx="440.2" cy="785.0" r="5.8"/>
<circle cx="346.6" cy="840.0" r="5.8"/>
<circle cx="292.1" cy="1137.9" r="5.8"/>
<circle cx="299.7" cy="848.3" r="5.8"/>
<circle cx="330.6" cy="994.0" r="5.8"/>
<circle cx="298.7" cy="971.8" r="5.8"/>
<circle cx="252.5" cy="691.3" r="5.8"/>
<circle cx="205.6" cy="942.5" r="5.8"/>
<circle cx="483.0" cy="1138.3" r="5.8"/>
<circle cx="524.4" cy="922.1" r="5.8"/>
<circle cx="423.5" cy="720.4" r="5.8"/>
<circle cx="539.5" cy="1093.4" r="5.8"/>
<circle cx="316.9" cy="1110.9" r="5.8"/>
<circle cx="591.6" cy="859.5" r="5.8"/>
<circle cx="254.0" cy="824.8" r="5.8"/>
<circle cx="432.2" cy="982.0" r="5.8"/>
<circle cx="549.0" cy="678.4" r="5.8"/>
<circle cx="315.9" cy="1105.2" r="5.8"/>
<circle cx="223.5" cy="739.7" r="5.8"/>
<circle cx="425.0" cy="701.6" r="5.8"/>
<circle cx="225.4" cy="1037.8" r="5.8"/>
<circle cx="464.1" cy="684.5" r="5.8"/>
<circle cx="466.8" cy="997.0" r="5.8"/>
<circle cx="426.5" cy="1047.5" r="5.8"/>
<circle cx="490.7" cy="829.2" r="5.8"/>
<circle cx="239.6" cy="714.3" r="5.8"/>
<circle cx="445.9" cy="671.7" r="5.8"/>
<circle cx="517.4" cy="1007.0" r="5.8"/>
<circle cx="295.0" cy="937.5" r="5.8"/>
<circle cx="469.2" cy="852.9" r="5.8"/>
<circle cx="269.7" cy="945.9" r="5.8"/>
<circle cx="372.3" cy="755.5" r="5.8"/>
<circle cx="308.3" cy="965.7" r="5.8"/>
<circle cx="355.0" cy="978.2" r="5.8"/>
<circle cx="345.1" cy="881.6" r="5.8"/>
<circle cx="421.6" cy="867.0" r="5.8"/>
<circle cx="515.7" cy="875.8" r="5.8"/>
<circle cx="331.4" cy="638.0" r="5.8"/>
<circle cx="589.7" cy="763.9" r="5.8"/>
<circle cx="212.3" cy="684.8" r="5.8"/>
<circle cx="224.5" cy="802.2" r="5.8"/>
<circle cx="226.4" cy="1102.6" r="5.8"/>
<circle cx="323.2" cy="926.9" r="5.8"/>
<circle cx="461.9" cy="603.8" r="5.8"/>
<circle cx="392.1" cy="652.7" r="5.8"/>
<circle cx="303.0" cy="1125.7" r="5.8"/>
<circle cx="546.4" cy="703.7" r="5.8"/>
<circle cx="445.0" cy="832.2" r="5.8"/>
<circle cx="276.7" cy="778.5" r="5.8"/>
<circle cx="509.6" cy="715.3" r="5.8"/>
<circle cx="338.6" cy="964.9" r="5.8"/>
<circle cx="285.3" cy="901.8" r="5.8"/>
<circle cx="478.1" cy="1106.3" r="5.8"/>
<circle cx="443.7" cy="849.7" r="5.8"/>
<circle cx="485.8" cy="861.5" r="5.8"/>
<circle cx="604.4" cy="644.7" r="5.8"/>
<circle cx="169.9" cy="877.5" r="5.8"/>
<circle cx="239.0" cy="927.4" r="5.8"/>
<circle cx="207.7" cy="711.6" r="5.8"/>
<circle cx="279.5" cy="727.0" r="5.8"/>
<circle cx="498.6" cy="750.3" r="5.8"/>
<circle cx="357.4" cy="962.7" r="5.8"/>
<circle cx="540.9" cy="917.3" r="5.8"/>
<circle cx="427.0" cy="810.3" r="5.8"/>
<circle cx="402.4" cy="579.0" r="5.8"/>
<circle cx="400.7" cy="943.7" r="5.8"/>
<circle cx="364.4" cy="811.5" r="5.8"/>
<circle cx="401.1" cy="835.2" r="5.8"/>
<circle cx="423.6" cy="817.0" r="5.8"/>
<circle cx="401.5" cy="1114.9" r="5.8"/>
<circle cx="432.9" cy="943.7" r="5.8"/>
<circle cx="428.8" cy="986.4" r="5.8"/>
<circle cx="251.9" cy="1020.8" r="5.8"/>
<circle cx="533.2" cy="934.7" r="5.8"/>
<circle cx="409.7" cy="906.2" r="5.8"/>
<circle cx="373.5" cy="926.8" r="5.8"/>
<circle cx="467.9" cy="818.9" r="5.8"/>
<circle cx="204.4" cy="859.9" r="5.8"/>
<circle cx="524.5" cy="731.7" r="5.8"/>
<circle cx="305.0" cy="1027.7" r="5.8"/>
<circle cx="451.0" cy="983.8" r="5.8"/>
<circle cx="323.1" cy="1086.3" r="5.8"/>
<circle cx="512.2" cy="766.3" r="5.8"/>
<circle cx="276.8" cy="841.1" r="5.8"/>
<circle cx="324.5" cy="783.7" r="5.8"/>
<circle cx="259.4" cy="803.7" r="5.8"/>
<circle cx="344.9" cy="720.1" r="5.8"/>
<circle cx="417.7" cy="1029.0" r="5.8"/>
<circle cx="277.1" cy="1024.5" r="5.8"/>
<circle cx="594.5" cy="797.1" r="5.8"/>
<circle cx="347.7" cy="1013.6" r="5.8"/>
<circle cx="175.0" cy="794.5" r="5.8"/>
<circle cx="584.0" cy="851.1" r="5.8"/>
<circle cx="433.4" cy="735.1" r="5.8"/>
<circle cx="490.7" cy="908.0" r="5.8"/>
<circle cx="507.6" cy="634.2" r="5.8"/>
<circle cx="529.0" cy="999.0" r="5.8"/>
<circle cx="183.6" cy="824.2" r="5.8"/>
<circle cx="462.6" cy="654.2" r="5.8"/>
<circle cx="547.0" cy="857.6" r="5.8"/>
<circle cx="199.8" cy="771.4" r="5.8"/>
<circle cx="363.5" cy="1040.9" r="5.8"/>
<circle cx="454.1" cy="835.2" r="5.8"/>
<circle cx="439.1" cy="666.8" r="5.8"/>
<circle cx="316.8" cy="1067.0" r="5.8"/>
<circle cx="582.3" cy="901.0" r="5.8"/>
<circle cx="369.0" cy="860.6" r="5.8"/>
<circle cx="257.1" cy="775.3" r="5.8"/>
<circle cx="240.4" cy="825.8" r="5.8"/>
<circle cx="328.3" cy="692.9" r="5.8"/>
<circle cx="527.5" cy="1099.0" r="5.8"/>
<circle cx="358.6" cy="985.8" r="5.8"/>
<circle cx="242.6" cy="1060.0" r="5.8"/>
<circle cx="275.8" cy="708.4" r="5.8"/>
<circle cx="590.1" cy="762.2" r="5.8"/>
<circle cx="248.7" cy="1130.6" r="5.8"/>
<circle cx="587.9" cy="805.5" r="5.8"/>
<circle cx="482.5" cy="971.7" r="5.8"/>
<circle cx="181.8" cy="903.5" r="5.8"/>
<circle cx="229.1" cy="763.2" r="5.8"/>
<circle cx="482.4" cy="936.5" r="5.8"/>
<circle cx="335.7" cy="1105.7" r="5.8"/>
<circle cx="596.6" cy="755.7" r="5.8"/>
<circle cx="591.2" cy="725.0" r="5.8"/>
<circle cx="169.3" cy="866.6" r="5.8"/>
<circle cx="295.2" cy="916.5" r="5.8"/>
<circle cx="230.9" cy="1073.0" r="5.8"/>
<circle cx="431.6" cy="697.8" r="5.8"/>
<circle cx="169.4" cy="981.1" r="5.8"/>
<circle cx="592.1" cy="872.3" r="5.8"/>
<circle cx="395.9" cy="741.6" r="5.8"/>
<circle cx="580.9" cy="752.4" r="5.8"/>
<circle cx="282.6" cy="731.4" r="5.8"/>
<circle cx="452.6" cy="804.5" r="5.8"/>
<circle cx="400.8" cy="977.1" r="5.8"/>
<circle cx="504.7" cy="733.1" r="5.8"/>
<circle cx="400.6" cy="824.1" r="5.8"/>
<circle cx="524.1" cy="963.2" r="5.8"/>
<circle cx="530.3" cy="975.8" r="5.8"/>
<circle cx="382.2" cy="881.1" r="5.8"/>
<circle cx="356.1" cy="1001.6" r="5.8"/>
<circle cx="347.9" cy="1054.5" r="5.8"/>
<circle cx="260.6" cy="840.6" r="5.8"/>
<circle cx="379.0" cy="752.6" r="5.8"/>
<circle cx="265.0" cy="836.3" r="5.8"/>
<circle cx="458.1" cy="944.6" r="5.8"/>
<circle cx="568.4" cy="844.1" r="5.8"/>
<circle cx="404.1" cy="735.4" r="5.8"/>
<circle cx="368.1" cy="686.7" r="5.8"/>
<circle cx="307.5" cy="1013.3" r="5.8"/>
<circle cx="466.6" cy="696.6" r="5.8"/>
<circle cx="565.0" cy="846.4" r="5.8"/>
<circle cx="453.6" cy="898.4" r="5.8"/>
<circle cx="194.7" cy="716.3" r="5.8"/>
<circle cx="248.7" cy="796.3" r="5.8"/>
<circle cx="211.6" cy="745.4" r="5.8"/>
<circle cx="472.2" cy="701.7" r="5.8"/>
<circle cx="488.0" cy="1100.6" r="5.8"/>
<circle cx="458.0" cy="732.1" r="5.8"/>
<circle cx="455.4" cy="729.7" r="5.8"/>
<circle cx="560.3" cy="1049.6" r="5.8"/>
<circle cx="527.5" cy="951.6" r="5.8"/>
<circle cx="433.9" cy="840.8" r="5.8"/>
<circle cx="329.8" cy="986.7" r="5.8"/>
<circle cx="414.4" cy="873.2" r="5.8"/>
<circle cx="462.5" cy="732.2" r="5.8"/>
<circle cx="542.7" cy="859.0" r="5.8"/>
<circle cx="306.5" cy="760.3" r="5.8"/>
<circle cx="381.2" cy="855.1" r="5.8"/>
<circle cx="279.6" cy="1037.0" r="5.8"/>
<circle cx="281.6" cy="766.2" r="5.8"/>
<circle cx="405.2" cy="785.8" r="5.8"/>
<circle cx="381.0" cy="983.3" r="5.8"/>
<circle cx="450.4" cy="1086.5" r="5.8"/>
<circle cx="513.5" cy="758.4" r="5.8"/>
<circle cx="444.2" cy="930.9" r="5.8"/>
<circle cx="380.0" cy="840.3" r="5.8"/>
<circle cx="454.1" cy="949.6" r="5.8"/>
<circle cx="569.8" cy="771.2" r="5.8"/>
<circle cx="267.3" cy="926.1" r="5.8"/>
<circle cx="321.0" cy="1096.6" r="5.8"/>
<circle cx="472.3" cy="920.4" r="5.8"/>
<circle cx="201.8" cy="694.3" r="5.8"/>
<circle cx="413.1" cy="978.6" r="5.8"/>
<circle cx="350.0" cy="877.0" r="5.8"/>
<circle cx="327.6" cy="994.7" r="5.8"/>
<circle cx="441.4" cy="847.6" r="5.8"/>
<circle cx="508.5" cy="859.7" r="5.8"/>
<circle cx="421.7" cy="963.9" r="5.8"/>
<circle cx="238.8" cy="1082.3" r="5.8"/>
<circle cx="477.0" cy="1031.1" r="5.8"/>
<circle cx="390.2" cy="696.8" r="5.8"/>
<circle cx="331.9" cy="880.4" r="5.8"/>
<circle cx="531.6" cy="1066.3" r="5.8"/>
<circle cx="339.4" cy="733.0" r="5.8"/>
<circle cx="576.6" cy="979.2" r="5.8"/>
<circle cx="319.0" cy="1054.3" r="5.8"/>
<circle cx="249.3" cy="797.0" r="5.8"/>
<circle cx="403.6" cy="794.9" r="5.8"/>
<circle cx="363.8" cy="940.9" r="5.8"/>
<circle cx="524.1" cy="739.3" r="5.8"/>
<circle cx="492.4" cy="615.7" r="5.8"/>
<circle cx="533.1" cy="708.3" r="5.8"/>
<circle cx="517.1" cy="1141.1" r="5.8"/>
<circle cx="507.0" cy="805.0" r="5.8"/>
<circle cx="318.2" cy="1087.6" r="5.8"/>
<circle cx="242.4" cy="869.6" r="5.8"/>
<circle cx="378.8" cy="703.8" r="5.8"/>
<circle cx="560.8" cy="1018.0" r="5.8"/>
<circle cx="588.4" cy="944.5" r="5.8"/>
<circle cx="231.4" cy="671.2" r="5.8"/>
<circle cx="270.3" cy="692.0" r="5.8"/>
<circle cx="339.6" cy="896.5" r="5.8"/>
<circle cx="392.2" cy="692.0" r="5.8"/>
<circle cx="560.4" cy="889.0" r="5.8"/>
<circle cx="337.9" cy="822.1" r="5.8"/>
<circle cx="192.3" cy="897.5" r="5.8"/>
<circle cx="348.8" cy="952.6" r="5.8"/>
<circle cx="199.4" cy="927.3" r="5.8"/>
<circle cx="472.6" cy="886.6" r="5.8"/>
<circle cx="416.6" cy="696.9" r="5.8"/>
<circle cx="303.9" cy="781.0" r="5.8"/>
<circle cx="213.8" cy="785.5" r="5.8"/>
<circle cx="291.2" cy="656.1" r="5.8"/>
<circle cx="507.0" cy="735.9" r="5.8"/>
<circle cx="449.5" cy="1006.8" r="5.8"/>
<circle cx="521.7" cy="857.4" r="5.8"/>
<circle cx="207.7" cy="724.8" r="5.8"/>
<circle cx="384.8" cy="867.9" r="5.8"/>
<circle cx="402.6" cy="866.3" r="5.8"/>
<circle cx="584.6" cy="775.2" r="5.8"/>
<circle cx="339.0" cy="759.6" r="5.8"/>
<circle cx="470.2" cy="820.3" r="5.8"/>
<circle cx="482.9" cy="995.3" r="5.8"/>
<circle cx="577.7" cy="903.7" r="5.8"/>
<circle cx="484.7" cy="1023.4" r="5.8"/>
<circle cx="360.6" cy="882.3" r="5.8"/>
<circle cx="409.2" cy="761.8" r="5.8"/>
<circle cx="232.1" cy="879.6" r="5.8"/>
<circle cx="368.4" cy="831.7" r="5.8"/>
<circle cx="216.2" cy="910.8" r="5.8"/>
<circle cx="327.7" cy="895.9" r="5.8"/>
<circle cx="353.5" cy="762.4" r="5.8"/>
<circle cx="436.1" cy="1093.9" r="5.8"/>
<circle cx="496.0" cy="699.7" r="5.8"/>
<circle cx="341.2" cy="778.2" r="5.8"/>
<circle cx="516.3" cy="897.5" r="5.8"/>
<circle cx="393.9" cy="1066.2" r="5.8"/>
<circle cx="532.0" cy="981.1" r="5.8"/>
<circle cx="404.1" cy="770.0" r="5.8"/>
<circle cx="551.1" cy="891.1" r="5.8"/>
<circle cx="507.8" cy="701.1" r="5.8"/>
<circle cx="507.5" cy="762.5" r="5.8"/>
<circle cx="272.8" cy="850.5" r="5.8"/>
<circle cx="543.7" cy="1063.5" r="5.8"/>
<circle cx="495.4" cy="704.3" r="5.8"/>
<circle cx="480.4" cy="728.4" r="5.8"/>
<circle cx="560.9" cy="889.6" r="5.8"/>
<circle cx="357.6" cy="966.7" r="5.8"/>
<circle cx="345.2" cy="804.6" r="5.8"/>
<circle cx="382.2" cy="1130.4" r="5.8"/>
<circle cx="393.9" cy="852.0" r="5.8"/>
<circle cx="396.5" cy="935.7" r="5.8"/>
<circle cx="440.5" cy="984.8" r="5.8"/>
<circle cx="423.5" cy="785.4" r="5.8"/>
<circle cx="481.6" cy="997.5" r="5.8"/>
<circle cx="247.2" cy="804.2" r="5.8"/>
<circle cx="431.6" cy="809.2" r="5.8"/>
<circle cx="178.5" cy="944.8" r="5.8"/>
<circle cx="408.8" cy="765.7" r="5.8"/>
<circle cx="166.3" cy="940.7" r="5.8"/>
<circle cx="607.2" cy="734.5" r="5.8"/>
<circle cx="546.3" cy="1029.3" r="5.8"/>
<circle cx="437.8" cy="893.9" r="5.8"/>
<circle cx="313.9" cy="714.2" r="5.8"/>
<circle cx="583.4" cy="746.0" r="5.8"/>
<circle cx="578.2" cy="851.3" r="5.8"/>
<circle cx="571.7" cy="921.3" r="5.8"/>
<circle cx="565.5" cy="693.8" r="5.8"/>
<circle cx="516.2" cy="737.6" r="5.8"/>
<circle cx="215.5" cy="997.4" r="5.8"/>
<circle cx="565.4" cy="725.7" r="5.8"/>
<circle cx="362.2" cy="1102.9" r="5.8"/>
<circle cx="311.3" cy="1043.5" r="5.8"/>
<circle cx="330.8" cy="659.9" r="5.8"/>
<circle cx="505.9" cy="851.7" r="5.8"/>
<circle cx="565.1" cy="599.1" r="5.8"/>
<circle cx="185.9" cy="741.5" r="5.8"/>
<circle cx="495.8" cy="831.8" r="5.8"/>
<circle cx="299.2" cy="915.9" r="5.8"/>
<circle cx="382.8" cy="1050.5" r="5.8"/>
<circle cx="193.9" cy="828.6" r="5.8"/>
<circle cx="561.6" cy="777.1" r="5.8"/>
<circle cx="506.9" cy="840.9" r="5.8"/>
<circle cx="451.9" cy="736.3" r="5.8"/>
<circle cx="442.1" cy="779.7" r="5.8"/>
<circle cx="410.0" cy="1021.7" r="5.8"/>
<circle cx="531.1" cy="702.6" r="5.8"/>
<circle cx="228.4" cy="1019.9" r="5.8"/>
<circle cx="371.4" cy="1117.2" r="5.8"/>
<circle cx="549.9" cy="840.7" r="5.8"/>
<circle cx="460.8" cy="960.0" r="5.8"/>
<circle cx="369.1" cy="936.4" r="5.8"/>
<circle cx="338.9" cy="744.3" r="5.8"/>
<circle cx="363.0" cy="963.4" r="5.8"/>
<circle cx="454.4" cy="841.6" r="5.8"/>
<circle cx="210.6" cy="971.6" r="5.8"/>
<circle cx="334.1" cy="860.4" r="5.8"/>
<circle cx="423.5" cy="926.4" r="5.8"/>
<circle cx="403.1" cy="1007.1" r="5.8"/>
<circle cx="522.9" cy="872.8" r="5.8"/>
<circle cx="339.2" cy="916.7" r="5.8"/>
<circle cx="510.2" cy="821.7" r="5.8"/>
<circle cx="190.3" cy="844.8" r="5.8"/>
<circle cx="448.3" cy="1144.2" r="5.8"/>
<circle cx="536.5" cy="957.0" r="5.8"/>
<circle cx="387.4" cy="1060.5" r="5.8"/>
<circle cx="284.8" cy="658.7" r="5.8"/>
<circle cx="388.5" cy="1089.6" r="5.8"/>
<circle cx="445.1" cy="1007.2" r="5.8"/>
<circle cx="489.8" cy="1086.9" r="5.8"/>
<circle cx="521.1" cy="1021.8" r="5.8"/>
<circle cx="386.5" cy="1049.2" r="5.8"/>
<circle cx="200.1" cy="945.5" r="5.8"/>
<circle cx="275.3" cy="1150.5" r="5.8"/>
<circle cx="521.3" cy="738.3" r="5.8"/>
<circle cx="498.9" cy="934.3" r="5.8"/>
<circle cx="493.1" cy="1095.5" r="5.8"/>
<circle cx="594.0" cy="629.2" r="5.8"/>
<circle cx="343.1" cy="893.0" r="5.8"/>
<circle cx="326.5" cy="849.1" r="5.8"/>
<circle cx="287.5" cy="955.6" r="5.8"/>
<circle cx="346.1" cy="1097.3" r="5.8"/>
<circle cx="570.5" cy="1047.4" r="5.8"/>
<circle cx="278.3" cy="994.5" r="5.8"/>
<circle cx="402.9" cy="999.5" r="5.8"/>
<circle cx="295.8" cy="969.5" r="5.8"/>
<circle cx="603.2" cy="711.8" r="5.8"/>
<circle cx="461.9" cy="834.0" r="5.8"/>
<circle cx="207.5" cy="646.3" r="5.8"/>
<circle cx="364.4" cy="795.1" r="5.8"/>
<circle cx="577.2" cy="757.5" r="5.8"/>
<circle cx="433.9" cy="861.7" r="5.8"/>
<circle cx="389.1" cy="899.6" r="5.8"/>
<circle cx="385.2" cy="876.9" r="5.8"/>
<circle cx="320.7" cy="668.1" r="5.8"/>
<circle cx="410.4" cy="727.1" r="5.8"/>
<circle cx="362.9" cy="1005.6" r="5.8"/>
<circle cx="418.7" cy="760.1" r="5.8"/>
<circle cx="364.0" cy="700.4" r="5.8"/>
<circle cx="536.5" cy="890.4" r="5.8"/>
<circle cx="257.4" cy="784.7" r="5.8"/>
<circle cx="215.4" cy="685.2" r="5.8"/>
<circle cx="320.6" cy="766.3" r="5.8"/>
<circle cx="267.5" cy="951.8" r="5.8"/>
<circle cx="548.3" cy="662.5" r="5.8"/>
<circle cx="415.5" cy="648.0" r="5.8"/>
<circle cx="591.7" cy="811.5" r="5.8"/>
<circle cx="198.8" cy="982.9" r="5.8"/>
<circle cx="546.2" cy="957.7" r="5.8"/>
<circle cx="498.4" cy="970.4" r="5.8"/>
<circle cx="568.7" cy="886.9" r="5.8"/>
<circle cx="556.8" cy="875.0" r="5.8"/>
<circle cx="206.2" cy="978.5" r="5.8"/>
<circle cx="379.1" cy="894.5" r="5.8"/>
<circle cx="161.6" cy="910.3" r="5.8"/>
<circle cx="443.1" cy="1010.9" r="5.8"/>
<circle cx="587.6" cy="712.7" r="5.8"/>
<circle cx="326.6" cy="769.7" r="5.8"/>
<circle cx="383.5" cy="671.6" r="5.8"/>
<circle cx="286.2" cy="633.7" r="5.8"/>
<circle cx="385.4" cy="1098.0" r="5.8"/>
<circle cx="436.1" cy="1068.6" r="5.8"/>
<circle cx="563.6" cy="787.4" r="5.8"/>
<circle cx="314.9" cy="1013.8" r="5.8"/>
<circle cx="399.6" cy="985.0" r="5.8"/>
<circle cx="221.5" cy="821.3" r="5.8"/>
<circle cx="236.6" cy="913.2" r="5.8"/>
<circle cx="275.3" cy="1075.2" r="5.8"/>
<circle cx="347.3" cy="933.0" r="5.8"/>
<circle cx="223.4" cy="719.3" r="5.8"/>
<circle cx="465.5" cy="791.3" r="5.8"/>
<circle cx="283.4" cy="861.3" r="5.8"/>
<circle cx="481.0" cy="1053.5" r="5.8"/>
<circle cx="232.6" cy="900.8" r="5.8"/>
<circle cx="335.8" cy="874.5" r="5.8"/>
<circle cx="465.2" cy="980.3" r="5.8"/>
<circle cx="290.3" cy="647.5" r="5.8"/>
<circle cx="221.8" cy="748.7" r="5.8"/>
<circle cx="578.9" cy="788.5" r="5.8"/>
<circle cx="299.0" cy="956.4" r="5.8"/>
<circle cx="510.6" cy="966.3" r="5.8"/>
<circle cx="320.2" cy="958.8" r="5.8"/>
<circle cx="544.2" cy="659.2" r="5.8"/>
<circle cx="305.4" cy="900.2" r="5.8"/>
<circle cx="556.3" cy="690.1" r="5.8"/>
<circle cx="324.3" cy="892.5" r="5.8"/>
<circle cx="521.5" cy="801.2" r="5.8"/>
<circle cx="468.4" cy="648.8" r="5.8"/>
<circle cx="478.3" cy="673.7" r="5.8"/>
<circle cx="489.4" cy="1111.7" r="5.8"/>
<circle cx="339.8" cy="965.4" r="5.8"/>
<circle cx="239.0" cy="852.5" r="5.8"/>
<circle cx="328.6" cy="1013.4" r="5.8"/>
<circle cx="407.4" cy="726.5" r="5.8"/>
<circle cx="242.9" cy="755.7" r="5.8"/>
<circle cx="436.5" cy="916.7" r="5.8"/>
<circle cx="555.6" cy="789.5" r="5.8"/>
<circle cx="283.5" cy="1022.5" r="5.8"/>
<circle cx="173.0" cy="798.8" r="5.8"/>
<circle cx="484.3" cy="815.7" r="5.8"/>
<circle cx="156.6" cy="937.1" r="5.8"/>
<circle cx="277.4" cy="717.1" r="5.8"/>
<circle cx="232.5" cy="825.3" r="5.8"/>
<circle cx="565.7" cy="644.8" r="5.8"/>
<circle cx="318.8" cy="636.4" r="5.8"/>
<circle cx="516.3" cy="659.4" r="5.8"/>
<circle cx="407.8" cy="804.6" r="5.8"/>
<circle cx="559.8" cy="829.2" r="5.8"/>
<circle cx="477.7" cy="920.7" r="5.8"/>
<circle cx="590.6" cy="749.8" r="5.8"/>
<circle cx="501.3" cy="643.4" r="5.8"/>
<circle cx="386.3" cy="835.3" r="5.8"/>
<circle cx="218.6" cy="853.0" r="5.8"/>
<circle cx="467.0" cy="628.4" r="5.8"/>
<circle cx="380.2" cy="978.7" r="5.8"/>
<circle cx="174.4" cy="934.1" r="5.8"/>
<circle cx="398.5" cy="925.2" r="5.8"/>
<circle cx="539.1" cy="816.0" r="5.8"/>
<circle cx="452.5" cy="1002.7" r="5.8"/>
<circle cx="462.8" cy="631.6" r="5.8"/>
<circle cx="292.7" cy="906.5" r="5.8"/>
<circle cx="391.8" cy="777.1" r="5.8"/>
<circle cx="205.0" cy="837.4" r="5.8"/>
<circle cx="240.8" cy="985.0" r="5.8"/>
<circle cx="203.1" cy="911.8" r="5.8"/>
<circle cx="300.5" cy="905.8" r="5.8"/>
<circle cx="359.1" cy="810.1" r="5.8"/>
<circle cx="464.8" cy="682.6" r="5.8"/>
<circle cx="371.8" cy="1046.5" r="5.8"/>
<circle cx="323.0" cy="610.2" r="5.8"/>
<circle cx="509.7" cy="1066.5" r="5.8"/>
<circle cx="386.6" cy="804.6" r="5.8"/>
<circle cx="278.2" cy="701.4" r="5.8"/>
<circle cx="154.9" cy="874.2" r="5.8"/>
<circle cx="180.9" cy="759.8" r="5.8"/>
<circle cx="397.1" cy="765.3" r="5.8"/>
<circle cx="372.8" cy="727.6" r="5.8"/>
<circle cx="405.2" cy="994.6" r="5.8"/>
<circle cx="260.3" cy="853.7" r="5.8"/>
<circle cx="497.3" cy="882.6" r="5.8"/>
<circle cx="440.5" cy="677.3" r="5.8"/>
<circle cx="498.4" cy="794.8" r="5.8"/>
<circle cx="327.8" cy="857.7" r="5.8"/>
<circle cx="568.6" cy="902.7" r="5.8"/>
<circle cx="266.2" cy="1087.6" r="5.8"/>
<circle cx="285.9" cy="928.7" r="5.8"/>
<circle cx="372.6" cy="634.7" r="5.8"/>
<circle cx="518.9" cy="636.6" r="5.8"/>
<circle cx="320.3" cy="966.3" r="5.8"/>
<circle cx="495.2" cy="763.2" r="5.8"/>
<circle cx="277.6" cy="867.5" r="5.8"/>
<circle cx="489.6" cy="1026.1" r="5.8"/>
<circle cx="429.4" cy="932.0" r="5.8"/>
<circle cx="172.8" cy="920.1" r="5.8"/>
<circle cx="398.0" cy="904.2" r="5.8"/>
<circle cx="478.8" cy="865.7" r="5.8"/>
<circle cx="273.0" cy="752.0" r="5.8"/>
<circle cx="480.5" cy="634.3" r="5.8"/>
<circle cx="197.4" cy="993.5" r="5.8"/>
<circle cx="307.3" cy="1130.1" r="5.8"/>
<circle cx="216.4" cy="889.3" r="5.8"/>
<circle cx="348.9" cy="1016.1" r="5.8"/>
<circle cx="287.3" cy="980.3" r="5.8"/>
<circle cx="428.4" cy="660.6" r="5.8"/>
<circle cx="172.1" cy="891.0" r="5.8"/>
<circle cx="344.7" cy="705.7" r="5.8"/>
<circle cx="359.2" cy="1150.4" r="5.8"/>
<circle cx="564.0" cy="719.4" r="5.8"/>
<circle cx="482.3" cy="885.7" r="5.8"/>
<circle cx="392.9" cy="1110.6" r="5.8"/>
<circle cx="462.1" cy="827.4" r="5.8"/>
<circle cx="302.8" cy="894.9" r="5.8"/>
<circle cx="330.8" cy="821.7" r="5.8"/>
<circle cx="406.7" cy="1042.0" r="5.8"/>
<circle cx="251.5" cy="967.0" r="5.8"/>
<circle cx="278.3" cy="892.0" r="5.8"/>
<circle cx="505.5" cy="741.0" r="5.8"/>
<circle cx="355.7" cy="595.0" r="5.8"/>
<circle cx="293.5" cy="979.0" r="5.8"/>
<circle cx="194.9" cy="957.0" r="5.8"/>
<circle cx="404.0" cy="926.8" r="5.8"/>
<circle cx="355.7" cy="644.2" r="5.8"/>
<circle cx="255.5" cy="768.0" r="5.8"/>
<circle cx="311.3" cy="1047.8" r="5.8"/>
<circle cx="269.9" cy="1022.9" r="5.8"/>
<circle cx="351.3" cy="769.6" r="5.8"/>
<circle cx="494.9" cy="994.4" r="5.8"/>
<circle cx="220.0" cy="793.8" r="5.8"/>
<circle cx="567.2" cy="714.4" r="5.8"/>
<circle cx="457.6" cy="886.7" r="5.8"/>
<circle cx="222.7" cy="862.9" r="5.8"/>
<circle cx="227.0" cy="877.2" r="5.8"/>
<circle cx="244.9" cy="887.8" r="5.8"/>
<circle cx="229.2" cy="859.8" r="5.8"/>
<circle cx="418.1" cy="952.6" r="5.8"/>
<circle cx="346.5" cy="1021.2" r="5.8"/>
<circle cx="172.5" cy="928.5" r="5.8"/>
<circle cx="465.1" cy="710.9" r="5.8"/>
<circle cx="597.5" cy="715.3" r="5.8"/>
<circle cx="600.2" cy="694.6" r="5.8"/>
<circle cx="392.9" cy="708.6" r="5.8"/>
<circle cx="460.4" cy="738.4" r="5.8"/>
<circle cx="557.6" cy="819.4" r="5.8"/>
<circle cx="277.9" cy="751.6" r="5.8"/>
<circle cx="375.4" cy="793.2" r="5.8"/>
<circle cx="567.7" cy="792.7" r="5.8"/>
<circle cx="299.0" cy="1065.5" r="5.8"/>
<circle cx="561.3" cy="864.6" r="5.8"/>
<circle cx="422.3" cy="756.0" r="5.8"/>
<circle cx="395.2" cy="686.9" r="5.8"/>
<circle cx="239.3" cy="861.7" r="5.8"/>
<circle cx="450.8" cy="986.4" r="5.8"/>
<circle cx="524.1" cy="761.2" r="5.8"/>
<circle cx="318.4" cy="799.3" r="5.8"/>
<circle cx="605.0" cy="691.8" r="5.8"/>
<circle cx="362.6" cy="719.9" r="5.8"/>
<circle cx="498.4" cy="1035.6" r="5.8"/>
<circle cx="276.7" cy="1099.6" r="5.8"/>
<circle cx="548.0" cy="799.6" r="5.8"/>
<circle cx="218.0" cy="772.4" r="5.8"/>
<circle cx="332.8" cy="803.1" r="5.8"/>
<circle cx="439.6" cy="877.2" r="5.8"/>
<circle cx="324.8" cy="747.5" r="5.8"/>
<circle cx="188.1" cy="730.7" r="5.8"/>
<circle cx="290.5" cy="1083.2" r="5.8"/>
<circle cx="458.6" cy="747.1" r="5.8"/>
<circle cx="410.2" cy="853.2" r="5.8"/>
<circle cx="424.5" cy="1125.6" r="5.8"/>
<circle cx="414.1" cy="731.0" r="5.8"/>
<circle cx="393.9" cy="958.4" r="5.8"/>
<circle cx="352.0" cy="1095.7" r="5.8"/>
<circle cx="238.1" cy="1006.7" r="5.8"/>
<circle cx="207.4" cy="857.1" r="5.8"/>
<circle cx="432.2" cy="982.3" r="5.8"/>
<circle cx="463.9" cy="650.1" r="5.8"/>
<circle cx="470.3" cy="772.5" r="5.8"/>
<circle cx="392.4" cy="763.0" r="5.8"/>
<circle cx="312.2" cy="1164.3" r="5.8"/>
<circle cx="469.3" cy="1074.3" r="5.8"/>
<circle cx="531.9" cy="845.1" r="5.8"/>
<circle cx="318.8" cy="806.7" r="5.8"/>
<circle cx="408.1" cy="1029.6" r="5.8"/>
<circle cx="177.3" cy="789.1" r="5.8"/>
<circle cx="429.0" cy="1146.3" r="5.8"/>
<circle cx="278.8" cy="725.0" r="5.8"/>
<circle cx="486.5" cy="1030.0" r="5.8"/>
<circle cx="274.6" cy="623.3" r="5.8"/>
<circle cx="484.8" cy="866.0" r="5.8"/>
<circle cx="410.7" cy="801.5" r="5.8"/>
<circle cx="345.9" cy="1034.5" r="5.8"/>
<circle cx="315.0" cy="783.6" r="5.8"/>
<circle cx="422.6" cy="1034.7" r="5.8"/>
<circle cx="533.5" cy="1090.1" r="5.8"/>
<circle cx="430.1" cy="788.8" r="5.8"/>
<circle cx="537.4" cy="1152.0" r="5.8"/>
<circle cx="438.9" cy="1092.5" r="5.8"/>
<circle cx="276.9" cy="937.9" r="5.8"/>
<circle cx="369.4" cy="839.4" r="5.8"/>
<circle cx="328.7" cy="980.4" r="5.8"/>
<circle cx="228.7" cy="944.7" r="5.8"/>
<circle cx="285.2" cy="735.5" r="5.8"/>
<circle cx="183.4" cy="799.3" r="5.8"/>
<circle cx="199.0" cy="868.1" r="5.8"/>
<circle cx="412.5" cy="920.5" r="5.8"/>
<circle cx="355.6" cy="1099.5" r="5.8"/>
<circle cx="361.2" cy="976.7" r="5.8"/>
<circle cx="285.3" cy="981.8" r="5.8"/>
<circle cx="398.5" cy="920.6" r="5.8"/>
<circle cx="280.8" cy="824.1" r="5.8"/>
<circle cx="290.6" cy="849.7" r="5.8"/>
<circle cx="539.7" cy="1023.1" r="5.8"/>
<circle cx="378.4" cy="1102.5" r="5.8"/>
<circle cx="389.8" cy="894.2" r="5.8"/>
<circle cx="471.5" cy="783.2" r="5.8"/>
<circle cx="360.8" cy="1020.2" r="5.8"/>
<circle cx="217.7" cy="801.8" r="5.8"/>
<circle cx="164.9" cy="751.3" r="5.8"/>
<circle cx="483.9" cy="662.3" r="5.8"/>
<circle cx="295.3" cy="724.0" r="5.8"/>
<circle cx="435.6" cy="846.2" r="5.8"/>
<circle cx="358.5" cy="1050.3" r="5.8"/>
<circle cx="567.7" cy="967.4" r="5.8"/>
<circle cx="594.4" cy="748.1" r="5.8"/>
<circle cx="360.6" cy="786.6" r="5.8"/>
<circle cx="485.8" cy="698.6" r="5.8"/>
<circle cx="423.7" cy="631.0" r="5.8"/>
<circle cx="449.7" cy="692.2" r="5.8"/>
<circle cx="264.4" cy="845.4" r="5.8"/>
<circle cx="214.0" cy="750.8" r="5.8"/>
<circle cx="277.3" cy="968.2" r="5.8"/>
<circle cx="351.2" cy="1036.1" r="5.8"/>
<circle cx="365.1" cy="796.9" r="5.8"/>
<circle cx="279.2" cy="766.8" r="5.8"/>
<circle cx="287.7" cy="782.4" r="5.8"/>
<circle cx="173.5" cy="761.8" r="5.8"/>
<circle cx="420.8" cy="775.1" r="5.8"/>
<circle cx="322.7" cy="954.4" r="5.8"/>
<circle cx="498.4" cy="1006.8" r="5.8"/>
<circle cx="480.7" cy="839.8" r="5.8"/>
<circle cx="224.3" cy="686.8" r="5.8"/>
<circle cx="536.0" cy="1029.5" r="5.8"/>
<circle cx="233.1" cy="714.4" r="5.8"/>
<circle cx="522.8" cy="921.0" r="5.8"/>
<circle cx="221.1" cy="812.3" r="5.8"/>
<circle cx="248.6" cy="887.9" r="5.8"/>
<circle cx="295.9" cy="844.0" r="5.8"/>
<circle cx="376.0" cy="798.8" r="5.8"/>
<circle cx="230.8" cy="778.7" r="5.8"/>
<circle cx="289.2" cy="913.3" r="5.8"/>
<circle cx="261.7" cy="757.4" r="5.8"/>
<circle cx="428.3" cy="996.0" r="5.8"/>
<circle cx="363.1" cy="1108.4" r="5.8"/>
<circle cx="409.2" cy="1020.0" r="5.8"/>
<circle cx="357.3" cy="951.9" r="5.8"/>
<circle cx="333.9" cy="836.2" r="5.8"/>
<circle cx="543.2" cy="697.0" r="5.8"/>
<circle cx="298.4" cy="1059.7" r="5.8"/>
<circle cx="551.8" cy="887.2" r="5.8"/>
<circle cx="235.2" cy="655.0" r="5.8"/>
<circle cx="498.1" cy="719.1" r="5.8"/>
<circle cx="486.4" cy="1084.8" r="5.8"/>
<circle cx="494.5" cy="1017.1" r="5.8"/>
<circle cx="445.7" cy="597.3" r="5.8"/>
<circle cx="564.5" cy="830.1" r="5.8"/>
<circle cx="475.9" cy="1055.9" r="5.8"/>
<circle cx="411.7" cy="742.1" r="5.8"/>
<circle cx="353.6" cy="831.0" r="5.8"/>
<circle cx="437.4" cy="710.8" r="5.8"/>
<circle cx="575.6" cy="876.8" r="5.8"/>
<circle cx="302.5" cy="966.6" r="5.8"/>
<circle cx="276.9" cy="609.7" r="5.8"/>
<circle cx="354.7" cy="896.7" r="5.8"/>
<circle cx="529.6" cy="713.9" r="5.8"/>
<circle cx="262.8" cy="710.7" r="5.8"/>
<circle cx="329.1" cy="1133.6" r="5.8"/>
<circle cx="280.8" cy="840.2" r="5.8"/>
<circle cx="479.9" cy="814.7" r="5.8"/>
<circle cx="473.4" cy="1128.0" r="5.8"/>
<circle cx="499.5" cy="983.8" r="5.8"/>
<circle cx="236.4" cy="774.6" r="5.8"/>
<circle cx="323.6" cy="1028.4" r="5.8"/>
<circle cx="235.6" cy="677.7" r="5.8"/>
<circle cx="402.1" cy="763.8" r="5.8"/>
<circle cx="302.5" cy="1080.1" r="5.8"/>
<circle cx="279.5" cy="653.0" r="5.8"/>
<circle cx="548.7" cy="867.8" r="5.8"/>
<circle cx="356.1" cy="639.5" r="5.8"/>
<circle cx="312.5" cy="759.7" r="5.8"/>
<circle cx="164.3" cy="841.5" r="5.8"/>
<circle cx="318.8" cy="1021.5" r="5.8"/>
<circle cx="335.2" cy="891.2" r="5.8"/>
<circle cx="412.8" cy="794.6" r="5.8"/>
<circle cx="490.5" cy="1136.0" r="5.8"/>
<circle cx="357.1" cy="632.6" r="5.8"/>
<circle cx="245.0" cy="783.6" r="5.8"/>
<circle cx="281.7" cy="1055.4" r="5.8"/>
<circle cx="355.1" cy="699.8" r="5.8"/>
<circle cx="467.5" cy="1065.0" r="5.8"/>
<circle cx="358.8" cy="761.7" r="5.8"/>
<circle cx="341.0" cy="1020.1" r="5.8"/>
<circle cx="465.2" cy="879.7" r="5.8"/>
<circle cx="445.0" cy="1048.1" r="5.8"/>
<circle cx="525.8" cy="1062.6" r="5.8"/>
<circle cx="589.2" cy="793.5" r="5.8"/>
<circle cx="297.9" cy="1037.8" r="5.8"/>
<circle cx="492.6" cy="808.0" r="5.8"/>
<circle cx="443.9" cy="680.7" r="5.8"/>
<circle cx="352.0" cy="942.7" r="5.8"/>
<circle cx="307.6" cy="1049.0" r="5.8"/>
<circle cx="424.3" cy="764.8" r="5.8"/>
<circle cx="475.3" cy="904.8" r="5.8"/>
<circle cx="232.7" cy="702.9" r="5.8"/>
<circle cx="485.6" cy="1068.2" r="5.8"/>
<circle cx="324.2" cy="953.9" r="5.8"/>
<circle cx="470.7" cy="898.1" r="5.8"/>
<circle cx="399.4" cy="938.7" r="5.8"/>
<circle cx="431.3" cy="708.0" r="5.8"/>
<circle cx="327.9" cy="771.0" r="5.8"/>
<circle cx="379.2" cy="915.5" r="5.8"/>
<circle cx="485.8" cy="656.3" r="5.8"/>
<circle cx="549.7" cy="819.8" r="5.8"/>
<circle cx="271.3" cy="998.5" r="5.8"/>
<circle cx="402.7" cy="1112.5" r="5.8"/>
<circle cx="435.6" cy="777.6" r="5.8"/>
<circle cx="352.0" cy="1064.9" r="5.8"/>
<circle cx="538.7" cy="664.8" r="5.8"/>
<circle cx="557.9" cy="656.0" r="5.8"/>
<circle cx="212.7" cy="760.3" r="5.8"/>
<circle cx="579.1" cy="886.1" r="5.8"/>
<circle cx="332.3" cy="1061.0" r="5.8"/>
<circle cx="224.1" cy="809.2" r="5.8"/>
<circle cx="412.2" cy="871.2" r="5.8"/>
<circle cx="380.1" cy="1100.7" r="5.8"/>
<circle cx="385.8" cy="957.8" r="5.8"/>
<circle cx="487.6" cy="857.8" r="5.8"/>
<circle cx="252.5" cy="950.6" r="5.8"/>
<circle cx="537.8" cy="688.6" r="5.8"/>
<circle cx="412.3" cy="1138.7" r="5.8"/>
<circle cx="270.5" cy="757.3" r="5.8"/>
<circle cx="449.9" cy="985.8" r="5.8"/>
<circle cx="565.1" cy="721.2" r="5.8"/>
<circle cx="424.3" cy="967.7" r="5.8"/>
<circle cx="216.7" cy="693.4" r="5.8"/>
<circle cx="373.9" cy="894.0" r="5.8"/>
<circle cx="429.7" cy="623.6" r="5.8"/>
<circle cx="496.3" cy="1099.8" r="5.8"/>
<circle cx="335.3" cy="640.4" r="5.8"/>
<circle cx="511.0" cy="899.7" r="5.8"/>
<circle cx="314.1" cy="814.1" r="5.8"/>
<circle cx="533.3" cy="1060.8" r="5.8"/>
<circle cx="314.1" cy="638.0" r="5.8"/>
<circle cx="342.1" cy="880.3" r="5.8"/>
<circle cx="459.1" cy="826.0" r="5.8"/>
<circle cx="321.3" cy="1030.0" r="5.8"/>
<circle cx="493.2" cy="816.9" r="5.8"/>
<circle cx="500.7" cy="979.7" r="5.8"/>
<circle cx="357.8" cy="1099.0" r="5.8"/>
<circle cx="449.9" cy="968.1" r="5.8"/>
<circle cx="169.6" cy="729.2" r="5.8"/>
<circle cx="573.7" cy="824.7" r="5.8"/>
<circle cx="249.7" cy="829.4" r="5.8"/>
<circle cx="488.2" cy="967.4" r="5.8"/>
<circle cx="445.5" cy="1032.4" r="5.8"/>
<circle cx="340.1" cy="779.5" r="5.8"/>
<circle cx="522.4" cy="958.5" r="5.8"/>
<circle cx="380.2" cy="809.8" r="5.8"/>
<circle cx="399.0" cy="761.8" r="5.8"/>
<circle cx="541.9" cy="979.7" r="5.8"/>
<circle cx="322.6" cy="824.5" r="5.8"/>
<circle cx="550.5" cy="699.3" r="5.8"/>
<circle cx="450.1" cy="792.5" r="5.8"/>
<circle cx="387.8" cy="810.1" r="5.8"/>
<circle cx="276.5" cy="730.8" r="5.8"/>
<circle cx="492.9" cy="956.4" r="5.8"/>
<circle cx="410.5" cy="1078.2" r="5.8"/>
<circle cx="290.6" cy="917.0" r="5.8"/>
<circle cx="384.3" cy="1167.1" r="5.8"/>
<circle cx="462.1" cy="1062.6" r="5.8"/>
<circle cx="345.2" cy="857.1" r="5.8"/>
<circle cx="357.9" cy="671.9" r="5.8"/>
<circle cx="232.9" cy="722.6" r="5.8"/>
<circle cx="457.9" cy="918.4" r="5.8"/>
<circle cx="468.5" cy="1006.5" r="5.8"/>
<circle cx="177.6" cy="866.1" r="5.8"/>
<circle cx="500.0" cy="890.3" r="5.8"/>
<circle cx="396.6" cy="805.1" r="5.8"/>
<circle cx="466.5" cy="886.9" r="5.8"/>
<circle cx="414.0" cy="736.9" r="5.8"/>
<circle cx="196.5" cy="880.8" r="5.8"/>
<circle cx="548.1" cy="967.3" r="5.8"/>
<circle cx="522.9" cy="928.6" r="5.8"/>
<circle cx="404.9" cy="802.7" r="5.8"/>
<circle cx="533.4" cy="1070.2" r="5.8"/>
<circle cx="375.6" cy="625.9" r="5.8"/>
<circle cx="290.0" cy="692.1" r="5.8"/>
<circle cx="257.9" cy="729.7" r="5.8"/>
<circle cx="313.3" cy="690.7" r="5.8"/>
<circle cx="520.6" cy="976.6" r="5.8"/>
<circle cx="464.3" cy="942.5" r="5.8"/>
<circle cx="490.0" cy="643.9" r="5.8"/>
<circle cx="462.5" cy="932.7" r="5.8"/>
<circle cx="232.1" cy="830.0" r="5.8"/>
<circle cx="355.4" cy="768.6" r="5.8"/>
<circle cx="462.7" cy="653.0" r="5.8"/>
<circle cx="324.3" cy="1031.5" r="5.8"/>
<circle cx="169.3" cy="831.7" r="5.8"/>
<circle cx="207.3" cy="774.2" r="5.8"/>
<circle cx="419.0" cy="973.7" r="5.8"/>
<circle cx="577.9" cy="815.6" r="5.8"/>
<circle cx="540.9" cy="906.7" r="5.8"/>
<circle cx="295.1" cy="1002.2" r="5.8"/>
<circle cx="486.4" cy="800.3" r="5.8"/>
<circle cx="347.8" cy="806.7" r="5.8"/>
<circle cx="521.3" cy="1032.6" r="5.8"/>
<circle cx="462.0" cy="684.4" r="5.8"/>
<circle cx="479.5" cy="895.8" r="5.8"/>
<circle cx="208.9" cy="700.2" r="5.8"/>
<circle cx="503.4" cy="765.6" r="5.8"/>
<circle cx="508.0" cy="850.9" r="5.8"/>
<circle cx="342.9" cy="986.5" r="5.8"/>
<circle cx="250.3" cy="674.3" r="5.8"/>
<circle cx="421.7" cy="1030.5" r="5.8"/>
<circle cx="203.6" cy="818.0" r="5.8"/>
<circle cx="311.1" cy="767.1" r="5.8"/>
<circle cx="178.5" cy="728.3" r="5.8"/>
<circle cx="591.6" cy="721.3" r="5.8"/>
<circle cx="472.6" cy="864.8" r="5.8"/>
<circle cx="431.0" cy="1065.1" r="5.8"/>
<circle cx="347.7" cy="1009.1" r="5.8"/>
<circle cx="491.3" cy="799.2" r="5.8"/>
<circle cx="460.7" cy="820.5" r="5.8"/>
<circle cx="319.6" cy="636.7" r="5.8"/>
<circle cx="179.8" cy="794.3" r="5.8"/>
<circle cx="484.6" cy="748.4" r="5.8"/>
<circle cx="560.8" cy="825.2" r="5.8"/>
<circle cx="291.0" cy="961.2" r="5.8"/>
<circle cx="346.2" cy="1087.3" r="5.8"/>
<circle cx="413.8" cy="739.1" r="5.8"/>
<circle cx="544.1" cy="785.1" r="5.8"/>
<circle cx="459.2" cy="810.1" r="5.8"/>
<circle cx="450.0" cy="929.7" r="5.8"/>
<circle cx="457.0" cy="989.0" r="5.8"/>
<circle cx="521.4" cy="682.8" r="5.8"/>
<circle cx="339.6" cy="797.6" r="5.8"/>
<circle cx="484.5" cy="984.6" r="5.8"/>
<circle cx="222.4" cy="857.1" r="5.8"/>
<circle cx="365.6" cy="1012.8" r="5.8"/>
<circle cx="570.7" cy="859.1" r="5.8"/>
<circle cx="533.5" cy="1104.0" r="5.8"/>
<circle cx="451.2" cy="898.0" r="5.8"/>
<circle cx="365.1" cy="944.2" r="5.8"/>
<circle cx="281.7" cy="772.2" r="5.8"/>
<circle cx="489.4" cy="963.5" r="5.8"/>
<circle cx="443.9" cy="660.3" r="5.8"/>
<circle cx="275.8" cy="922.5" r="5.8"/>
<circle cx="271.8" cy="825.2" r="5.8"/>
<circle cx="214.9" cy="874.2" r="5.8"/>
<circle cx="398.1" cy="928.1" r="5.8"/>
<circle cx="468.7" cy="765.4" r="5.8"/>
<circle cx="418.6" cy="1155.7" r="5.8"/>
<circle cx="260.6" cy="660.5" r="5.8"/>
<circle cx="313.5" cy="802.3" r="5.8"/>
<circle cx="485.4" cy="963.8" r="5.8"/>
<circle cx="521.9" cy="752.3" r="5.8"/>
<circle cx="426.9" cy="815.5" r="5.8"/>
<circle cx="492.5" cy="909.0" r="5.8"/>
<circle cx="317.8" cy="736.5" r="5.8"/>
<circle cx="426.5" cy="812.0" r="5.8"/>
<circle cx="363.9" cy="1116.6" r="5.8"/>
<circle cx="383.9" cy="703.0" r="5.8"/>
<circle cx="223.6" cy="918.2" r="5.8"/>
<circle cx="316.1" cy="710.8" r="5.8"/>
<circle cx="469.3" cy="970.7" r="5.8"/>
<circle cx="308.3" cy="773.3" r="5.8"/>
<circle cx="343.8" cy="896.9" r="5.8"/>
<circle cx="502.5" cy="943.6" r="5.8"/>
<circle cx="552.8" cy="926.9" r="5.8"/>
<circle cx="555.1" cy="698.1" r="5.8"/>
<circle cx="439.0" cy="1145.0" r="5.8"/>
<circle cx="385.2" cy="679.3" r="5.8"/>
<circle cx="584.3" cy="688.1" r="5.8"/>
<circle cx="312.6" cy="645.2" r="5.8"/>
<circle cx="390.9" cy="957.6" r="5.8"/>
<circle cx="548.5" cy="947.0" r="5.8"/>
<circle cx="485.4" cy="713.6" r="5.8"/>
<circle cx="236.9" cy="827.7" r="5.8"/>
<circle cx="259.8" cy="773.3" r="5.8"/>
<circle cx="352.1" cy="683.1" r="5.8"/>
<circle cx="377.6" cy="1076.8" r="5.8"/>
<circle cx="426.8" cy="855.6" r="5.8"/>
<circle cx="304.9" cy="869.2" r="5.8"/>
<circle cx="288.1" cy="760.7" r="5.8"/>
<circle cx="523.8" cy="818.3" r="5.8"/>
<circle cx="365.2" cy="737.6" r="5.8"/>
<circle cx="460.7" cy="1095.7" r="5.8"/>
<circle cx="374.1" cy="904.9" r="5.8"/>
<circle cx="465.5" cy="763.6" r="5.8"/>
<circle cx="199.0" cy="825.1" r="5.8"/>
<circle cx="296.1" cy="878.8" r="5.8"/>
<circle cx="566.2" cy="734.1" r="5.8"/>
<circle cx="473.7" cy="839.8" r="5.8"/>
<circle cx="225.2" cy="716.7" r="5.8"/>
<circle cx="346.9" cy="993.3" r="5.8"/>
<circle cx="458.9" cy="1034.2" r="5.8"/>
<circle cx="512.0" cy="825.0" r="5.8"/>
<circle cx="527.2" cy="994.6" r="5.8"/>
<circle cx="439.4" cy="949.9" r="5.8"/>
<circle cx="502.4" cy="794.4" r="5.8"/>
<circle cx="416.9" cy="1047.9" r="5.8"/>
<circle cx="449.3" cy="868.3" r="5.8"/>
<circle cx="351.0" cy="806.5" r="5.8"/>
<circle cx="401.7" cy="901.0" r="5.8"/>
<circle cx="508.0" cy="761.0" r="5.8"/>
<circle cx="425.3" cy="987.7" r="5.8"/>
<circle cx="279.0" cy="954.3" r="5.8"/>
<circle cx="314.6" cy="1024.6" r="5.8"/>
<circle cx="336.7" cy="698.0" r="5.8"/>
<circle cx="540.1" cy="1028.0" r="5.8"/>
<circle cx="353.3" cy="854.9" r="5.8"/>
<circle cx="267.0" cy="956.3" r="5.8"/>
<circle cx="266.9" cy="782.3" r="5.8"/>
<circle cx="554.6" cy="891.5" r="5.8"/>
<circle cx="381.9" cy="1025.6" r="5.8"/>
<circle cx="579.2" cy="762.8" r="5.8"/>
<circle cx="401.5" cy="704.0" r="5.8"/>
<circle cx="280.4" cy="843.0" r="5.8"/>
<circle cx="540.1" cy="726.0" r="5.8"/>
<circle cx="481.2" cy="906.0" r="5.8"/>
<circle cx="588.8" cy="624.7" r="5.8"/>
<circle cx="384.3" cy="840.3" r="5.8"/>
<circle cx="526.8" cy="855.8" r="5.8"/>
<circle cx="484.6" cy="1050.7" r="5.8"/>
<circle cx="328.0" cy="808.8" r="5.8"/>
<circle cx="573.1" cy="770.5" r="5.8"/>
<circle cx="351.4" cy="820.5" r="5.8"/>
<circle cx="363.2" cy="860.9" r="5.8"/>
<circle cx="525.6" cy="889.3" r="5.8"/>
<circle cx="344.9" cy="725.2" r="5.8"/>
<circle cx="446.7" cy="675.7" r="5.8"/>
<circle cx="496.3" cy="1088.0" r="5.8"/>
<circle cx="208.7" cy="866.1" r="5.8"/>
<circle cx="465.0" cy="849.0" r="5.8"/>
<circle cx="531.2" cy="768.5" r="5.8"/>
<circle cx="271.6" cy="922.5" r="5.8"/>
<circle cx="424.9" cy="678.6" r="5.8"/>
<circle cx="550.9" cy="1063.2" r="5.8"/>
<circle cx="336.9" cy="1020.0" r="5.8"/>
<circle cx="405.3" cy="883.2" r="5.8"/>
<circle cx="310.7" cy="666.8" r="5.8"/>
<circle cx="219.2" cy="792.1" r="5.8"/>
<circle cx="254.7" cy="906.8" r="5.8"/>
<circle cx="374.5" cy="658.9" r="5.8"/>
<circle cx="263.9" cy="692.2" r="5.8"/>
<circle cx="246.5" cy="829.5" r="5.8"/>
<circle cx="233.9" cy="784.4" r="5.8"/>
<circle cx="516.9" cy="664.2" r="5.8"/>
<circle cx="551.0" cy="1025.2" r="5.8"/>
<circle cx="404.1" cy="1041.9" r="5.8"/>
<circle cx="412.6" cy="724.1" r="5.8"/>
<circle cx="377.4" cy="1005.2" r="5.8"/>
<circle cx="312.5" cy="853.7" r="5.8"/>
<circle cx="298.2" cy="686.0" r="5.8"/>
<circle cx="352.1" cy="704.8" r="5.8"/>
<circle cx="368.7" cy="972.1" r="5.8"/>
<circle cx="453.5" cy="939.4" r="5.8"/>
<circle cx="216.0" cy="765.9" r="5.8"/>
<circle cx="440.8" cy="613.5" r="5.8"/>
<circle cx="411.4" cy="738.3" r="5.8"/>
<circle cx="417.7" cy="983.8" r="5.8"/>
<circle cx="174.0" cy="694.6" r="5.8"/>
<circle cx="333.3" cy="766.8" r="5.8"/>
<circle cx="445.4" cy="1096.5" r="5.8"/>
<circle cx="415.7" cy="604.4" r="5.8"/>
<circle cx="537.9" cy="951.4" r="5.8"/>
<circle cx="241.5" cy="828.6" r="5.8"/>
<circle cx="494.3" cy="930.7" r="5.8"/>
<circle cx="305.0" cy="778.2" r="5.8"/>
<circle cx="535.2" cy="812.1" r="5.8"/>
<circle cx="359.4" cy="955.9" r="5.8"/>
<circle cx="377.3" cy="1079.3" r="5.8"/>
<circle cx="476.9" cy="923.5" r="5.8"/>
<circle cx="319.9" cy="974.3" r="5.8"/>
<circle cx="324.2" cy="695.3" r="5.8"/>
<circle cx="252.4" cy="872.4" r="5.8"/>
<circle cx="339.3" cy="908.6" r="5.8"/>
<circle cx="375.3" cy="928.6" r="5.8"/>
<circle cx="222.9" cy="805.5" r="5.8"/>
<circle cx="456.7" cy="695.4" r="5.8"/>
<circle cx="340.5" cy="975.7" r="5.8"/>
<circle cx="241.3" cy="751.2" r="5.8"/>
<circle cx="464.7" cy="657.3" r="5.8"/>
<circle cx="436.7" cy="905.6" r="5.8"/>
<circle cx="433.0" cy="971.4" r="5.8"/>
<circle cx="392.3" cy="924.2" r="5.8"/>
<circle cx="463.6" cy="961.5" r="5.8"/>
<circle cx="230.4" cy="765.1" r="5.8"/>
<circle cx="326.2" cy="722.5" r="5.8"/>
<circle cx="540.5" cy="750.6" r="5.8"/>
<circle cx="283.9" cy="682.5" r="5.8"/>
<circle cx="401.0" cy="768.6" r="5.8"/>
<circle cx="379.8" cy="812.9" r="5.8"/>
<circle cx="395.7" cy="981.1" r="5.8"/>
<circle cx="379.3" cy="901.9" r="5.8"/>
<circle cx="572.0" cy="768.2" r="5.8"/>
<circle cx="226.9" cy="808.2" r="5.8"/>
<circle cx="418.0" cy="930.0" r="5.8"/>
<circle cx="341.4" cy="843.5" r="5.8"/>
<circle cx="527.1" cy="990.2" r="5.8"/>
<circle cx="562.6" cy="896.1" r="5.8"/>
<circle cx="563.6" cy="890.5" r="5.8"/>
<circle cx="178.6" cy="779.5" r="5.8"/>
<circle cx="317.2" cy="1011.1" r="5.8"/>
<circle cx="405.4" cy="743.9" r="5.8"/>
<circle cx="374.3" cy="838.8" r="5.8"/>
<circle cx="331.3" cy="685.1" r="5.8"/>
<circle cx="423.4" cy="963.2" r="5.8"/>
<circle cx="547.8" cy="1036.4" r="5.8"/>
<circle cx="522.9" cy="997.6" r="5.8"/>
<circle cx="357.8" cy="833.8" r="5.8"/>
<circle cx="255.1" cy="900.1" r="5.8"/>
<circle cx="304.7" cy="811.2" r="5.8"/>
<circle cx="435.3" cy="805.1" r="5.8"/>
<circle cx="436.4" cy="869.4" r="5.8"/>
<circle cx="484.1" cy="792.5" r="5.8"/>
<circle cx="462.2" cy="1158.3" r="5.8"/>
<circle cx="534.1" cy="850.7" r="5.8"/>
<circle cx="452.5" cy="872.4" r="5.8"/>
<circle cx="317.9" cy="998.3" r="5.8"/>
<circle cx="378.6" cy="672.8" r="5.8"/>
<circle cx="485.7" cy="683.1" r="5.8"/>
<circle cx="481.6" cy="864.7" r="5.8"/>
<circle cx="429.0" cy="869.1" r="5.8"/>
<circle cx="345.2" cy="683.6" r="5.8"/>
<circle cx="543.1" cy="943.3" r="5.8"/>
<circle cx="306.2" cy="796.9" r="5.8"/>
<circle cx="497.1" cy="904.6" r="5.8"/>
<circle cx="401.5" cy="738.8" r="5.8"/>
<circle cx="471.0" cy="882.2" r="5.8"/>
<circle cx="392.1" cy="638.0" r="5.8"/>
<circle cx="475.1" cy="920.2" r="5.8"/>
<circle cx="466.7" cy="824.3" r="5.8"/>
<circle cx="554.7" cy="876.4" r="5.8"/>
<circle cx="560.2" cy="930.2" r="5.8"/>
<circle cx="490.4" cy="790.9" r="5.8"/>
<circle cx="359.9" cy="1029.9" r="5.8"/>
<circle cx="353.1" cy="863.3" r="5.8"/>
<circle cx="324.5" cy="718.6" r="5.8"/>
<circle cx="286.7" cy="969.7" r="5.8"/>
<circle cx="401.4" cy="790.5" r="5.8"/>
<circle cx="384.7" cy="603.8" r="5.8"/>
<circle cx="294.0" cy="819.2" r="5.8"/>
<circle cx="365.5" cy="1071.9" r="5.8"/>
<circle cx="303.0" cy="867.4" r="5.8"/>
<circle cx="484.1" cy="595.3" r="5.8"/>
<circle cx="440.9" cy="1050.6" r="5.8"/>
<circle cx="171.3" cy="753.0" r="5.8"/>
<circle cx="418.3" cy="1097.4" r="5.8"/>
<circle cx="289.9" cy="905.3" r="5.8"/>
<circle cx="404.3" cy="928.0" r="5.8"/>
<circle cx="541.6" cy="1046.4" r="5.8"/>
<circle cx="462.6" cy="732.1" r="5.8"/>
<circle cx="340.1" cy="916.1" r="5.8"/>
<circle cx="361.3" cy="623.5" r="5.8"/>
<circle cx="401.8" cy="981.7" r="5.8"/>
<circle cx="416.0" cy="1045.9" r="5.8"/>
<circle cx="365.9" cy="908.0" r="5.8"/>
<circle cx="558.7" cy="908.2" r="5.8"/>
<circle cx="429.6" cy="596.9" r="5.8"/>
<circle cx="478.4" cy="816.6" r="5.8"/>
<circle cx="409.7" cy="738.4" r="5.8"/>
<circle cx="324.6" cy="730.8" r="5.8"/>
<circle cx="413.5" cy="958.8" r="5.8"/>
<circle cx="257.4" cy="657.5" r="5.8"/>
<circle cx="444.5" cy="774.1" r="5.8"/>
<circle cx="324.0" cy="728.2" r="5.8"/>
<circle cx="413.9" cy="695.6" r="5.8"/>
<circle cx="465.7" cy="803.0" r="5.8"/>
<circle cx="332.1" cy="949.1" r="5.8"/>
<circle cx="480.6" cy="938.8" r="5.8"/>
<circle cx="447.9" cy="798.9" r="5.8"/>
<circle cx="356.3" cy="860.3" r="5.8"/>
<circle cx="331.1" cy="980.5" r="5.8"/>
<circle cx="535.3" cy="669.9" r="5.8"/>
<circle cx="492.3" cy="812.7" r="5.8"/>
<circle cx="425.0" cy="710.8" r="5.8"/>
<circle cx="530.6" cy="1041.8" r="5.8"/>
<circle cx="341.7" cy="812.5" r="5.8"/>
<circle cx="494.7" cy="780.3" r="5.8"/>
<circle cx="492.7" cy="844.9" r="5.8"/>
<circle cx="340.1" cy="1025.3" r="5.8"/>
<circle cx="313.6" cy="965.1" r="5.8"/>
<circle cx="485.9" cy="889.8" r="5.8"/>
<circle cx="291.3" cy="740.0" r="5.8"/>
<circle cx="516.2" cy="776.2" r="5.8"/>
<circle cx="197.0" cy="789.8" r="5.8"/>
<circle cx="455.9" cy="1038.1" r="5.8"/>
<circle cx="248.7" cy="768.3" r="5.8"/>
<circle cx="385.3" cy="1054.3" r="5.8"/>
<circle cx="337.4" cy="1012.3" r="5.8"/>
<circle cx="337.0" cy="759.8" r="5.8"/>
<circle cx="268.8" cy="882.5" r="5.8"/>
<circle cx="501.7" cy="890.8" r="5.8"/>
<circle cx="345.8" cy="982.7" r="5.8"/>
<circle cx="239.5" cy="849.4" r="5.8"/>
<circle cx="540.5" cy="1024.5" r="5.8"/>
<circle cx="504.9" cy="886.3" r="5.8"/>
<circle cx="425.0" cy="979.9" r="5.8"/>
<circle cx="312.5" cy="617.6" r="5.8"/>
<circle cx="562.3" cy="806.8" r="5.8"/>
<circle cx="527.8" cy="839.7" r="5.8"/>
<circle cx="429.9" cy="1006.2" r="5.8"/>
<circle cx="271.2" cy="704.5" r="5.8"/>
<circle cx="422.0" cy="786.8" r="5.8"/>
<circle cx="332.5" cy="1013.8" r="5.8"/>
<circle cx="389.6" cy="1056.8" r="5.8"/>
<circle cx="554.1" cy="842.4" r="5.8"/>
<circle cx="539.4" cy="1086.9" r="5.8"/>
<circle cx="308.0" cy="758.7" r="5.8"/>
<circle cx="276.6" cy="912.2" r="5.8"/>
<circle cx="256.1" cy="771.6" r="5.8"/>
<circle cx="296.3" cy="943.8" r="5.8"/>
<circle cx="257.3" cy="874.0" r="5.8"/>
<circle cx="460.2" cy="853.5" r="5.8"/>
<circle cx="388.4" cy="953.5" r="5.8"/>
<circle cx="280.0" cy="811.6" r="5.8"/>
<circle cx="405.7" cy="722.7" r="5.8"/>
<circle cx="531.0" cy="914.9" r="5.8"/>
<circle cx="420.5" cy="726.5" r="5.8"/>
<circle cx="415.4" cy="828.6" r="5.8"/>
<circle cx="323.9" cy="1004.2" r="5.8"/>
<circle cx="388.2" cy="984.7" r="5.8"/>
<circle cx="497.2" cy="739.8" r="5.8"/>
<circle cx="421.1" cy="1144.5" r="5.8"/>
<circle cx="282.7" cy="831.6" r="5.8"/>
<circle cx="361.5" cy="882.4" r="5.8"/>
<circle cx="277.7" cy="865.7" r="5.8"/>
<circle cx="569.5" cy="693.3" r="5.8"/>
<circle cx="303.9" cy="826.2" r="5.8"/>
<circle cx="520.0" cy="839.4" r="5.8"/>
<circle cx="361.1" cy="860.8" r="5.8"/>
<circle cx="408.0" cy="860.5" r="5.8"/>
<circle cx="353.2" cy="858.4" r="5.8"/>
<circle cx="517.4" cy="789.4" r="5.8"/>
<circle cx="320.4" cy="662.0" r="5.8"/>
<circle cx="340.4" cy="994.8" r="5.8"/>
<circle cx="360.6" cy="862.0" r="5.8"/>
<circle cx="247.1" cy="723.6" r="5.8"/>
<circle cx="431.2" cy="795.2" r="5.8"/>
<circle cx="489.8" cy="750.5" r="5.8"/>
<circle cx="239.6" cy="817.7" r="5.8"/>
<circle cx="468.5" cy="1070.2" r="5.8"/>
<circle cx="478.4" cy="642.5" r="5.8"/>
<circle cx="273.0" cy="746.2" r="5.8"/>
<circle cx="419.0" cy="1128.3" r="5.8"/>
<circle cx="500.6" cy="761.2" r="5.8"/>
<circle cx="376.3" cy="819.9" r="5.8"/>
<circle cx="210.3" cy="708.6" r="5.8"/>
<circle cx="520.8" cy="858.5" r="5.8"/>
<circle cx="319.2" cy="874.1" r="5.8"/>
<circle cx="306.5" cy="909.9" r="5.8"/>
<circle cx="260.1" cy="754.0" r="5.8"/>
<circle cx="462.4" cy="985.1" r="5.8"/>
<circle cx="395.9" cy="751.7" r="5.8"/>
<circle cx="447.6" cy="621.9" r="5.8"/>
<circle cx="254.1" cy="803.5" r="5.8"/>
<circle cx="466.4" cy="801.3" r="5.8"/>
<circle cx="499.0" cy="998.8" r="5.8"/>
<circle cx="524.6" cy="695.5" r="5.8"/>
<circle cx="492.3" cy="705.3" r="5.8"/>
<circle cx="486.8" cy="1009.1" r="5.8"/>
<circle cx="530.8" cy="946.6" r="5.8"/>
<circle cx="271.5" cy="887.9" r="5.8"/>
<circle cx="538.0" cy="911.4" r="5.8"/>
<circle cx="535.1" cy="1112.3" r="5.8"/>
<circle cx="387.7" cy="833.4" r="5.8"/>
<circle cx="311.4" cy="933.4" r="5.8"/>
<circle cx="507.9" cy="682.3" r="5.8"/>
<circle cx="463.0" cy="997.7" r="5.8"/>
<circle cx="433.7" cy="833.3" r="5.8"/>
<circle cx="497.0" cy="753.8" r="5.8"/>
<circle cx="478.0" cy="743.2" r="5.8"/>
<circle cx="394.3" cy="906.2" r="5.8"/>
<circle cx="345.8" cy="740.9" r="5.8"/>
<circle cx="413.2" cy="913.7" r="5.8"/>
<circle cx="549.2" cy="915.2" r="5.8"/>
<circle cx="447.6" cy="1026.4" r="5.8"/>
<circle cx="339.6" cy="888.7" r="5.8"/>
<circle cx="400.5" cy="917.8" r="5.8"/>
<circle cx="503.5" cy="1047.2" r="5.8"/>
<circle cx="501.3" cy="732.2" r="5.8"/>
<circle cx="348.7" cy="957.7" r="5.8"/>
<circle cx="412.7" cy="910.8" r="5.8"/>
<circle cx="407.3" cy="800.4" r="5.8"/>
<circle cx="423.0" cy="821.0" r="5.8"/>
<circle cx="561.5" cy="791.2" r="5.8"/>
<circle cx="393.8" cy="1090.0" r="5.8"/>
<circle cx="495.0" cy="908.4" r="5.8"/>
<circle cx="294.2" cy="694.8" r="5.8"/>
<circle cx="343.2" cy="685.1" r="5.8"/>
<circle cx="539.1" cy="722.7" r="5.8"/>
<circle cx="495.9" cy="1037.0" r="5.8"/>
<circle cx="378.0" cy="1033.9" r="5.8"/>
<circle cx="428.1" cy="685.8" r="5.8"/>
<circle cx="289.7" cy="726.1" r="5.8"/>
<circle cx="414.8" cy="767.0" r="5.8"/>
<circle cx="484.0" cy="669.1" r="5.8"/>
<circle cx="449.1" cy="896.7" r="5.8"/>
<circle cx="429.6" cy="850.4" r="5.8"/>
<circle cx="490.4" cy="674.4" r="5.8"/>
<circle cx="396.4" cy="1073.9" r="5.8"/>
<circle cx="541.5" cy="911.6" r="5.8"/>
<circle cx="219.7" cy="747.6" r="5.8"/>
<circle cx="254.3" cy="804.4" r="5.8"/>
<circle cx="270.2" cy="645.4" r="5.8"/>
<circle cx="375.9" cy="944.2" r="5.8"/>
<circle cx="425.2" cy="920.6" r="5.8"/>
<circle cx="490.5" cy="801.1" r="5.8"/>
<circle cx="468.1" cy="986.9" r="5.8"/>
<circle cx="350.7" cy="786.8" r="5.8"/>
<circle cx="504.9" cy="1050.8" r="5.8"/>
<circle cx="536.7" cy="692.1" r="5.8"/>
<circle cx="413.1" cy="934.3" r="5.8"/>
<circle cx="481.8" cy="748.2" r="5.8"/>
<circle cx="494.1" cy="825.9" r="5.8"/>
<circle cx="529.3" cy="1000.2" r="5.8"/>
<circle cx="479.5" cy="1011.3" r="5.8"/>
<circle cx="305.9" cy="830.3" r="5.8"/>
<circle cx="325.1" cy="951.6" r="5.8"/>
<circle cx="434.0" cy="1043.0" r="5.8"/>
<circle cx="465.5" cy="1108.1" r="5.8"/>
<circle cx="463.9" cy="905.5" r="5.8"/>
<circle cx="461.0" cy="1092.8" r="5.8"/>
<circle cx="462.0" cy="838.0" r="5.8"/>
<circle cx="383.2" cy="914.8" r="5.8"/>
<circle cx="469.9" cy="1111.3" r="5.8"/>
<circle cx="414.1" cy="1054.5" r="5.8"/>
<circle cx="528.9" cy="761.9" r="5.8"/>
<circle cx="389.6" cy="930.9" r="5.8"/>
<circle cx="467.6" cy="971.9" r="5.8"/>
<circle cx="344.8" cy="940.3" r="5.8"/>
<circle cx="351.0" cy="743.0" r="5.8"/>
<circle cx="494.8" cy="865.3" r="5.8"/>
<circle cx="520.0" cy="874.1" r="5.8"/>
<circle cx="512.1" cy="769.7" r="5.8"/>
<circle cx="472.0" cy="762.4" r="5.8"/>
<circle cx="479.4" cy="788.4" r="5.8"/>
<circle cx="360.1" cy="980.7" r="5.8"/>
<circle cx="397.0" cy="998.7" r="5.8"/>
<circle cx="229.8" cy="721.9" r="5.8"/>
<circle cx="446.3" cy="1009.4" r="5.8"/>
<circle cx="215.8" cy="725.1" r="5.8"/>
<circle cx="267.7" cy="829.2" r="5.8"/>
<circle cx="360.4" cy="985.9" r="5.8"/>
<circle cx="386.6" cy="617.9" r="5.8"/>
<circle cx="390.5" cy="841.6" r="5.8"/>
<circle cx="510.6" cy="750.2" r="5.8"/>
<circle cx="241.6" cy="705.6" r="5.8"/>
<circle cx="450.8" cy="716.2" r="5.8"/>
<circle cx="395.4" cy="681.1" r="5.8"/>
<circle cx="377.9" cy="967.5" r="5.8"/>
<circle cx="349.3" cy="902.3" r="5.8"/>
<circle cx="306.7" cy="854.9" r="5.8"/>
<circle cx="510.2" cy="741.4" r="5.8"/>
<circle cx="377.9" cy="741.3" r="5.8"/>
<circle cx="393.5" cy="968.0" r="5.8"/>
<circle cx="347.8" cy="917.0" r="5.8"/>
<circle cx="524.2" cy="865.2" r="5.8"/>
<circle cx="365.6" cy="965.2" r="5.8"/>
<circle cx="312.9" cy="909.7" r="5.8"/>
<circle cx="307.5" cy="867.8" r="5.8"/>
<circle cx="212.9" cy="661.9" r="5.8"/>
<circle cx="545.6" cy="968.7" r="5.8"/>
<circle cx="437.9" cy="862.3" r="5.8"/>
<circle cx="509.1" cy="1031.5" r="5.8"/>
<circle cx="478.3" cy="897.7" r="5.8"/>
<circle cx="336.4" cy="769.3" r="5.8"/>
<circle cx="544.5" cy="686.9" r="5.8"/>
<circle cx="525.2" cy="696.1" r="5.8"/>
<circle cx="336.3" cy="887.2" r="5.8"/>
<circle cx="392.4" cy="807.4" r="5.8"/>
<circle cx="491.5" cy="891.4" r="5.8"/>
<circle cx="454.5" cy="801.2" r="5.8"/>
<circle cx="383.4" cy="789.2" r="5.8"/>
<circle cx="386.3" cy="712.5" r="5.8"/>
<circle cx="299.2" cy="717.5" r="5.8"/>
<circle cx="532.1" cy="981.5" r="5.8"/>
<circle cx="426.6" cy="947.1" r="5.8"/>
<circle cx="323.3" cy="671.0" r="5.8"/>
<circle cx="322.2" cy="743.2" r="5.8"/>
<circle cx="384.9" cy="879.3" r="5.8"/>
<circle cx="367.3" cy="966.1" r="5.8"/>
<circle cx="445.6" cy="995.9" r="5.8"/>
<circle cx="358.0" cy="693.9" r="5.8"/>
<circle cx="540.3" cy="889.7" r="5.8"/>
<circle cx="452.0" cy="841.0" r="5.8"/>
<circle cx="377.1" cy="799.0" r="5.8"/>
<circle cx="427.8" cy="871.7" r="5.8"/>
<circle cx="306.2" cy="892.0" r="5.8"/>
<circle cx="384.3" cy="926.4" r="5.8"/>
<circle cx="268.7" cy="726.5" r="5.8"/>
<circle cx="446.8" cy="699.2" r="5.8"/>
<circle cx="368.7" cy="911.7" r="5.8"/>
<circle cx="494.6" cy="1074.7" r="5.8"/>
<circle cx="472.0" cy="929.8" r="5.8"/>
<circle cx="275.9" cy="829.8" r="5.8"/>
<circle cx="421.3" cy="778.9" r="5.8"/>
<circle cx="337.4" cy="775.4" r="5.8"/>
<circle cx="354.3" cy="832.3" r="5.8"/>
<circle cx="417.0" cy="1068.5" r="5.8"/>
<circle cx="510.4" cy="960.0" r="5.8"/>
<circle cx="358.5" cy="919.8" r="5.8"/>
<circle cx="343.6" cy="682.4" r="5.8"/>
<circle cx="308.3" cy="888.0" r="5.8"/>
<circle cx="551.4" cy="862.8" r="5.8"/>
<circle cx="548.6" cy="757.9" r="5.8"/>
<circle cx="370.2" cy="708.7" r="5.8"/>
<circle cx="383.3" cy="748.7" r="5.8"/>
<circle cx="527.8" cy="689.8" r="5.8"/>
<circle cx="495.7" cy="860.5" r="5.8"/>
<circle cx="384.0" cy="893.2" r="5.8"/>
<circle cx="437.2" cy="675.4" r="5.8"/>
<circle cx="328.0" cy="773.8" r="5.8"/>
<circle cx="405.0" cy="811.4" r="5.8"/>
<circle cx="290.2" cy="734.3" r="5.8"/>
<circle cx="515.8" cy="862.4" r="5.8"/>
<circle cx="466.2" cy="723.4" r="5.8"/>
<circle cx="450.4" cy="941.7" r="5.8"/>
<circle cx="536.0" cy="838.2" r="5.8"/>
<circle cx="486.9" cy="913.3" r="5.8"/>
<circle cx="286.5" cy="838.6" r="5.8"/>
<circle cx="403.0" cy="801.7" r="5.8"/>
<circle cx="504.6" cy="1096.8" r="5.8"/>
<circle cx="378.0" cy="741.0" r="5.8"/>
<circle cx="302.0" cy="803.5" r="5.8"/>
<circle cx="371.9" cy="784.2" r="5.8"/>
<circle cx="375.6" cy="978.7" r="5.8"/>
<circle cx="518.6" cy="924.6" r="5.8"/>
<circle cx="490.2" cy="756.2" r="5.8"/>
<circle cx="441.4" cy="856.5" r="5.8"/>
<circle cx="306.0" cy="871.0" r="5.8"/>
<circle cx="418.1" cy="1045.7" r="5.8"/>
<circle cx="332.7" cy="847.5" r="5.8"/>
<circle cx="342.7" cy="896.7" r="5.8"/>
<circle cx="355.4" cy="842.6" r="5.8"/>
<circle cx="447.5" cy="710.6" r="5.8"/>
<circle cx="391.9" cy="845.7" r="5.8"/>
<circle cx="522.0" cy="814.9" r="5.8"/>
<circle cx="336.8" cy="763.3" r="5.8"/>
<circle cx="551.0" cy="830.5" r="5.8"/>
<circle cx="525.6" cy="932.9" r="5.8"/>
<circle cx="482.0" cy="729.3" r="5.8"/>
<circle cx="343.7" cy="702.7" r="5.8"/>
<circle cx="319.4" cy="717.8" r="5.8"/>
<circle cx="480.1" cy="849.3" r="5.8"/>
<circle cx="470.9" cy="1004.8" r="5.8"/>
<circle cx="447.6" cy="643.5" r="5.8"/>
<circle cx="358.0" cy="795.1" r="5.8"/>
<circle cx="420.1" cy="690.6" r="5.8"/>
<circle cx="426.1" cy="922.2" r="5.8"/>
<circle cx="499.0" cy="1062.4" r="5.8"/>
<circle cx="396.8" cy="679.8" r="5.8"/>
<circle cx="367.5" cy="661.7" r="5.8"/>
<circle cx="396.4" cy="825.4" r="5.8"/>
<circle cx="478.5" cy="764.0" r="5.8"/>
<circle cx="345.8" cy="693.5" r="5.8"/>
<circle cx="381.9" cy="844.2" r="5.8"/>
<circle cx="516.5" cy="925.5" r="5.8"/>
<circle cx="288.6" cy="764.3" r="5.8"/>
<circle cx="409.5" cy="758.8" r="5.8"/>
<circle cx="504.8" cy="957.1" r="5.8"/>
<circle cx="433.4" cy="1005.3" r="5.8"/>
<circle cx="435.5" cy="1063.0" r="5.8"/>
<circle cx="274.8" cy="733.1" r="5.8"/>
<circle cx="477.5" cy="719.2" r="5.8"/>
<circle cx="359.9" cy="718.8" r="5.8"/>
<circle cx="286.4" cy="734.4" r="5.8"/>
<circle cx="426.6" cy="706.5" r="5.8"/>
<circle cx="419.4" cy="712.8" r="5.8"/>
<circle cx="467.7" cy="877.0" r="5.8"/>
<circle cx="365.9" cy="703.4" r="5.8"/>
<circle cx="346.1" cy="843.7" r="5.8"/>
<circle cx="455.0" cy="775.2" r="5.8"/>
<circle cx="394.1" cy="726.6" r="5.8"/>
<circle cx="435.8" cy="613.6" r="5.8"/>
<circle cx="364.5" cy="862.1" r="5.8"/>
<circle cx="522.5" cy="754.5" r="5.8"/>
<circle cx="425.8" cy="692.3" r="5.8"/>
<circle cx="337.8" cy="706.4" r="5.8"/>
<circle cx="531.7" cy="681.9" r="5.8"/>
<circle cx="517.8" cy="793.3" r="5.8"/>
<circle cx="435.9" cy="720.6" r="5.8"/>
<circle cx="426.0" cy="807.5" r="5.8"/>
<circle cx="532.6" cy="922.7" r="5.8"/>
<circle cx="396.6" cy="864.3" r="5.8"/>
<circle cx="359.0" cy="736.7" r="5.8"/>
<circle cx="401.6" cy="844.3" r="5.8"/>
<circle cx="502.3" cy="1085.8" r="5.8"/>
<circle cx="555.0" cy="828.9" r="5.8"/>
<circle cx="518.4" cy="905.3" r="5.8"/>
<circle cx="520.8" cy="713.6" r="5.8"/>
<circle cx="452.2" cy="728.9" r="5.8"/>
<circle cx="530.4" cy="958.7" r="5.8"/>
<circle cx="498.4" cy="903.0" r="5.8"/>
<circle cx="444.2" cy="652.4" r="5.8"/>
<circle cx="414.6" cy="646.8" r="5.8"/>
<circle cx="351.2" cy="833.0" r="5.8"/>
<circle cx="433.9" cy="789.7" r="5.8"/>
<circle cx="531.4" cy="916.9" r="5.8"/>
<circle cx="495.9" cy="909.7" r="5.8"/>
<circle cx="483.7" cy="788.2" r="5.8"/>
<circle cx="554.5" cy="803.1" r="5.8"/>
<circle cx="441.4" cy="857.9" r="5.8"/>
<circle cx="495.0" cy="773.0" r="5.8"/>
<circle cx="538.6" cy="751.1" r="5.8"/>
<circle cx="381.2" cy="760.5" r="5.8"/>
<circle cx="545.7" cy="795.4" r="5.8"/>
<circle cx="469.6" cy="961.1" r="5.8"/>
<circle cx="482.7" cy="728.5" r="5.8"/>
<circle cx="411.4" cy="864.0" r="5.8"/>
<circle cx="492.5" cy="931.1" r="5.8"/>
<circle cx="526.7" cy="992.4" r="5.8"/>
<circle cx="399.9" cy="748.4" r="5.8"/>
<circle cx="396.9" cy="639.3" r="5.8"/>
<circle cx="495.7" cy="769.1" r="5.8"/>
<circle cx="403.6" cy="866.3" r="5.8"/>
<circle cx="469.2" cy="1007.9" r="5.8"/>
<circle cx="420.1" cy="800.2" r="5.8"/>
<circle cx="484.8" cy="712.0" r="5.8"/>
<circle cx="436.8" cy="671.1" r="5.8"/>
<circle cx="350.3" cy="845.3" r="5.8"/>
<circle cx="541.3" cy="778.7" r="5.8"/>
<circle cx="298.4" cy="695.2" r="5.8"/>
<circle cx="295.6" cy="651.6" r="5.8"/>
<circle cx="399.4" cy="727.9" r="5.8"/>
<circle cx="415.2" cy="772.8" r="5.8"/>
<circle cx="369.8" cy="797.4" r="5.8"/>
<circle cx="453.5" cy="984.4" r="5.8"/>
<circle cx="373.1" cy="779.3" r="5.8"/>
<circle cx="395.0" cy="820.2" r="5.8"/>
<circle cx="344.0" cy="814.1" r="5.8"/>
<circle cx="355.8" cy="715.3" r="5.8"/>
<circle cx="519.3" cy="964.0" r="5.8"/>
<circle cx="368.7" cy="724.9" r="5.8"/>
<circle cx="452.9" cy="928.2" r="5.8"/>
<circle cx="367.7" cy="823.0" r="5.8"/>
<circle cx="302.1" cy="740.5" r="5.8"/>
<circle cx="483.6" cy="1024.1" r="5.8"/>
<circle cx="281.2" cy="711.7" r="5.8"/>
<circle cx="484.6" cy="967.0" r="5.8"/>
<circle cx="444.6" cy="997.9" r="5.8"/>
<circle cx="459.6" cy="887.1" r="5.8"/>
<circle cx="341.2" cy="836.2" r="5.8"/>
<circle cx="314.8" cy="767.3" r="5.8"/>
<circle cx="368.3" cy="869.7" r="5.8"/>
<circle cx="476.9" cy="917.7" r="5.8"/>
<circle cx="430.8" cy="941.1" r="5.8"/>
<circle cx="551.2" cy="730.1" r="5.8"/>
<circle cx="482.3" cy="893.6" r="5.8"/>
<circle cx="447.4" cy="966.6" r="5.8"/>
<circle cx="456.2" cy="747.2" r="5.8"/>
<circle cx="358.6" cy="712.0" r="5.8"/>
<circle cx="458.0" cy="958.2" r="5.8"/>
<circle cx="459.4" cy="904.7" r="5.8"/>
<circle cx="326.6" cy="774.5" r="5.8"/>
<circle cx="406.6" cy="836.8" r="5.8"/>
<circle cx="484.9" cy="920.8" r="5.8"/>
<circle cx="535.9" cy="927.5" r="5.8"/>
<circle cx="531.4" cy="777.8" r="5.8"/>
<circle cx="364.0" cy="877.0" r="5.8"/>
<circle cx="519.3" cy="851.4" r="5.8"/>
<circle cx="509.0" cy="1001.3" r="5.8"/>
<circle cx="417.7" cy="763.2" r="5.8"/>
<circle cx="395.1" cy="857.3" r="5.8"/>
<circle cx="479.4" cy="688.4" r="5.8"/>
<circle cx="435.3" cy="650.0" r="5.8"/>
<circle cx="529.5" cy="762.4" r="5.8"/>
<circle cx="539.9" cy="723.3" r="5.8"/>
<circle cx="433.5" cy="873.7" r="5.8"/>
<circle cx="427.6" cy="741.0" r="5.8"/>
<circle cx="494.3" cy="872.7" r="5.8"/>
<circle cx="411.4" cy="958.7" r="5.8"/>
<circle cx="519.8" cy="974.1" r="5.8"/>
<circle cx="480.4" cy="807.3" r="5.8"/>
<circle cx="477.5" cy="864.3" r="5.8"/>
<circle cx="367.0" cy="801.4" r="5.8"/>
<circle cx="514.8" cy="825.3" r="5.8"/>
<circle cx="511.6" cy="1013.9" r="5.8"/>
<circle cx="424.9" cy="932.2" r="5.8"/>
<circle cx="498.7" cy="735.6" r="5.8"/>
<circle cx="474.3" cy="785.4" r="5.8"/>
<circle cx="363.3" cy="620.2" r="5.8"/>
<circle cx="510.0" cy="846.4" r="5.8"/>
<circle cx="440.7" cy="897.0" r="5.8"/>
<circle cx="460.6" cy="855.9" r="5.8"/>
<circle cx="351.9" cy="776.2" r="5.8"/>
<circle cx="281.8" cy="706.1" r="5.8"/>
<circle cx="467.0" cy="832.3" r="5.8"/>
<circle cx="357.9" cy="644.6" r="5.8"/>
<circle cx="478.6" cy="893.5" r="5.8"/>
<circle cx="530.4" cy="924.8" r="5.8"/>
<circle cx="536.9" cy="916.8" r="5.8"/>
<circle cx="513.7" cy="922.9" r="5.8"/>
<circle cx="533.5" cy="856.8" r="5.8"/>
<circle cx="426.8" cy="762.6" r="5.8"/>
<circle cx="475.4" cy="875.1" r="5.8"/>
<circle cx="533.1" cy="883.5" r="5.8"/>
<circle cx="423.4" cy="865.8" r="5.8"/>
<circle cx="529.8" cy="917.4" r="5.8"/>
<circle cx="494.2" cy="856.0" r="5.8"/>
<circle cx="481.1" cy="857.4" r="5.8"/>
<circle cx="536.7" cy="693.6" r="5.8"/>
<circle cx="515.0" cy="697.9" r="5.8"/>
<circle cx="502.4" cy="776.8" r="5.8"/>
<circle cx="518.2" cy="1003.7" r="5.8"/>
<circle cx="484.5" cy="635.9" r="5.8"/>
<circle cx="429.5" cy="796.4" r="5.8"/>
<circle cx="425.1" cy="952.7" r="5.8"/>
<circle cx="456.3" cy="801.7" r="5.8"/>
<circle cx="472.0" cy="783.9" r="5.8"/>
<circle cx="542.1" cy="883.2" r="5.8"/>
<circle cx="394.3" cy="763.6" r="5.8"/>
<circle cx="463.5" cy="984.1" r="5.8"/>
<circle cx="390.2" cy="726.9" r="5.8"/>
<circle cx="500.6" cy="876.8" r="5.8"/>
<circle cx="499.6" cy="903.9" r="5.8"/>
<circle cx="357.8" cy="832.3" r="5.8"/>
<circle cx="489.8" cy="833.2" r="5.8"/>
<circle cx="474.2" cy="952.9" r="5.8"/>
<circle cx="488.7" cy="1001.7" r="5.8"/>
<circle cx="340.6" cy="742.2" r="5.8"/>
<circle cx="392.1" cy="838.4" r="5.8"/>
<circle cx="465.9" cy="817.9" r="5.8"/>
<circle cx="371.0" cy="679.1" r="5.8"/>
<circle cx="442.7" cy="890.1" r="5.8"/>
<circle cx="366.6" cy="776.7" r="5.8"/>
<circle cx="447.8" cy="773.9" r="5.8"/>
<circle cx="419.3" cy="914.8" r="5.8"/>
<circle cx="307.8" cy="710.0" r="5.8"/>
<circle cx="470.1" cy="978.0" r="5.8"/>
<circle cx="545.0" cy="835.2" r="5.8"/>
<circle cx="479.7" cy="711.1" r="5.8"/>
<circle cx="464.6" cy="751.1" r="5.8"/>
<circle cx="512.4" cy="845.6" r="5.8"/>
<circle cx="535.5" cy="811.3" r="5.8"/>
<circle cx="497.8" cy="687.2" r="5.8"/>
<circle cx="536.2" cy="651.4" r="5.8"/>
<circle cx="532.5" cy="914.4" r="5.8"/>
<circle cx="470.2" cy="734.5" r="5.8"/>
<circle cx="456.7" cy="855.0" r="5.8"/>
<circle cx="497.1" cy="964.8" r="5.8"/>
<circle cx="404.1" cy="688.9" r="5.8"/>
<circle cx="454.2" cy="816.9" r="5.8"/>
<circle cx="353.1" cy="799.2" r="5.8"/>
<circle cx="364.0" cy="718.0" r="5.8"/>
<circle cx="454.5" cy="847.7" r="5.8"/>
<circle cx="368.1" cy="755.0" r="5.8"/>
<circle cx="489.0" cy="813.4" r="5.8"/>
<circle cx="455.1" cy="905.7" r="5.8"/>
<circle cx="469.3" cy="855.5" r="5.8"/>
<circle cx="529.0" cy="856.8" r="5.8"/>
<circle cx="537.0" cy="731.4" r="5.8"/>
<circle cx="401.8" cy="809.9" r="5.8"/>
<circle cx="535.1" cy="660.9" r="5.8"/>
<circle cx="450.8" cy="892.3" r="5.8"/>
<circle cx="477.5" cy="851.7" r="5.8"/>
<circle cx="517.6" cy="915.9" r="5.8"/>
<circle cx="372.4" cy="662.8" r="5.8"/>
<circle cx="507.3" cy="753.8" r="5.8"/>
<circle cx="512.3" cy="793.9" r="5.8"/>
<circle cx="493.5" cy="945.6" r="5.8"/>
<circle cx="515.9" cy="920.1" r="5.8"/>
<circle cx="455.1" cy="781.2" r="5.8"/>
<circle cx="479.6" cy="758.7" r="5.8"/>
<circle cx="427.9" cy="879.9" r="5.8"/>
<circle cx="517.0" cy="765.0" r="5.8"/>
<circle cx="460.3" cy="622.3" r="5.8"/>
<circle cx="441.0" cy="679.0" r="5.8"/>
<circle cx="537.7" cy="863.4" r="5.8"/>
<circle cx="415.0" cy="733.6" r="5.8"/>
<circle cx="514.5" cy="853.9" r="5.8"/>
<circle cx="511.9" cy="883.7" r="5.8"/>
<circle cx="447.2" cy="870.0" r="5.8"/>
<circle cx="449.6" cy="847.5" r="5.8"/>
<circle cx="330.8" cy="728.2" r="5.8"/>
<circle cx="509.8" cy="924.3" r="5.8"/>
<circle cx="496.3" cy="921.8" r="5.8"/>
<circle cx="409.8" cy="700.7" r="5.8"/>
<circle cx="457.4" cy="847.5" r="5.8"/>
<circle cx="395.2" cy="675.9" r="5.8"/>
<circle cx="513.5" cy="941.7" r="5.8"/>
<circle cx="490.6" cy="760.2" r="5.8"/>
<circle cx="486.8" cy="699.0" r="5.8"/>
<circle cx="453.2" cy="774.9" r="5.8"/>
<circle cx="515.4" cy="886.4" r="5.8"/>
<circle cx="317.0" cy="678.4" r="5.8"/>
<circle cx="463.1" cy="750.1" r="5.8"/>
<circle cx="454.0" cy="873.6" r="5.8"/>
<circle cx="479.7" cy="667.0" r="5.8"/>
<circle cx="414.7" cy="849.6" r="5.8"/>
<circle cx="439.6" cy="901.2" r="5.8"/>
<circle cx="482.7" cy="882.6" r="5.8"/>
<circle cx="529.6" cy="925.4" r="5.8"/>
<circle cx="437.2" cy="736.1" r="5.8"/>
<circle cx="401.1" cy="817.2" r="5.8"/>
<circle cx="468.3" cy="870.3" r="5.8"/>
<circle cx="464.4" cy="705.4" r="5.8"/>
<circle cx="446.1" cy="838.3" r="5.8"/>
<circle cx="521.5" cy="879.8" r="5.8"/>
<circle cx="361.9" cy="722.6" r="5.8"/>
<circle cx="467.3" cy="752.7" r="5.8"/>
<circle cx="378.7" cy="730.1" r="5.8"/>
<circle cx="416.3" cy="792.6" r="5.8"/>
<circle cx="499.0" cy="675.1" r="5.8"/>
<circle cx="520.4" cy="858.5" r="5.8"/>
<circle cx="403.0" cy="798.3" r="5.8"/>
<circle cx="507.7" cy="782.6" r="5.8"/>
<circle cx="471.2" cy="909.7" r="5.8"/>
<circle cx="482.1" cy="750.4" r="5.8"/>
<circle cx="521.4" cy="820.3" r="5.8"/>
<circle cx="373.4" cy="715.2" r="5.8"/>
<circle cx="382.4" cy="722.7" r="5.8"/>
<circle cx="460.2" cy="823.6" r="5.8"/>
<circle cx="526.9" cy="828.3" r="5.8"/>
<circle cx="365.0" cy="703.7" r="5.8"/>
<circle cx="485.5" cy="762.5" r="5.8"/>
<circle cx="518.8" cy="635.6" r="5.8"/>
<circle cx="521.9" cy="697.5" r="5.8"/>
<circle cx="512.7" cy="860.6" r="5.8"/>
<circle cx="479.7" cy="796.4" r="5.8"/>
<circle cx="470.0" cy="876.7" r="5.8"/>
<circle cx="468.0" cy="890.0" r="5.8"/>
<circle cx="522.0" cy="916.7" r="5.8"/>
<circle cx="412.7" cy="756.4" r="5.8"/>
<circle cx="428.4" cy="699.9" r="5.8"/>
<circle cx="516.8" cy="754.2" r="5.8"/>
<circle cx="444.0" cy="840.4" r="5.8"/>
<circle cx="538.2" cy="775.9" r="5.8"/>
<circle cx="428.5" cy="770.3" r="5.8"/>
<circle cx="509.8" cy="805.7" r="5.8"/>
<circle cx="457.1" cy="757.3" r="5.8"/>
<circle cx="483.9" cy="873.9" r="5.8"/>
<circle cx="508.5" cy="751.1" r="5.8"/>
<circle cx="409.2" cy="651.1" r="5.8"/>
<circle cx="457.7" cy="740.2" r="5.8"/>
<circle cx="500.4" cy="793.8" r="5.8"/>
<circle cx="522.2" cy="807.9" r="5.8"/>
<circle cx="476.0" cy="804.7" r="5.8"/>
<circle cx="501.7" cy="818.6" r="5.8"/>
<circle cx="532.0" cy="718.9" r="5.8"/>
<circle cx="449.1" cy="758.1" r="5.8"/>
<circle cx="536.0" cy="708.1" r="5.8"/>
<circle cx="439.2" cy="694.4" r="5.8"/>
<circle cx="479.5" cy="828.4" r="5.8"/>
<circle cx="518.9" cy="888.0" r="5.8"/>
<circle cx="475.8" cy="775.0" r="5.8"/>
<circle cx="447.2" cy="746.1" r="5.8"/>
<circle cx="491.4" cy="834.5" r="5.8"/>
<circle cx="492.7" cy="724.6" r="5.8"/>
<circle cx="415.7" cy="690.1" r="5.8"/>
<circle cx="519.2" cy="718.1" r="5.8"/>
<circle cx="463.4" cy="694.7" r="5.8"/>
<circle cx="484.9" cy="802.0" r="5.8"/>
<circle cx="504.1" cy="664.9" r="5.8"/>
<circle cx="520.6" cy="776.1" r="5.8"/>
<circle cx="500.6" cy="728.7" r="5.8"/>
<circle cx="492.6" cy="676.8" r="5.8"/>
<circle cx="492.1" cy="676.1" r="5.8"/>
<circle cx="490.8" cy="724.9" r="5.8"/>
<circle cx="509.7" cy="678.2" r="5.8"/>
</g>
<g fill="none" stroke="#000" stroke-width="3">
<rect x="141.5" y="205.5" width="379" height="971"/>
<rect x="306.5" y="110.5" width="378" height="971"/>
<path d="M141.5 205.5L306.5 110.5M520.5 205.5L684.5 110.5M141.5 1176.5L306.5 1081.5M520.5 1176.5L684.5 1081.5"/>
</g>
<g fill="none" stroke="#4472c4" stroke-width="2">
<rect x="230" y="155" width="379" height="971"/>
<path d="M230 777.6H609M230 898.8H609M230 1018.8H609"/>
</g>
<g fill="none" stroke="#ff0000" stroke-width="7" stroke-linecap="butt">
<path d="M141.5 828.3H520.5M520.5 828.3L685.5 733.3M685.5 733.3H306.5M306.5 733.3L141.5 828.3"/>
<path d="M141.5 951.3H520.5M520.5 951.3L685.5 856.3M685.5 856.3H306.5M306.5 856.3L141.5 951.3"/>
<path d="M141.5 1069.4H520.5M520.5 1069.4L685.5 974.4M685.5 974.4H306.5M306.5 974.4L141.5 1069.4"/>
</g>
<g fill="none" stroke="#70ad47" stroke-width="2">
<path d="M330.5 205.5V1176.5M495.5 110.5V1081.5M330.5 205.5L495.5 110.5M330.5 1176.5L495.5 1081.5M330.5 828.3L495.5 733.3M330.5 951.3L495.5 856.3M330.5 1069.4L495.5 974.4"/>
</g>
<g fill="#000">
<polygon points="310.0,80.5 345.0,98.0 345.0,84.0 469.0,84.0 469.0,98.0 504.0,80.5 469.0,63.0 469.0,77.0 345.0,77.0 345.0,63.0"/>
<polygon points="506.0,80.5 541.0,98.0 541.0,84.0 665.0,84.0 665.0,98.0 700.0,80.5 665.0,63.0 665.0,77.0 541.0,77.0 541.0,63.0"/>
<polygon points="740.5,101.0 723.3,135.5 737.0,135.5 737.0,697.8 723.3,697.8 740.5,732.3 757.7,697.8 744.0,697.8 744.0,135.5 757.7,135.5"/>
<polygon points="740.5,734.2 723.3,768.7 737.0,768.7 737.0,817.7 723.3,817.7 740.5,852.2 757.7,817.7 744.0,817.7 744.0,768.7 757.7,768.7"/>
<polygon points="740.5,856.9 723.3,891.4 737.0,891.4 737.0,932.9 723.3,932.9 740.5,967.4 757.7,932.9 744.0,932.9 744.0,891.4 757.7,891.4"/>
<polygon points="740.5,969.9 723.3,1004.4 737.0,1004.4 737.0,1045.2 723.3,1045.2 740.5,1079.7 757.7,1045.2 744.0,1045.2 744.0,1004.4 757.7,1004.4"/>
<polygon points="209.3,139.2 248.2,135.0 240.6,123.2 266.6,106.6 274.2,118.3 294.2,84.7 255.3,88.9 262.9,100.7 236.9,117.3 229.3,105.6"/>
<polygon points="121.9,193.8 160.8,189.9 153.4,178.1 180.2,161.2 187.6,173.1 207.9,139.6 169.0,143.5 176.4,155.3 149.6,172.2 142.2,160.3"/>
</g>
<g class="tx">
<text transform="translate(347.4,53) scale(0.942,1)">10 cells</text>
<text transform="translate(541,52.8) scale(0.942,1)">10 cells</text>
<text transform="translate(108.8,98.8) scale(0.942,1)">10 cells</text>
<text transform="translate(19.1,155.8) scale(0.942,1)">10 cells</text>
<text transform="translate(784.6,458.2) scale(0.942,1)">70 cells</text>
<text transform="translate(784.6,806.7) scale(0.942,1)">10 cells</text>
<text transform="translate(784.6,928.1) scale(0.942,1)">10 cells</text>
<text transform="translate(784.6,1039.7) scale(0.942,1)">10 cells</text>
</g>
</svg>
</body></html>
